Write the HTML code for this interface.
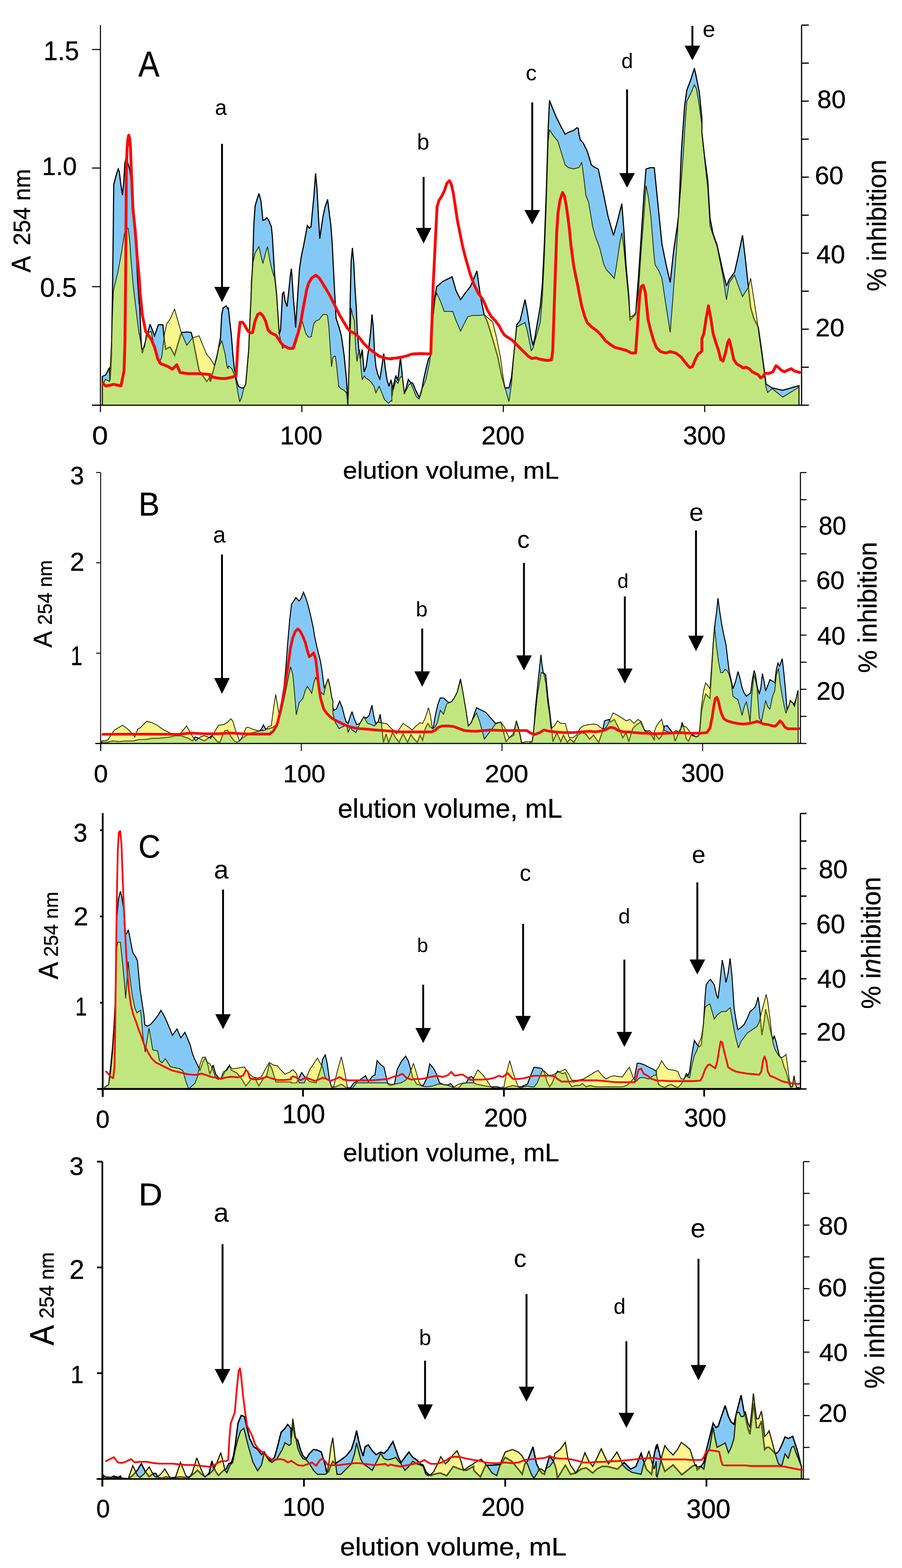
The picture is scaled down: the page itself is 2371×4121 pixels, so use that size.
<!DOCTYPE html>
<html><head><meta charset="utf-8"><title>Elution profiles A-D</title>
<style>
html,body{margin:0;padding:0;background:#fff;}
body{width:2371px;height:4121px;overflow:hidden;}
svg{display:block;font-family:"Liberation Sans", Arial, sans-serif;}
.fb{fill:#84c9f5;stroke:none}
.fy{fill:#f8f68c;stroke:none}
.fg{fill:#c1e67f;stroke:none}
.lb{fill:none;stroke:#000;stroke-width:var(--bw);stroke-linejoin:miter;stroke-miterlimit:3}
.lbo{fill:none;stroke:#6b6f0a;stroke-width:2.2;stroke-linejoin:miter;stroke-miterlimit:3}
.ly{fill:none;stroke:#1c2200;stroke-width:var(--yw);stroke-linejoin:miter;stroke-miterlimit:3}
.lr{fill:none;stroke:#f80a0a;stroke-width:var(--rw);stroke-linejoin:round;stroke-linecap:round}
.ax line{stroke:#000}
.as{stroke:#000;stroke-width:5}
.ar polygon{fill:#000}
.tx text{fill:#000;stroke:#000;stroke-width:0.6}
.tx text.l{stroke:none}
</style></head>
<body>
<svg width="2371" height="4121" viewBox="0 0 2371 4121">
<defs><clipPath id="clipA"><polygon points="269.0,1065 269.0,1011.3 277.5,996.7 287.8,1002.5 292.2,914.8 298.0,768.9 298.0,768.0 299.0,760.0 305.0,735.0 310.0,715.0 313.6,695.0 320.0,660.0 326.8,615.0 333.0,600.0 337.0,600.0 341.4,637.0 344.3,681.0 350.0,750.0 356.0,800.0 362.0,850.0 366.0,880.0 366.0,875.7 372.6,917.7 379.9,911.9 384.3,879.7 390.1,873.9 397.4,870.9 406.2,914.8 417.9,955.7 425.2,938.2 432.5,876.8 438.4,850.5 447.1,838.8 458.8,812.5 476.4,873.9 491.0,907.5 505.6,888.5 523.2,882.6 543.6,932.3 552.0,941.3 552.0,941.4 564.0,960.4 569.2,943.2 574.3,915.7 582.9,895.1 591.5,929.5 596.7,963.8 600.0,969.1 600.0,962.0 605.0,965.0 610.0,970.0 616.0,985.0 620.0,1000.0 625.0,1030.0 630.0,1056.0 635.0,1045.0 641.0,1020.0 646.0,1009.0 649.0,975.0 654.0,917.0 656.0,860.0 660.0,780.0 660.2,740.6 665.3,689.1 670.5,665.0 680.8,647.9 685.9,671.9 691.1,692.5 698.0,665.0 703.1,647.9 708.3,678.8 711.7,695.9 716.9,716.5 722.0,730.3 727.2,774.9 730.6,826.4 734.0,877.9 742.6,915.7 749.5,908.8 759.8,915.7 766.6,912.3 773.5,915.7 780.4,895.1 787.3,860.8 794.1,843.6 799.3,860.8 804.4,877.9 811.3,886.5 818.2,884.8 825.0,850.5 830.2,843.6 838.8,840.2 849.1,826.4 857.7,826.4 861.1,829.9 864.5,860.8 868.0,912.3 871.4,963.8 874.8,939.8 878.3,936.3 881.7,936.3 885.1,963.8 890.3,1015.3 897.1,1022.2 904.0,1025.6 910.9,1032.5 914.3,1063.4 917.7,963.8 922.9,809.3 926.3,826.4 931.5,843.6 934.9,915.7 938.4,950.1 941.8,929.5 945.2,919.1 948.7,963.8 952.1,998.1 957.2,987.8 962.4,994.7 969.3,998.1 976.1,1005.0 983.0,1015.3 988.1,1032.5 996.7,1015.3 1003.6,1032.5 1010.5,1049.6 1020.8,1059.9 1027.6,1053.1 1030.0,1054.4 1030.0,1004.1 1033.7,1024.7 1040.6,1000.7 1045.8,1007.6 1052.6,990.4 1057.8,990.4 1063.0,1035.1 1068.1,1024.7 1075.0,1011.0 1080.1,1007.6 1087.0,1024.7 1093.9,1041.9 1100.8,1048.8 1107.6,1024.7 1112.8,1014.4 1119.7,997.3 1124.8,973.2 1130.0,949.1 1136.8,852.9 1143.7,784.2 1147.8,770.4 1157.5,791.1 1167.8,818.6 1178.1,818.6 1190.1,818.6 1198.7,842.6 1210.7,870.1 1219.3,852.9 1229.6,832.3 1243.4,828.9 1260.5,828.9 1272.6,827.1 1294.9,846.0 1305.2,887.3 1315.5,938.8 1322.4,990.4 1327.6,1019.6 1337.9,1055.7 1344.7,1007.6 1349.9,938.8 1355.1,887.3 1358.5,859.8 1367.1,854.6 1380.1,847.8 1386.0,870.1 1391.1,894.2 1396.3,921.6 1401.4,914.8 1406.6,894.2 1411.8,877.0 1420.3,846.0 1425.5,784.2 1430.7,681.1 1435.8,543.6 1441.0,371.8 1444.4,340.9 1453.0,354.6 1466.7,371.8 1477.0,406.2 1485.6,433.7 1494.2,440.5 1508.0,444.0 1520.0,440.5 1522.0,440.4 1529.1,426.2 1534.5,466.2 1540.0,513.4 1547.2,531.6 1558.2,597.0 1565.4,622.5 1576.3,651.6 1587.2,695.2 1594.5,709.7 1605.4,720.6 1614.5,731.5 1618.1,713.3 1623.6,677.0 1629.0,640.7 1634.5,611.6 1639.9,651.6 1645.4,713.3 1650.8,767.9 1656.3,833.3 1663.6,829.6 1670.8,822.4 1678.1,767.9 1685.4,658.8 1692.6,568.0 1698.1,488.0 1703.5,513.4 1710.8,568.0 1718.1,658.8 1721.7,695.2 1732.6,713.3 1739.9,731.5 1750.8,804.2 1761.7,873.3 1767.1,804.2 1772.6,731.5 1778.0,658.8 1783.5,568.0 1790.8,477.1 1796.2,404.4 1801.7,313.6 1805.3,266.3 1816.2,244.5 1825.3,222.7 1830.7,233.6 1838.0,277.2 1845.0,329.7 1845.0,352.0 1852.2,420.9 1860.3,493.4 1866.4,594.2 1874.4,618.4 1884.5,646.6 1892.6,686.9 1900.6,727.2 1909.5,787.7 1916.7,743.4 1930.9,723.2 1940.9,751.4 1951.8,779.6 1959.1,767.6 1967.1,755.5 1973.2,731.3 1981.2,783.7 1989.3,836.1 1997.4,896.6 2005.4,953.0 2013.5,1017.5 2017.5,1031.6 2029.6,1021.5 2057.8,1043.7 2100.2,1017.5 2100.2,1065"/></clipPath><clipPath id="clipB"><polygon points="267.2,1954 267.2,1947.3 282.6,1945.5 299.8,1919.8 322.1,1906.0 335.8,1916.3 347.9,1928.4 354.7,1937.0 361.6,1916.3 368.5,1912.9 375.3,1906.0 385.6,1895.7 399.4,1899.2 413.1,1906.0 426.8,1916.3 440.6,1923.2 454.3,1930.1 468.0,1933.5 478.3,1923.2 490.4,1907.8 499.0,1923.2 509.3,1940.4 514.4,1947.3 526.4,1937.0 536.7,1933.5 547.0,1937.0 553.9,1940.4 564.2,1923.2 574.5,1906.0 588.2,1904.3 596.8,1899.2 607.1,1888.9 612.3,1895.7 619.1,1919.8 626.0,1937.0 629.4,1947.3 636.3,1937.0 646.6,1912.9 651.8,1911.2 663.8,1916.3 681.0,1921.5 687.8,1919.8 690.0,1918.1 690.0,1920.8 692.4,1920.1 698.3,1918.4 704.9,1910.1 713.2,1906.8 719.8,1855.4 724.8,1825.5 729.8,1855.4 733.1,1875.3 739.8,1868.6 746.4,1838.8 751.4,1813.9 759.7,1772.4 763.8,1752.4 769.6,1772.4 772.9,1805.6 776.3,1847.1 778.8,1878.6 786.2,1847.1 796.2,1835.4 802.8,1813.9 807.8,1803.9 814.4,1813.9 819.4,1822.2 824.4,1797.3 829.4,1780.7 834.4,1789.0 839.3,1813.9 846.0,1822.2 851.0,1825.5 856.8,1798.9 862.6,1784.0 867.6,1805.6 872.5,1835.4 875.0,1841.6 875.0,1874.6 880.8,1897.7 891.1,1914.9 898.0,1911.5 904.8,1908.0 911.7,1908.0 915.1,1925.2 920.3,1911.5 925.4,1918.4 935.7,1925.2 944.3,1904.6 956.3,1884.0 966.6,1901.2 977.0,1904.6 983.8,1908.0 994.1,1897.7 1001.0,1899.5 1011.3,1901.2 1018.2,1902.9 1025.0,1911.5 1035.3,1920.1 1042.2,1928.7 1052.5,1911.5 1059.4,1901.2 1069.7,1908.0 1083.4,1918.4 1093.7,1908.0 1104.0,1899.5 1110.9,1901.2 1117.7,1887.4 1126.3,1860.0 1131.5,1880.6 1136.6,1914.9 1143.5,1911.5 1150.4,1897.7 1157.2,1866.8 1165.8,1877.1 1174.4,1849.7 1186.4,1844.5 1193.3,1835.9 1201.9,1818.8 1210.5,1787.9 1217.3,1822.2 1224.2,1863.4 1231.1,1908.0 1240.0,1897.7 1240.0,1895.5 1240.6,1894.3 1252.6,1873.7 1261.2,1897.7 1273.2,1942.4 1288.7,1921.8 1302.4,1902.9 1316.2,1897.7 1326.5,1911.5 1333.3,1928.7 1338.5,1939.0 1348.8,1928.7 1357.4,1894.3 1362.5,1914.9 1367.7,1932.1 1371.1,1952.7 1381.4,1949.3 1398.6,1949.3 1405.4,1897.7 1412.3,1829.1 1419.2,1787.9 1422.6,1767.3 1429.5,1770.7 1434.6,1794.7 1439.8,1846.2 1444.9,1880.6 1448.4,1914.9 1457.0,1908.0 1465.5,1894.3 1474.1,1901.2 1486.1,1901.2 1491.3,1921.8 1496.4,1939.0 1505.0,1939.0 1515.3,1932.1 1523.9,1914.9 1532.5,1908.0 1546.2,1904.6 1560.0,1902.9 1570.3,1904.6 1577.1,1911.5 1584.0,1914.9 1590.9,1914.9 1597.7,1904.6 1611.5,1873.7 1621.8,1878.9 1635.5,1887.4 1645.8,1894.3 1656.1,1890.9 1666.4,1901.2 1676.7,1890.9 1685.3,1896.0 1695.6,1921.8 1707.6,1920.1 1720.0,1932.1 1720.0,1922.1 1721.1,1919.9 1725.3,1908.6 1731.0,1900.2 1739.4,1890.3 1746.5,1919.9 1753.5,1922.7 1763.4,1925.5 1770.4,1925.5 1776.0,1919.9 1784.5,1922.7 1792.9,1908.6 1798.6,1908.6 1804.2,1911.4 1812.6,1922.7 1821.1,1933.9 1829.5,1936.8 1836.6,1933.9 1839.4,1914.2 1843.6,1857.9 1849.2,1815.7 1854.9,1794.6 1860.5,1801.6 1866.1,1810.0 1870.4,1750.9 1874.6,1689.0 1878.0,1643.9 1883.0,1694.6 1888.7,1739.6 1894.3,1767.8 1899.9,1767.8 1905.6,1759.4 1911.2,1762.2 1916.8,1773.4 1922.5,1796.0 1926.7,1829.8 1933.7,1835.4 1939.4,1838.2 1945.0,1857.9 1950.6,1880.4 1956.2,1857.9 1961.9,1843.8 1967.5,1872.0 1971.7,1897.3 1976.0,1829.8 1981.6,1773.4 1985.8,1787.5 1990.0,1807.2 1995.7,1886.1 2001.3,1897.3 2006.9,1869.2 2012.6,1841.0 2018.2,1857.9 2023.8,1863.5 2030.9,1829.8 2036.5,1815.7 2040.7,1773.4 2046.4,1756.5 2050.6,1796.0 2056.2,1829.8 2061.8,1857.9 2066.1,1874.8 2071.7,1857.9 2077.3,1843.8 2083.0,1846.6 2088.6,1857.9 2094.2,1829.8 2098.0,1815.7 2098.0,1954"/></clipPath><clipPath id="clipC"><polygon points="275.3,2862 275.3,2857.4 285.6,2850.5 290.8,2819.6 295.9,2768.1 299.3,2716.6 302.8,2630.8 306.2,2493.4 309.6,2476.2 316.5,2476.2 321.7,2527.7 326.8,2579.3 330.2,2623.9 333.7,2579.3 337.1,2527.7 340.5,2562.1 347.4,2613.6 354.3,2647.9 359.8,2662.0 369.6,2654.8 370.8,2667.9 375.9,2725.9 381.8,2765.0 391.7,2702.0 401.5,2758.9 414.7,2762.6 418.8,2787.0 425.7,2793.5 434.5,2782.6 447.7,2803.3 471.9,2808.8 480.7,2814.1 488.4,2842.0 496.0,2862.0 512.3,2847.1 519.1,2829.9 526.0,2795.6 532.9,2778.4 539.7,2778.4 544.9,2792.2 551.7,2795.6 560.3,2812.8 567.2,2833.4 574.1,2836.8 580.9,2833.4 587.8,2816.2 596.4,2812.8 603.3,2802.5 611.8,2809.3 622.1,2807.6 632.4,2805.9 642.7,2804.2 653.0,2819.6 663.4,2829.9 677.1,2833.4 687.4,2829.9 697.7,2809.3 708.0,2792.2 718.3,2799.0 728.6,2800.8 738.9,2812.8 749.2,2823.1 765.0,2816.2 765.0,2813.3 770.8,2811.7 779.3,2822.0 786.2,2846.0 799.9,2846.0 813.7,2811.7 834.3,2780.8 848.0,2804.8 854.9,2832.3 865.2,2839.2 872.1,2856.3 877.2,2856.3 885.8,2818.6 897.1,2777.4 906.4,2818.6 913.3,2858.1 927.0,2859.8 937.3,2846.0 951.0,2846.0 960.7,2846.0 968.2,2846.0 978.5,2846.0 991.2,2846.0 1000.8,2846.0 1016.3,2846.0 1026.6,2849.5 1036.9,2849.5 1054.1,2846.0 1066.1,2839.2 1074.7,2828.9 1086.7,2794.5 1095.3,2822.0 1102.1,2846.0 1109.0,2854.6 1122.7,2856.3 1136.5,2854.6 1150.2,2849.5 1164.0,2849.5 1177.7,2852.9 1191.4,2858.1 1205.2,2849.5 1218.9,2846.0 1232.6,2846.0 1245.0,2846.0 1245.0,2832.3 1245.6,2832.3 1255.9,2811.7 1269.6,2825.4 1279.9,2839.2 1290.2,2856.3 1297.1,2859.8 1310.9,2859.8 1324.6,2856.3 1331.5,2818.6 1340.0,2787.7 1348.6,2818.6 1355.5,2839.2 1362.4,2856.3 1369.2,2859.8 1376.1,2856.3 1386.4,2854.6 1396.7,2856.3 1403.6,2857.0 1412.2,2846.0 1419.0,2828.9 1425.9,2813.4 1431.0,2815.1 1441.3,2825.4 1451.6,2825.4 1465.4,2818.6 1475.7,2815.1 1486.0,2810.0 1496.3,2825.4 1503.2,2839.2 1516.9,2839.2 1534.1,2835.7 1551.2,2825.4 1561.5,2818.6 1571.8,2813.4 1582.1,2825.4 1592.4,2835.7 1602.7,2830.6 1613.0,2827.2 1623.4,2828.9 1635.4,2830.6 1644.0,2818.6 1654.3,2804.8 1664.6,2832.3 1671.4,2842.6 1681.7,2832.3 1692.0,2832.3 1705.8,2835.7 1719.5,2825.4 1725.0,2825.4 1725.3,2813.3 1731.0,2804.8 1739.4,2787.9 1747.9,2802.0 1756.3,2810.4 1764.8,2811.8 1773.2,2813.3 1781.7,2816.1 1790.1,2835.8 1797.1,2835.8 1804.2,2827.3 1808.4,2830.2 1812.6,2833.0 1818.3,2802.0 1825.3,2773.8 1832.3,2759.8 1838.0,2740.0 1843.6,2726.0 1849.2,2689.4 1853.5,2647.1 1860.5,2641.5 1866.1,2638.7 1871.8,2658.4 1877.4,2678.1 1885.9,2666.8 1897.1,2658.4 1908.4,2658.4 1914.0,2652.7 1919.6,2648.5 1923.9,2675.3 1928.1,2697.8 1933.7,2726.0 1940.8,2754.1 1947.8,2737.2 1956.2,2726.0 1964.7,2714.7 1973.1,2709.1 1981.6,2703.4 1990.0,2697.8 1995.7,2686.5 2001.3,2661.2 2008.3,2635.9 2014.0,2613.3 2018.2,2633.0 2023.8,2675.3 2028.1,2714.7 2032.3,2742.9 2037.9,2759.8 2046.4,2773.8 2054.8,2779.5 2060.4,2776.6 2066.1,2771.0 2070.3,2802.0 2074.5,2835.8 2078.7,2855.5 2083.0,2855.5 2087.2,2827.3 2090.0,2844.2 2094.2,2858.3 2099.9,2858.3 2099.9,2862"/></clipPath><clipPath id="clipD"><polygon points="271.9,3887 271.9,3881.2 319.9,3884.6 337.1,3886.3 349.1,3852.0 361.2,3877.7 368.0,3882.9 378.3,3874.3 392.1,3855.4 404.1,3877.7 410.9,3882.9 421.2,3876.0 433.3,3860.6 445.3,3881.2 452.2,3886.3 460.7,3884.6 474.5,3843.4 488.2,3877.7 496.8,3884.6 505.4,3870.9 517.4,3831.4 529.4,3864.0 538.0,3881.2 550.0,3874.3 560.3,3864.0 570.6,3843.4 580.2,3817.7 586.1,3840.0 591.2,3864.0 596.4,3870.9 605.0,3850.3 611.8,3843.4 618.7,3809.1 625.6,3781.6 632.4,3761.0 641.0,3754.1 653.0,3802.2 665.1,3843.4 677.1,3865.7 687.4,3850.3 694.3,3819.4 701.1,3829.7 708.0,3840.0 714.9,3843.4 721.7,3838.3 728.6,3833.1 742.3,3809.1 749.2,3791.9 759.5,3798.8 765.0,3795.3 765.0,3785.8 769.7,3728.8 775.9,3771.7 782.8,3806.0 789.6,3823.2 796.5,3833.5 805.1,3837.0 813.7,3847.3 824.0,3864.4 834.3,3874.7 844.6,3874.7 854.9,3874.7 860.0,3871.3 865.2,3840.4 869.3,3806.0 874.8,3778.6 880.6,3833.5 885.8,3874.7 896.1,3874.7 909.8,3861.0 923.6,3847.3 932.2,3819.8 937.3,3792.3 942.5,3812.9 947.6,3833.5 954.5,3847.3 964.8,3854.1 978.5,3864.4 988.8,3843.8 1000.8,3819.8 1009.4,3833.5 1019.7,3837.0 1032.8,3833.5 1040.3,3830.1 1047.2,3840.4 1054.1,3847.3 1064.4,3864.4 1074.7,3854.1 1085.0,3840.4 1095.3,3847.3 1105.6,3850.7 1112.4,3854.1 1119.3,3874.7 1126.2,3878.2 1133.0,3874.7 1139.9,3867.9 1150.2,3847.3 1158.8,3828.4 1170.8,3847.3 1177.7,3840.4 1191.4,3823.2 1201.7,3812.9 1208.6,3830.1 1218.9,3864.4 1232.6,3854.1 1245.0,3847.3 1245.0,3845.7 1264.5,3835.2 1276.5,3847.3 1293.7,3871.3 1305.7,3878.2 1317.7,3840.4 1328.0,3816.3 1346.9,3809.5 1362.4,3816.3 1372.7,3826.6 1379.5,3840.4 1386.4,3847.3 1396.7,3874.7 1403.6,3885.0 1412.2,3871.3 1417.3,3861.0 1424.2,3861.0 1431.0,3867.9 1437.9,3857.6 1444.8,3854.1 1455.1,3840.4 1458.5,3819.8 1472.3,3809.5 1486.0,3790.6 1492.9,3833.5 1499.7,3850.7 1513.5,3871.3 1527.2,3847.3 1537.5,3818.1 1547.8,3840.4 1558.1,3854.1 1568.4,3833.5 1580.4,3807.8 1592.4,3833.5 1599.3,3847.3 1609.6,3833.5 1621.6,3816.3 1630.2,3833.5 1637.1,3850.7 1647.4,3861.0 1661.1,3869.6 1685.2,3874.7 1692.0,3847.3 1698.9,3833.5 1705.8,3812.9 1712.6,3840.4 1719.5,3861.0 1725.0,3840.4 1725.0,3878.3 1727.4,3881.7 1734.6,3852.9 1740.4,3824.0 1747.6,3799.5 1757.7,3812.5 1769.2,3824.0 1780.8,3809.6 1790.9,3790.9 1801.0,3798.1 1813.9,3809.6 1821.2,3832.7 1826.9,3850.0 1834.1,3855.8 1841.3,3852.9 1850.0,3861.5 1857.2,3824.0 1865.9,3803.8 1874.5,3751.9 1878.8,3775.0 1884.6,3803.8 1896.2,3798.1 1906.2,3792.3 1914.9,3818.3 1922.1,3803.8 1929.3,3780.8 1935.1,3714.4 1942.3,3711.5 1948.1,3723.1 1953.8,3723.1 1959.6,3711.5 1965.4,3737.5 1971.2,3751.9 1976.9,3700.0 1980.4,3662.5 1984.1,3694.2 1988.5,3728.8 1994.2,3728.8 2001.4,3708.7 2005.8,3737.5 2010.1,3775.0 2015.9,3769.2 2021.6,3760.6 2027.4,3780.8 2033.2,3803.8 2038.9,3824.0 2046.2,3847.1 2054.8,3852.9 2063.5,3821.2 2072.1,3832.7 2080.8,3803.8 2086.5,3801.0 2092.3,3818.3 2098.1,3832.7 2103.8,3847.1 2106.7,3852.9 2106.7,3887"/></clipPath></defs>
<g id="pA" style="--rw:7.5;--bw:3;--yw:2">
<polygon class="fb" points="269.0,1065 269.0,989.4 278.1,985.0 287.8,966.0 289.2,999.6 292.7,944.0 295.7,768.6 298.0,579.5 298.0,578.0 299.0,485.0 305.0,462.0 310.7,444.0 313.6,451.0 317.0,480.0 321.7,512.7 325.3,479.0 328.2,429.0 331.2,415.0 336.0,428.0 341.0,445.0 345.0,475.0 348.7,520.0 353.0,578.5 357.5,651.6 362.0,740.0 366.0,800.0 366.0,772.4 371.1,900.2 374.0,928.0 379.9,906.0 385.7,885.6 394.5,851.9 406.2,882.6 416.4,853.4 428.1,853.4 431.1,885.6 435.4,917.7 447.1,911.9 458.8,933.8 474.9,879.7 477.8,873.9 491.0,872.4 502.7,873.9 507.1,891.4 523.2,973.3 543.6,1002.5 552.0,991.3 552.0,1001.6 553.7,1001.6 570.9,932.9 579.5,888.2 582.9,826.4 586.4,809.3 594.9,804.1 600.0,813.9 600.0,808.0 604.0,845.0 608.0,880.0 612.0,930.0 616.0,969.0 622.0,1000.0 627.0,1016.0 636.0,1020.0 641.0,1019.0 646.0,1009.0 649.0,975.0 654.0,917.0 656.0,860.0 660.0,780.0 660.0,772.4 660.9,757.7 664.3,689.1 667.1,592.9 670.5,541.4 675.6,524.2 680.8,508.8 685.9,527.7 691.1,579.2 696.2,577.5 701.4,572.3 706.6,579.2 713.4,596.3 715.8,620.4 717.9,654.7 722.0,723.4 727.2,774.9 730.6,826.4 734.0,877.9 737.5,867.6 742.6,771.5 746.0,768.0 749.5,792.1 754.6,805.8 759.8,757.7 763.2,723.4 766.0,706.2 768.4,740.6 771.8,792.1 775.2,829.9 777.0,860.8 780.4,809.3 783.8,757.7 787.3,706.2 792.4,671.9 797.6,647.9 802.7,620.4 807.9,592.9 813.0,599.8 817.5,596.3 821.6,551.7 825.0,517.4 829.5,455.5 833.6,500.2 837.0,568.9 840.5,627.3 843.9,603.2 849.1,568.9 854.2,544.8 861.1,524.2 864.5,551.7 869.7,592.9 873.1,637.6 876.5,706.2 880.0,774.9 883.4,836.7 890.3,857.3 897.1,881.4 904.0,929.5 910.9,998.1 914.3,1063.4 917.7,963.8 920.5,792.1 922.9,689.1 926.3,651.3 929.8,689.1 933.2,757.7 936.6,809.3 939.0,867.6 943.5,922.6 946.9,943.2 952.1,919.1 957.2,977.5 962.4,963.8 969.3,915.7 974.4,871.1 977.8,826.4 981.3,860.8 984.7,929.5 988.1,963.8 993.3,984.4 998.4,998.1 1003.6,963.8 1008.8,929.5 1012.2,963.8 1017.3,998.1 1022.5,1015.3 1027.6,998.1 1030.0,1009.9 1030.3,1041.9 1035.5,1007.6 1040.6,986.9 1045.8,1000.7 1052.6,938.8 1057.8,990.4 1063.0,1035.1 1068.1,1017.9 1073.3,997.3 1078.4,1004.1 1085.3,1007.6 1092.2,1024.7 1102.5,1045.4 1107.6,1031.6 1112.8,1000.7 1119.7,969.8 1126.5,942.3 1131.7,935.4 1138.6,818.6 1143.7,777.3 1147.8,753.3 1164.3,739.5 1178.1,732.6 1188.4,727.5 1198.7,763.6 1210.7,787.6 1222.7,770.4 1236.5,753.3 1246.8,729.2 1253.7,712.0 1258.8,749.8 1264.0,784.2 1272.6,827.1 1281.2,846.0 1294.9,890.7 1308.7,938.8 1319.0,990.4 1327.6,1019.6 1337.9,1019.6 1344.7,990.4 1349.9,938.8 1355.1,887.3 1358.5,852.9 1367.1,842.6 1380.1,787.6 1386.0,818.6 1391.1,852.9 1396.3,887.3 1401.4,907.9 1406.6,883.8 1411.8,852.9 1420.3,804.8 1425.5,749.8 1430.7,646.7 1435.8,509.3 1441.0,337.5 1444.4,263.6 1453.0,285.9 1463.3,310.0 1473.6,330.6 1485.6,352.9 1494.2,347.8 1508.0,342.6 1516.6,335.7 1520.0,337.5 1522.0,353.4 1525.4,368.1 1532.7,375.3 1543.6,397.1 1554.5,433.5 1561.8,438.9 1572.7,444.4 1587.2,513.4 1598.1,568.0 1612.7,618.8 1623.6,578.9 1634.5,535.3 1639.9,604.3 1645.4,695.2 1652.6,775.1 1656.3,840.6 1663.6,833.3 1670.8,826.0 1678.1,731.5 1685.4,622.5 1692.6,513.4 1698.1,444.4 1709.0,440.8 1719.9,440.8 1725.3,495.3 1732.6,568.0 1739.9,640.7 1750.8,695.2 1761.7,742.4 1770.8,658.8 1779.9,597.0 1783.5,568.0 1787.1,495.3 1790.8,404.4 1794.4,349.9 1799.8,277.2 1805.3,237.2 1816.2,208.2 1825.3,179.1 1830.7,204.5 1838.0,240.9 1845.0,310.8 1845.0,347.6 1852.2,412.8 1860.3,473.3 1866.4,574.1 1874.4,614.4 1884.5,642.6 1892.6,678.9 1900.6,715.1 1909.5,751.4 1916.7,735.3 1930.9,715.1 1940.9,670.8 1951.8,618.4 1959.1,678.9 1965.1,735.3 1973.2,807.9 1981.2,836.1 1993.3,860.3 2001.4,916.7 2009.5,977.2 2013.5,1009.4 2029.6,1019.5 2057.8,1025.6 2100.2,1013.5 2100.2,1065"/>
<polygon class="fy" points="269.0,1065 269.0,1011.3 277.5,996.7 287.8,1002.5 292.2,914.8 298.0,768.9 298.0,768.0 299.0,760.0 305.0,735.0 310.0,715.0 313.6,695.0 320.0,660.0 326.8,615.0 333.0,600.0 337.0,600.0 341.4,637.0 344.3,681.0 350.0,750.0 356.0,800.0 362.0,850.0 366.0,880.0 366.0,875.7 372.6,917.7 379.9,911.9 384.3,879.7 390.1,873.9 397.4,870.9 406.2,914.8 417.9,955.7 425.2,938.2 432.5,876.8 438.4,850.5 447.1,838.8 458.8,812.5 476.4,873.9 491.0,907.5 505.6,888.5 523.2,882.6 543.6,932.3 552.0,941.3 552.0,941.4 564.0,960.4 569.2,943.2 574.3,915.7 582.9,895.1 591.5,929.5 596.7,963.8 600.0,969.1 600.0,962.0 605.0,965.0 610.0,970.0 616.0,985.0 620.0,1000.0 625.0,1030.0 630.0,1056.0 635.0,1045.0 641.0,1020.0 646.0,1009.0 649.0,975.0 654.0,917.0 656.0,860.0 660.0,780.0 660.2,740.6 665.3,689.1 670.5,665.0 680.8,647.9 685.9,671.9 691.1,692.5 698.0,665.0 703.1,647.9 708.3,678.8 711.7,695.9 716.9,716.5 722.0,730.3 727.2,774.9 730.6,826.4 734.0,877.9 742.6,915.7 749.5,908.8 759.8,915.7 766.6,912.3 773.5,915.7 780.4,895.1 787.3,860.8 794.1,843.6 799.3,860.8 804.4,877.9 811.3,886.5 818.2,884.8 825.0,850.5 830.2,843.6 838.8,840.2 849.1,826.4 857.7,826.4 861.1,829.9 864.5,860.8 868.0,912.3 871.4,963.8 874.8,939.8 878.3,936.3 881.7,936.3 885.1,963.8 890.3,1015.3 897.1,1022.2 904.0,1025.6 910.9,1032.5 914.3,1063.4 917.7,963.8 922.9,809.3 926.3,826.4 931.5,843.6 934.9,915.7 938.4,950.1 941.8,929.5 945.2,919.1 948.7,963.8 952.1,998.1 957.2,987.8 962.4,994.7 969.3,998.1 976.1,1005.0 983.0,1015.3 988.1,1032.5 996.7,1015.3 1003.6,1032.5 1010.5,1049.6 1020.8,1059.9 1027.6,1053.1 1030.0,1054.4 1030.0,1004.1 1033.7,1024.7 1040.6,1000.7 1045.8,1007.6 1052.6,990.4 1057.8,990.4 1063.0,1035.1 1068.1,1024.7 1075.0,1011.0 1080.1,1007.6 1087.0,1024.7 1093.9,1041.9 1100.8,1048.8 1107.6,1024.7 1112.8,1014.4 1119.7,997.3 1124.8,973.2 1130.0,949.1 1136.8,852.9 1143.7,784.2 1147.8,770.4 1157.5,791.1 1167.8,818.6 1178.1,818.6 1190.1,818.6 1198.7,842.6 1210.7,870.1 1219.3,852.9 1229.6,832.3 1243.4,828.9 1260.5,828.9 1272.6,827.1 1294.9,846.0 1305.2,887.3 1315.5,938.8 1322.4,990.4 1327.6,1019.6 1337.9,1055.7 1344.7,1007.6 1349.9,938.8 1355.1,887.3 1358.5,859.8 1367.1,854.6 1380.1,847.8 1386.0,870.1 1391.1,894.2 1396.3,921.6 1401.4,914.8 1406.6,894.2 1411.8,877.0 1420.3,846.0 1425.5,784.2 1430.7,681.1 1435.8,543.6 1441.0,371.8 1444.4,340.9 1453.0,354.6 1466.7,371.8 1477.0,406.2 1485.6,433.7 1494.2,440.5 1508.0,444.0 1520.0,440.5 1522.0,440.4 1529.1,426.2 1534.5,466.2 1540.0,513.4 1547.2,531.6 1558.2,597.0 1565.4,622.5 1576.3,651.6 1587.2,695.2 1594.5,709.7 1605.4,720.6 1614.5,731.5 1618.1,713.3 1623.6,677.0 1629.0,640.7 1634.5,611.6 1639.9,651.6 1645.4,713.3 1650.8,767.9 1656.3,833.3 1663.6,829.6 1670.8,822.4 1678.1,767.9 1685.4,658.8 1692.6,568.0 1698.1,488.0 1703.5,513.4 1710.8,568.0 1718.1,658.8 1721.7,695.2 1732.6,713.3 1739.9,731.5 1750.8,804.2 1761.7,873.3 1767.1,804.2 1772.6,731.5 1778.0,658.8 1783.5,568.0 1790.8,477.1 1796.2,404.4 1801.7,313.6 1805.3,266.3 1816.2,244.5 1825.3,222.7 1830.7,233.6 1838.0,277.2 1845.0,329.7 1845.0,352.0 1852.2,420.9 1860.3,493.4 1866.4,594.2 1874.4,618.4 1884.5,646.6 1892.6,686.9 1900.6,727.2 1909.5,787.7 1916.7,743.4 1930.9,723.2 1940.9,751.4 1951.8,779.6 1959.1,767.6 1967.1,755.5 1973.2,731.3 1981.2,783.7 1989.3,836.1 1997.4,896.6 2005.4,953.0 2013.5,1017.5 2017.5,1031.6 2029.6,1021.5 2057.8,1043.7 2100.2,1017.5 2100.2,1065"/>
<polygon class="fg" points="269.0,1065 269.0,1011.3 277.5,996.7 278.1,997.0 287.8,1002.1 288.6,985.5 289.2,998.7 292.2,952.7 292.7,944.8 294.0,871.4 295.7,826.4 298.0,768.0 299.0,760.0 305.0,735.0 310.0,715.0 310.7,711.1 313.6,695.0 317.0,676.4 320.0,660.0 321.7,648.8 325.3,624.9 326.8,615.0 328.2,611.6 331.2,604.4 333.0,600.0 336.0,600.0 337.0,600.0 341.0,633.6 341.4,637.0 344.3,681.0 345.0,689.5 348.7,734.3 350.0,750.0 353.0,775.0 356.0,800.0 357.5,812.5 362.0,850.0 366.0,875.7 371.1,908.3 372.6,917.7 372.9,917.4 374.0,927.6 377.9,913.6 379.9,911.7 381.4,900.6 384.3,890.6 385.7,885.7 388.3,875.7 390.1,873.9 394.5,872.1 397.4,870.9 406.2,914.8 416.4,950.5 417.9,955.7 425.2,938.2 428.1,913.9 431.1,888.7 431.3,887.2 432.5,896.2 435.4,917.4 438.4,916.2 447.1,911.9 458.8,933.7 474.9,879.7 476.4,876.7 477.1,875.4 477.8,877.1 491.0,907.5 502.7,892.3 505.6,888.5 506.3,888.3 507.1,891.5 523.2,973.3 543.6,1002.5 552.0,1001.6 553.7,1001.6 564.0,960.5 564.3,959.5 569.2,943.1 570.9,934.1 574.3,915.9 579.5,903.3 582.9,895.2 586.4,909.0 591.5,929.4 594.9,952.0 596.7,963.9 600.0,962.0 604.0,964.4 605.0,965.0 608.0,968.0 610.0,970.0 612.0,975.0 616.0,985.0 620.0,1000.0 622.0,1012.0 625.0,1030.0 627.0,1040.4 630.0,1056.0 635.0,1045.0 636.0,1040.8 641.0,1020.0 646.0,1009.0 649.0,975.0 654.0,917.0 656.0,860.0 660.0,780.0 660.0,771.7 660.2,769.1 660.9,757.3 663.3,709.7 664.3,699.5 665.3,689.5 667.1,680.9 670.5,665.0 675.6,656.5 680.8,647.9 685.9,671.7 691.1,692.5 696.2,672.1 698.0,664.9 701.4,653.6 703.1,647.9 706.6,668.7 708.3,678.9 711.7,695.9 713.4,702.7 715.8,712.3 716.9,716.7 717.9,719.3 722.0,730.3 727.2,775.6 730.6,826.6 734.0,877.6 737.5,893.2 742.6,915.7 746.0,912.3 749.5,908.9 754.6,912.3 759.8,915.7 763.2,914.0 766.0,912.6 766.6,912.3 768.4,913.2 771.8,914.9 773.5,915.7 775.2,910.7 777.0,905.3 780.4,895.0 783.8,878.0 787.3,860.7 792.4,847.9 794.1,843.7 797.6,855.2 799.3,860.9 802.7,872.2 804.4,877.9 807.9,882.3 811.3,886.5 813.0,886.1 817.5,885.0 818.2,884.6 821.6,867.6 825.0,850.6 829.5,844.5 830.2,843.6 833.6,842.2 837.0,840.9 838.8,840.1 840.5,837.8 843.9,833.3 849.1,826.4 854.2,826.4 857.7,826.5 861.1,830.0 864.5,860.6 868.0,913.0 869.7,938.5 871.4,963.7 873.1,951.8 874.8,939.9 876.5,938.1 878.3,936.3 880.0,936.3 881.7,936.4 883.4,950.0 885.1,963.6 890.3,1015.3 897.1,1022.1 904.0,1025.6 910.9,1032.7 914.3,1063.3 917.7,965.2 920.5,881.2 922.9,809.3 926.3,826.3 929.8,838.0 931.5,843.9 933.2,879.6 934.9,915.3 936.6,932.5 938.4,949.8 939.0,946.2 941.8,929.4 943.5,924.3 943.7,923.7 945.2,932.8 946.9,943.0 947.0,942.8 948.7,964.3 952.1,998.1 957.2,987.9 962.4,994.7 969.3,998.2 974.4,1003.3 976.1,1005.0 977.8,1007.5 981.3,1012.8 983.0,1015.3 984.7,1021.0 988.1,1032.3 993.3,1022.2 996.7,1015.4 998.4,1019.5 1003.6,1032.5 1008.8,1045.5 1010.5,1049.7 1012.2,1051.4 1017.3,1056.5 1020.8,1059.9 1022.5,1058.2 1027.6,1053.1 1029.8,1054.3 1030.0,1009.9 1030.3,1041.0 1033.3,1022.2 1033.7,1024.5 1035.5,1018.6 1040.6,1000.8 1045.8,1007.5 1052.6,990.5 1057.8,990.4 1063.0,1035.0 1068.1,1024.8 1073.3,1014.4 1075.0,1011.0 1078.4,1008.7 1080.1,1007.6 1085.3,1020.5 1087.0,1024.7 1092.2,1037.7 1093.9,1041.9 1100.8,1048.6 1102.0,1044.5 1102.5,1045.3 1107.6,1031.7 1109.3,1021.4 1112.8,1014.4 1119.7,997.0 1124.8,973.2 1126.5,965.3 1130.0,948.7 1130.9,936.5 1131.7,935.1 1135.1,877.0 1136.8,853.5 1138.6,835.3 1143.7,784.3 1147.8,770.6 1157.5,791.2 1164.3,809.3 1167.8,818.6 1178.1,818.6 1188.4,818.6 1190.1,818.6 1198.7,842.6 1210.7,870.1 1219.3,852.9 1222.7,846.1 1229.6,832.3 1236.5,830.6 1243.4,828.9 1246.8,828.9 1253.7,828.9 1258.8,828.9 1260.5,828.9 1264.0,828.4 1272.6,827.2 1272.6,827.2 1281.2,846.2 1294.9,890.7 1305.2,926.7 1308.7,939.0 1315.5,973.0 1319.0,990.5 1322.4,1002.0 1327.5,1019.5 1327.6,1019.7 1337.9,1055.5 1344.7,1007.9 1349.9,938.8 1355.1,886.9 1358.5,859.8 1367.1,854.6 1380.1,847.8 1386.0,870.2 1391.1,894.0 1396.3,921.6 1401.4,914.8 1406.6,894.2 1411.8,876.8 1420.3,846.2 1425.5,784.2 1430.7,679.8 1435.8,543.8 1441.0,371.5 1444.4,340.9 1453.0,354.7 1463.3,367.5 1466.7,371.8 1473.6,394.7 1477.0,406.0 1485.6,433.6 1494.2,440.5 1508.0,444.0 1516.6,441.5 1520.0,440.5 1522.0,440.4 1525.4,433.6 1529.1,426.4 1532.7,452.8 1534.5,466.0 1540.0,513.5 1543.6,522.5 1547.2,531.5 1554.5,575.1 1558.2,597.2 1561.8,609.8 1565.4,622.4 1572.7,641.9 1576.3,651.5 1587.2,695.1 1594.5,709.7 1598.1,713.3 1605.4,720.6 1612.7,729.4 1614.5,731.4 1618.1,713.4 1623.6,676.8 1629.0,640.8 1634.5,611.8 1639.9,651.4 1645.4,713.6 1650.8,767.6 1652.6,789.1 1655.1,818.7 1656.3,840.5 1663.6,833.2 1670.8,826.0 1671.5,817.6 1678.1,767.7 1685.4,658.3 1692.6,568.3 1698.1,488.1 1703.5,513.3 1709.0,554.5 1710.8,568.0 1718.1,659.1 1719.9,677.1 1721.7,695.1 1725.3,701.2 1732.6,713.3 1739.9,731.7 1750.8,804.3 1761.7,873.0 1767.1,804.6 1770.8,755.3 1772.6,731.3 1778.0,659.3 1779.9,627.8 1783.5,567.8 1787.1,522.8 1790.8,476.5 1794.4,428.5 1796.2,404.5 1799.8,344.6 1801.7,313.1 1805.3,266.3 1816.2,244.5 1825.3,222.7 1830.7,233.5 1838.0,277.2 1845.0,352.0 1852.2,420.4 1860.3,493.3 1866.4,594.3 1874.4,618.3 1884.5,646.6 1892.6,687.1 1900.6,727.1 1909.5,787.7 1916.7,743.7 1930.9,723.3 1940.9,751.3 1951.8,779.6 1959.1,767.5 1965.1,758.5 1967.1,755.5 1967.3,754.9 1973.2,807.9 1981.2,835.9 1989.3,852.2 1992.2,858.1 1993.3,866.0 1997.4,896.7 2001.4,924.7 2005.4,952.7 2009.5,985.5 2013.5,1017.5 2017.5,1031.5 2029.6,1021.5 2057.8,1043.7 2100.2,1017.5 2100.2,1065"/>
<polyline class="lb" points="269.0,1065.0 269.0,989.4 278.1,985.0 287.8,966.0 289.2,999.6 292.7,944.0 295.7,768.6 298.0,579.5 298.0,578.0 299.0,485.0 305.0,462.0 310.7,444.0 313.6,451.0 317.0,480.0 321.7,512.7 325.3,479.0 328.2,429.0 331.2,415.0 336.0,428.0 341.0,445.0 345.0,475.0 348.7,520.0 353.0,578.5 357.5,651.6 362.0,740.0 366.0,800.0 366.0,772.4 371.1,900.2 374.0,928.0 379.9,906.0 385.7,885.6 394.5,851.9 406.2,882.6 416.4,853.4 428.1,853.4 431.1,885.6 435.4,917.7 447.1,911.9 458.8,933.8 474.9,879.7 477.8,873.9 491.0,872.4 502.7,873.9 507.1,891.4 523.2,973.3 543.6,1002.5 552.0,991.3 552.0,1001.6 553.7,1001.6 570.9,932.9 579.5,888.2 582.9,826.4 586.4,809.3 594.9,804.1 600.0,813.9 600.0,808.0 604.0,845.0 608.0,880.0 612.0,930.0 616.0,969.0 622.0,1000.0 627.0,1016.0 636.0,1020.0 641.0,1019.0 646.0,1009.0 649.0,975.0 654.0,917.0 656.0,860.0 660.0,780.0 660.0,772.4 660.9,757.7 664.3,689.1 667.1,592.9 670.5,541.4 675.6,524.2 680.8,508.8 685.9,527.7 691.1,579.2 696.2,577.5 701.4,572.3 706.6,579.2 713.4,596.3 715.8,620.4 717.9,654.7 722.0,723.4 727.2,774.9 730.6,826.4 734.0,877.9 737.5,867.6 742.6,771.5 746.0,768.0 749.5,792.1 754.6,805.8 759.8,757.7 763.2,723.4 766.0,706.2 768.4,740.6 771.8,792.1 775.2,829.9 777.0,860.8 780.4,809.3 783.8,757.7 787.3,706.2 792.4,671.9 797.6,647.9 802.7,620.4 807.9,592.9 813.0,599.8 817.5,596.3 821.6,551.7 825.0,517.4 829.5,455.5 833.6,500.2 837.0,568.9 840.5,627.3 843.9,603.2 849.1,568.9 854.2,544.8 861.1,524.2 864.5,551.7 869.7,592.9 873.1,637.6 876.5,706.2 880.0,774.9 883.4,836.7 890.3,857.3 897.1,881.4 904.0,929.5 910.9,998.1 914.3,1063.4 917.7,963.8 920.5,792.1 922.9,689.1 926.3,651.3 929.8,689.1 933.2,757.7 936.6,809.3 939.0,867.6 943.5,922.6 946.9,943.2 952.1,919.1 957.2,977.5 962.4,963.8 969.3,915.7 974.4,871.1 977.8,826.4 981.3,860.8 984.7,929.5 988.1,963.8 993.3,984.4 998.4,998.1 1003.6,963.8 1008.8,929.5 1012.2,963.8 1017.3,998.1 1022.5,1015.3 1027.6,998.1 1030.0,1009.9 1030.3,1041.9 1035.5,1007.6 1040.6,986.9 1045.8,1000.7 1052.6,938.8 1057.8,990.4 1063.0,1035.1 1068.1,1017.9 1073.3,997.3 1078.4,1004.1 1085.3,1007.6 1092.2,1024.7 1102.5,1045.4 1107.6,1031.6 1112.8,1000.7 1119.7,969.8 1126.5,942.3 1131.7,935.4 1138.6,818.6 1143.7,777.3 1147.8,753.3 1164.3,739.5 1178.1,732.6 1188.4,727.5 1198.7,763.6 1210.7,787.6 1222.7,770.4 1236.5,753.3 1246.8,729.2 1253.7,712.0 1258.8,749.8 1264.0,784.2 1272.6,827.1 1281.2,846.0 1294.9,890.7 1308.7,938.8 1319.0,990.4 1327.6,1019.6 1337.9,1019.6 1344.7,990.4 1349.9,938.8 1355.1,887.3 1358.5,852.9 1367.1,842.6 1380.1,787.6 1386.0,818.6 1391.1,852.9 1396.3,887.3 1401.4,907.9 1406.6,883.8 1411.8,852.9 1420.3,804.8 1425.5,749.8 1430.7,646.7 1435.8,509.3 1441.0,337.5 1444.4,263.6 1453.0,285.9 1463.3,310.0 1473.6,330.6 1485.6,352.9 1494.2,347.8 1508.0,342.6 1516.6,335.7 1520.0,337.5 1522.0,353.4 1525.4,368.1 1532.7,375.3 1543.6,397.1 1554.5,433.5 1561.8,438.9 1572.7,444.4 1587.2,513.4 1598.1,568.0 1612.7,618.8 1623.6,578.9 1634.5,535.3 1639.9,604.3 1645.4,695.2 1652.6,775.1 1656.3,840.6 1663.6,833.3 1670.8,826.0 1678.1,731.5 1685.4,622.5 1692.6,513.4 1698.1,444.4 1709.0,440.8 1719.9,440.8 1725.3,495.3 1732.6,568.0 1739.9,640.7 1750.8,695.2 1761.7,742.4 1770.8,658.8 1779.9,597.0 1783.5,568.0 1787.1,495.3 1790.8,404.4 1794.4,349.9 1799.8,277.2 1805.3,237.2 1816.2,208.2 1825.3,179.1 1830.7,204.5 1838.0,240.9 1845.0,310.8 1845.0,347.6 1852.2,412.8 1860.3,473.3 1866.4,574.1 1874.4,614.4 1884.5,642.6 1892.6,678.9 1900.6,715.1 1909.5,751.4 1916.7,735.3 1930.9,715.1 1940.9,670.8 1951.8,618.4 1959.1,678.9 1965.1,735.3 1973.2,807.9 1981.2,836.1 1993.3,860.3 2001.4,916.7 2009.5,977.2 2013.5,1009.4 2029.6,1019.5 2057.8,1025.6 2100.2,1013.5 2100.2,1065.0"/>
<polyline class="lbo" clip-path="url(#clipA)" points="269.0,1065.0 269.0,989.4 278.1,985.0 287.8,966.0 289.2,999.6 292.7,944.0 295.7,768.6 298.0,579.5 298.0,578.0 299.0,485.0 305.0,462.0 310.7,444.0 313.6,451.0 317.0,480.0 321.7,512.7 325.3,479.0 328.2,429.0 331.2,415.0 336.0,428.0 341.0,445.0 345.0,475.0 348.7,520.0 353.0,578.5 357.5,651.6 362.0,740.0 366.0,800.0 366.0,772.4 371.1,900.2 374.0,928.0 379.9,906.0 385.7,885.6 394.5,851.9 406.2,882.6 416.4,853.4 428.1,853.4 431.1,885.6 435.4,917.7 447.1,911.9 458.8,933.8 474.9,879.7 477.8,873.9 491.0,872.4 502.7,873.9 507.1,891.4 523.2,973.3 543.6,1002.5 552.0,991.3 552.0,1001.6 553.7,1001.6 570.9,932.9 579.5,888.2 582.9,826.4 586.4,809.3 594.9,804.1 600.0,813.9 600.0,808.0 604.0,845.0 608.0,880.0 612.0,930.0 616.0,969.0 622.0,1000.0 627.0,1016.0 636.0,1020.0 641.0,1019.0 646.0,1009.0 649.0,975.0 654.0,917.0 656.0,860.0 660.0,780.0 660.0,772.4 660.9,757.7 664.3,689.1 667.1,592.9 670.5,541.4 675.6,524.2 680.8,508.8 685.9,527.7 691.1,579.2 696.2,577.5 701.4,572.3 706.6,579.2 713.4,596.3 715.8,620.4 717.9,654.7 722.0,723.4 727.2,774.9 730.6,826.4 734.0,877.9 737.5,867.6 742.6,771.5 746.0,768.0 749.5,792.1 754.6,805.8 759.8,757.7 763.2,723.4 766.0,706.2 768.4,740.6 771.8,792.1 775.2,829.9 777.0,860.8 780.4,809.3 783.8,757.7 787.3,706.2 792.4,671.9 797.6,647.9 802.7,620.4 807.9,592.9 813.0,599.8 817.5,596.3 821.6,551.7 825.0,517.4 829.5,455.5 833.6,500.2 837.0,568.9 840.5,627.3 843.9,603.2 849.1,568.9 854.2,544.8 861.1,524.2 864.5,551.7 869.7,592.9 873.1,637.6 876.5,706.2 880.0,774.9 883.4,836.7 890.3,857.3 897.1,881.4 904.0,929.5 910.9,998.1 914.3,1063.4 917.7,963.8 920.5,792.1 922.9,689.1 926.3,651.3 929.8,689.1 933.2,757.7 936.6,809.3 939.0,867.6 943.5,922.6 946.9,943.2 952.1,919.1 957.2,977.5 962.4,963.8 969.3,915.7 974.4,871.1 977.8,826.4 981.3,860.8 984.7,929.5 988.1,963.8 993.3,984.4 998.4,998.1 1003.6,963.8 1008.8,929.5 1012.2,963.8 1017.3,998.1 1022.5,1015.3 1027.6,998.1 1030.0,1009.9 1030.3,1041.9 1035.5,1007.6 1040.6,986.9 1045.8,1000.7 1052.6,938.8 1057.8,990.4 1063.0,1035.1 1068.1,1017.9 1073.3,997.3 1078.4,1004.1 1085.3,1007.6 1092.2,1024.7 1102.5,1045.4 1107.6,1031.6 1112.8,1000.7 1119.7,969.8 1126.5,942.3 1131.7,935.4 1138.6,818.6 1143.7,777.3 1147.8,753.3 1164.3,739.5 1178.1,732.6 1188.4,727.5 1198.7,763.6 1210.7,787.6 1222.7,770.4 1236.5,753.3 1246.8,729.2 1253.7,712.0 1258.8,749.8 1264.0,784.2 1272.6,827.1 1281.2,846.0 1294.9,890.7 1308.7,938.8 1319.0,990.4 1327.6,1019.6 1337.9,1019.6 1344.7,990.4 1349.9,938.8 1355.1,887.3 1358.5,852.9 1367.1,842.6 1380.1,787.6 1386.0,818.6 1391.1,852.9 1396.3,887.3 1401.4,907.9 1406.6,883.8 1411.8,852.9 1420.3,804.8 1425.5,749.8 1430.7,646.7 1435.8,509.3 1441.0,337.5 1444.4,263.6 1453.0,285.9 1463.3,310.0 1473.6,330.6 1485.6,352.9 1494.2,347.8 1508.0,342.6 1516.6,335.7 1520.0,337.5 1522.0,353.4 1525.4,368.1 1532.7,375.3 1543.6,397.1 1554.5,433.5 1561.8,438.9 1572.7,444.4 1587.2,513.4 1598.1,568.0 1612.7,618.8 1623.6,578.9 1634.5,535.3 1639.9,604.3 1645.4,695.2 1652.6,775.1 1656.3,840.6 1663.6,833.3 1670.8,826.0 1678.1,731.5 1685.4,622.5 1692.6,513.4 1698.1,444.4 1709.0,440.8 1719.9,440.8 1725.3,495.3 1732.6,568.0 1739.9,640.7 1750.8,695.2 1761.7,742.4 1770.8,658.8 1779.9,597.0 1783.5,568.0 1787.1,495.3 1790.8,404.4 1794.4,349.9 1799.8,277.2 1805.3,237.2 1816.2,208.2 1825.3,179.1 1830.7,204.5 1838.0,240.9 1845.0,310.8 1845.0,347.6 1852.2,412.8 1860.3,473.3 1866.4,574.1 1874.4,614.4 1884.5,642.6 1892.6,678.9 1900.6,715.1 1909.5,751.4 1916.7,735.3 1930.9,715.1 1940.9,670.8 1951.8,618.4 1959.1,678.9 1965.1,735.3 1973.2,807.9 1981.2,836.1 1993.3,860.3 2001.4,916.7 2009.5,977.2 2013.5,1009.4 2029.6,1019.5 2057.8,1025.6 2100.2,1013.5 2100.2,1065.0"/>
<polyline class="ly" points="269.0,1065.0 269.0,1011.3 277.5,996.7 287.8,1002.5 292.2,914.8 298.0,768.9 298.0,768.0 299.0,760.0 305.0,735.0 310.0,715.0 313.6,695.0 320.0,660.0 326.8,615.0 333.0,600.0 337.0,600.0 341.4,637.0 344.3,681.0 350.0,750.0 356.0,800.0 362.0,850.0 366.0,880.0 366.0,875.7 372.6,917.7 379.9,911.9 384.3,879.7 390.1,873.9 397.4,870.9 406.2,914.8 417.9,955.7 425.2,938.2 432.5,876.8 438.4,850.5 447.1,838.8 458.8,812.5 476.4,873.9 491.0,907.5 505.6,888.5 523.2,882.6 543.6,932.3 552.0,941.3 552.0,941.4 564.0,960.4 569.2,943.2 574.3,915.7 582.9,895.1 591.5,929.5 596.7,963.8 600.0,969.1 600.0,962.0 605.0,965.0 610.0,970.0 616.0,985.0 620.0,1000.0 625.0,1030.0 630.0,1056.0 635.0,1045.0 641.0,1020.0 646.0,1009.0 649.0,975.0 654.0,917.0 656.0,860.0 660.0,780.0 660.2,740.6 665.3,689.1 670.5,665.0 680.8,647.9 685.9,671.9 691.1,692.5 698.0,665.0 703.1,647.9 708.3,678.8 711.7,695.9 716.9,716.5 722.0,730.3 727.2,774.9 730.6,826.4 734.0,877.9 742.6,915.7 749.5,908.8 759.8,915.7 766.6,912.3 773.5,915.7 780.4,895.1 787.3,860.8 794.1,843.6 799.3,860.8 804.4,877.9 811.3,886.5 818.2,884.8 825.0,850.5 830.2,843.6 838.8,840.2 849.1,826.4 857.7,826.4 861.1,829.9 864.5,860.8 868.0,912.3 871.4,963.8 874.8,939.8 878.3,936.3 881.7,936.3 885.1,963.8 890.3,1015.3 897.1,1022.2 904.0,1025.6 910.9,1032.5 914.3,1063.4 917.7,963.8 922.9,809.3 926.3,826.4 931.5,843.6 934.9,915.7 938.4,950.1 941.8,929.5 945.2,919.1 948.7,963.8 952.1,998.1 957.2,987.8 962.4,994.7 969.3,998.1 976.1,1005.0 983.0,1015.3 988.1,1032.5 996.7,1015.3 1003.6,1032.5 1010.5,1049.6 1020.8,1059.9 1027.6,1053.1 1030.0,1054.4 1030.0,1004.1 1033.7,1024.7 1040.6,1000.7 1045.8,1007.6 1052.6,990.4 1057.8,990.4 1063.0,1035.1 1068.1,1024.7 1075.0,1011.0 1080.1,1007.6 1087.0,1024.7 1093.9,1041.9 1100.8,1048.8 1107.6,1024.7 1112.8,1014.4 1119.7,997.3 1124.8,973.2 1130.0,949.1 1136.8,852.9 1143.7,784.2 1147.8,770.4 1157.5,791.1 1167.8,818.6 1178.1,818.6 1190.1,818.6 1198.7,842.6 1210.7,870.1 1219.3,852.9 1229.6,832.3 1243.4,828.9 1260.5,828.9 1272.6,827.1 1294.9,846.0 1305.2,887.3 1315.5,938.8 1322.4,990.4 1327.6,1019.6 1337.9,1055.7 1344.7,1007.6 1349.9,938.8 1355.1,887.3 1358.5,859.8 1367.1,854.6 1380.1,847.8 1386.0,870.1 1391.1,894.2 1396.3,921.6 1401.4,914.8 1406.6,894.2 1411.8,877.0 1420.3,846.0 1425.5,784.2 1430.7,681.1 1435.8,543.6 1441.0,371.8 1444.4,340.9 1453.0,354.6 1466.7,371.8 1477.0,406.2 1485.6,433.7 1494.2,440.5 1508.0,444.0 1520.0,440.5 1522.0,440.4 1529.1,426.2 1534.5,466.2 1540.0,513.4 1547.2,531.6 1558.2,597.0 1565.4,622.5 1576.3,651.6 1587.2,695.2 1594.5,709.7 1605.4,720.6 1614.5,731.5 1618.1,713.3 1623.6,677.0 1629.0,640.7 1634.5,611.6 1639.9,651.6 1645.4,713.3 1650.8,767.9 1656.3,833.3 1663.6,829.6 1670.8,822.4 1678.1,767.9 1685.4,658.8 1692.6,568.0 1698.1,488.0 1703.5,513.4 1710.8,568.0 1718.1,658.8 1721.7,695.2 1732.6,713.3 1739.9,731.5 1750.8,804.2 1761.7,873.3 1767.1,804.2 1772.6,731.5 1778.0,658.8 1783.5,568.0 1790.8,477.1 1796.2,404.4 1801.7,313.6 1805.3,266.3 1816.2,244.5 1825.3,222.7 1830.7,233.6 1838.0,277.2 1845.0,329.7 1845.0,352.0 1852.2,420.9 1860.3,493.4 1866.4,594.2 1874.4,618.4 1884.5,646.6 1892.6,686.9 1900.6,727.2 1909.5,787.7 1916.7,743.4 1930.9,723.2 1940.9,751.4 1951.8,779.6 1959.1,767.6 1967.1,755.5 1973.2,731.3 1981.2,783.7 1989.3,836.1 1997.4,896.6 2005.4,953.0 2013.5,1017.5 2017.5,1031.6 2029.6,1021.5 2057.8,1043.7 2100.2,1017.5 2100.2,1065.0"/>
<polyline class="lr" points="271.7,1008.4 277.5,1014.2 289.2,1012.7 298.0,1010.1 318.0,1014.0 323.0,990.0 326.0,975.0 328.5,900.0 330.5,700.0 331.5,550.0 332.0,450.0 334.0,390.0 336.5,362.0 338.5,355.0 341.0,365.0 343.0,390.0 344.5,432.0 347.0,490.0 349.5,549.0 355.5,607.0 361.0,680.0 366.0,730.0 366.0,732.1 368.2,768.6 374.0,827.1 382.8,870.9 397.4,891.4 406.2,911.9 415.0,944.0 422.3,955.7 441.3,963.0 453.0,970.4 464.7,958.7 473.5,979.1 493.9,982.0 523.2,982.0 552.0,984.3 552.0,988.9 553.7,989.5 567.5,993.0 581.2,994.7 594.9,994.7 600.0,993.4 600.0,993.4 608.7,991.3 620.7,987.8 625.9,895.1 631.0,847.0 637.9,847.0 644.7,857.3 649.9,867.6 656.8,874.5 660.0,874.5 660.0,874.5 663.6,874.5 670.5,843.6 677.4,826.4 684.2,823.0 691.1,829.9 698.0,843.6 704.8,867.6 711.7,874.5 725.4,881.4 732.3,891.7 739.2,902.0 746.0,908.8 759.8,915.7 770.1,915.7 777.0,895.1 783.8,874.5 790.7,847.0 795.8,816.1 801.0,788.7 806.1,761.2 811.3,744.0 819.9,730.3 830.2,723.4 838.8,730.3 845.6,740.6 855.9,757.7 866.2,774.9 876.5,795.5 883.4,809.3 893.7,829.9 904.0,847.0 914.3,864.2 921.2,871.1 934.9,877.9 945.2,888.2 955.5,902.0 969.3,915.7 983.0,926.0 996.7,936.3 1013.9,941.5 1027.6,943.2 1030.0,943.2 1030.0,941.6 1037.2,941.6 1054.4,938.8 1071.5,934.7 1080.1,931.3 1088.7,929.9 1105.9,929.2 1123.1,929.9 1132.4,929.9 1133.7,887.3 1135.8,835.7 1138.6,749.8 1142.0,681.1 1145.4,612.4 1148.9,543.6 1154.0,526.5 1160.9,516.2 1167.8,502.4 1174.6,481.8 1181.5,474.9 1186.7,485.2 1191.8,509.3 1197.0,543.6 1202.1,578.0 1209.0,612.4 1215.9,646.7 1222.7,674.2 1229.6,698.3 1236.5,722.3 1246.8,749.8 1257.1,770.4 1267.4,784.2 1274.3,797.9 1281.2,815.1 1291.5,832.3 1301.8,842.6 1312.1,856.4 1319.0,870.1 1325.8,880.4 1336.2,887.3 1346.5,894.2 1356.8,904.5 1367.1,914.8 1377.4,925.1 1387.7,935.4 1398.0,942.3 1408.3,940.5 1418.6,944.0 1428.9,945.7 1439.2,947.4 1449.6,945.7 1453.0,921.6 1456.4,818.6 1459.9,715.5 1463.3,612.4 1466.7,560.8 1471.9,526.5 1478.8,505.8 1483.9,516.2 1489.1,543.6 1495.9,595.2 1501.1,646.7 1508.0,698.3 1514.8,732.6 1520.0,756.7 1522.0,768.8 1529.1,804.2 1536.3,829.6 1543.6,847.8 1554.5,858.7 1569.1,869.6 1580.0,880.5 1590.9,895.1 1605.4,906.0 1616.3,913.2 1630.8,916.9 1645.4,920.5 1659.9,927.8 1670.8,927.8 1674.5,876.9 1678.1,822.4 1681.7,775.1 1685.4,753.3 1690.8,749.7 1696.3,767.9 1699.9,804.2 1703.5,840.6 1710.8,869.6 1718.1,895.1 1725.3,913.2 1736.2,924.1 1750.8,927.8 1761.7,924.1 1776.2,927.8 1790.8,938.7 1801.7,953.2 1812.6,965.9 1819.8,964.1 1827.1,946.0 1834.4,931.4 1843.5,924.1 1845.0,922.4 1845.0,890.4 1850.2,876.4 1856.3,836.1 1862.3,803.8 1868.4,836.1 1874.4,876.4 1880.5,896.6 1888.5,920.7 1894.6,944.9 1900.6,949.0 1906.7,928.8 1912.7,900.6 1916.7,892.5 1922.8,916.7 1928.8,944.9 1936.9,957.0 1945.0,961.1 1953.0,967.1 1961.1,965.1 1969.2,969.1 1977.2,977.2 1985.3,981.2 1993.3,985.2 1999.4,993.3 2005.4,989.3 2011.5,981.2 2021.6,981.2 2031.6,977.2 2039.7,961.1 2045.7,965.1 2053.8,973.1 2061.9,977.2 2069.9,973.1 2080.0,969.1 2088.1,975.2 2096.1,977.2 2102.0,979.1"/>
<g class="ax" style="stroke-width:2.8"><line x1="264" y1="66" x2="264" y2="1065"/><line x1="242" y1="1065" x2="2107" y2="1065" style="stroke-width:2.8"/><line x1="2107" y1="66" x2="2107" y2="1065" style="stroke-width:3.2"/><line x1="242" y1="1065.0" x2="264" y2="1065.0"/><line x1="242" y1="753.4" x2="264" y2="753.4"/><line x1="242" y1="441.7" x2="264" y2="441.7"/><line x1="242" y1="130.1" x2="264" y2="130.1"/><line x1="2107" y1="1065.0" x2="2126" y2="1065.0" style="stroke-width:3.2"/><line x1="2107" y1="965.1" x2="2126" y2="965.1" style="stroke-width:3.2"/><line x1="2107" y1="865.2" x2="2126" y2="865.2" style="stroke-width:3.2"/><line x1="2107" y1="765.3" x2="2126" y2="765.3" style="stroke-width:3.2"/><line x1="2107" y1="665.4" x2="2126" y2="665.4" style="stroke-width:3.2"/><line x1="2107" y1="565.5" x2="2126" y2="565.5" style="stroke-width:3.2"/><line x1="2107" y1="465.6" x2="2126" y2="465.6" style="stroke-width:3.2"/><line x1="2107" y1="365.7" x2="2126" y2="365.7" style="stroke-width:3.2"/><line x1="2107" y1="265.8" x2="2126" y2="265.8" style="stroke-width:3.2"/><line x1="2107" y1="165.9" x2="2126" y2="165.9" style="stroke-width:3.2"/><line x1="2107" y1="66.0" x2="2126" y2="66.0" style="stroke-width:3.2"/><line x1="264.0" y1="1065" x2="264.0" y2="1083"/><line x1="793.5" y1="1065" x2="793.5" y2="1083"/><line x1="1323.0" y1="1065" x2="1323.0" y2="1083"/><line x1="1852.5" y1="1065" x2="1852.5" y2="1083"/></g>
<g class="tx"><text x="114.4" y="158.3" font-size="70.2" textLength="93.4" lengthAdjust="spacingAndGlyphs">1.5</text>
<text x="110.3" y="460.3" font-size="66.9" textLength="91.5" lengthAdjust="spacingAndGlyphs">1.0</text>
<text x="105.3" y="780.0" font-size="69.5">0.5</text>
<text x="242.1" y="1168.3" font-size="69.2" textLength="41.9" lengthAdjust="spacingAndGlyphs">0</text>
<text x="735.9" y="1168.3" font-size="69.2" textLength="111.7" lengthAdjust="spacingAndGlyphs">100</text>
<text x="1265.6" y="1168.3" font-size="69.2" textLength="113.1" lengthAdjust="spacingAndGlyphs">200</text>
<text x="1795.4" y="1168.3" font-size="69.2" textLength="112.2" lengthAdjust="spacingAndGlyphs">300</text>
<text x="901.2" y="1258.0" font-size="63.4" textLength="568.1" lengthAdjust="spacingAndGlyphs">elution volume, mL</text>
<text x="2148.1" y="283.9" font-size="67.5">80</text>
<text x="2142.0" y="483.8" font-size="67.5">60</text>
<text x="2146.1" y="692.3" font-size="67.8">40</text>
<text x="2143.4" y="883.5" font-size="67.5" textLength="76.3" lengthAdjust="spacingAndGlyphs">20</text>
<text transform="translate(2329.3,765.4) rotate(-90)" font-size="70.7" textLength="345.8" lengthAdjust="spacingAndGlyphs">% inhibition</text>
<text transform="translate(79.7,716.1) rotate(-90)" font-size="70.3" textLength="43.3" lengthAdjust="spacingAndGlyphs">A</text>
<text transform="translate(79.1,645.0) rotate(-90)" font-size="62.3" textLength="201.0" lengthAdjust="spacingAndGlyphs">254 nm</text>
<text x="363.8" y="201.0" font-size="94.5" textLength="55.3" lengthAdjust="spacingAndGlyphs">A</text>
<text class="l" x="565.1" y="302.4" font-size="56.6">a</text>
<text class="l" x="1096.1" y="393.4" font-size="58.5">b</text>
<text class="l" x="1382.0" y="210.8" font-size="57.7">c</text>
<text class="l" x="1633.2" y="179.1" font-size="55.4">d</text>
<text class="l" x="1847.0" y="96.7" font-size="59.5">e</text></g>
<g class="ar"><line x1="583.6" y1="378" x2="583.6" y2="756" class="as"/><polygon points="563.1,754 604.1,754 583.6,794"/><line x1="1113.5" y1="465" x2="1113.5" y2="601" class="as"/><polygon points="1093.0,599 1134.0,599 1113.5,640"/><line x1="1399" y1="269" x2="1399" y2="554" class="as"/><polygon points="1378.5,552 1419.5,552 1399,590"/><line x1="1648.3" y1="235" x2="1648.3" y2="457" class="as"/><polygon points="1627.8,455 1668.8,455 1648.3,493"/><line x1="1820" y1="68" x2="1820" y2="122" class="as"/><polygon points="1799.5,120 1840.5,120 1820,158.5"/></g>
</g>
<g id="pB" style="--rw:7;--bw:2.6;--yw:2">
<polygon class="fb" points="267.2,1954 267.2,1950.7 282.6,1950.7 296.3,1947.3 313.5,1949.0 330.7,1947.3 351.3,1947.3 365.0,1943.8 382.2,1943.8 399.4,1940.4 416.5,1940.4 433.7,1938.7 447.4,1937.0 461.2,1933.5 474.9,1933.5 485.2,1937.0 495.5,1940.4 505.8,1947.3 512.7,1937.0 523.0,1940.4 536.7,1947.3 547.0,1940.4 557.3,1933.5 564.2,1940.4 571.1,1949.0 577.9,1950.7 584.8,1933.5 591.7,1919.8 598.5,1919.8 605.4,1933.5 615.7,1947.3 622.6,1950.7 629.4,1947.3 636.3,1940.4 646.6,1933.5 660.4,1926.6 674.1,1923.2 684.4,1919.8 690.0,1910.1 690.0,1911.4 692.4,1905.1 698.3,1915.9 706.6,1915.1 716.5,1911.8 726.5,1905.1 733.1,1880.2 739.8,1847.1 746.4,1805.6 751.4,1755.8 756.3,1689.4 761.3,1631.3 766.3,1588.1 772.9,1578.2 777.9,1570.7 786.2,1579.8 791.2,1573.2 797.8,1556.6 804.5,1573.2 809.5,1589.8 816.1,1616.3 822.7,1646.2 827.7,1676.1 832.7,1699.3 837.7,1719.3 842.7,1739.2 846.0,1759.1 849.3,1785.6 852.6,1808.9 856.8,1798.9 862.6,1784.0 867.6,1805.6 872.5,1835.4 875.0,1841.6 875.0,1859.8 877.4,1866.8 884.2,1863.4 892.8,1842.8 899.7,1860.0 904.8,1880.6 910.0,1897.7 915.1,1901.2 920.3,1884.0 925.4,1870.3 930.6,1887.4 937.5,1904.6 946.0,1901.2 956.3,1884.0 963.2,1887.4 970.1,1880.6 977.6,1853.1 982.1,1880.6 987.3,1901.2 994.1,1897.7 999.3,1877.1 1002.7,1901.2 1007.9,1951.0 1014.7,1928.7 1021.6,1951.0 1031.9,1925.2 1038.8,1937.2 1049.1,1951.0 1059.4,1928.7 1071.4,1951.0 1080.0,1930.4 1086.8,1940.7 1097.1,1951.0 1104.0,1932.1 1110.9,1945.8 1117.7,1914.9 1124.6,1901.2 1131.5,1911.5 1138.4,1914.9 1143.5,1884.0 1150.4,1853.1 1157.2,1834.2 1165.8,1834.2 1172.7,1841.1 1179.6,1846.2 1186.4,1844.5 1193.3,1835.9 1201.9,1818.8 1210.5,1784.4 1217.3,1822.2 1224.2,1863.4 1231.1,1908.0 1240.0,1897.7 1240.0,1895.5 1240.6,1894.3 1252.6,1860.0 1276.7,1872.0 1302.4,1901.2 1316.2,1897.7 1323.0,1921.8 1329.9,1949.3 1338.5,1939.0 1350.5,1932.1 1357.4,1894.3 1364.2,1918.4 1371.1,1953.4 1391.7,1953.4 1398.6,1949.3 1402.0,1932.1 1407.2,1863.4 1414.0,1794.7 1419.2,1746.6 1421.9,1720.9 1424.3,1743.2 1427.8,1767.3 1434.6,1774.1 1439.8,1829.1 1446.6,1884.0 1450.1,1914.9 1453.5,1949.3 1463.8,1925.2 1474.1,1949.3 1481.0,1932.1 1491.3,1951.0 1498.2,1942.4 1508.5,1951.0 1518.8,1932.1 1529.1,1925.2 1539.4,1928.7 1549.7,1942.4 1560.0,1932.1 1573.7,1951.0 1584.0,1921.8 1589.2,1894.3 1601.2,1890.9 1604.6,1897.7 1614.9,1890.9 1621.8,1904.6 1628.7,1918.4 1637.2,1939.0 1645.8,1925.2 1652.7,1949.3 1663.0,1914.9 1673.3,1904.6 1683.6,1897.7 1693.9,1918.4 1707.6,1925.2 1714.5,1935.5 1720.0,1945.8 1720.0,1930.0 1721.1,1925.5 1725.3,1933.9 1732.4,1942.4 1739.4,1933.9 1746.5,1908.6 1753.5,1907.2 1763.4,1919.9 1770.4,1928.3 1774.6,1948.0 1781.7,1931.1 1787.3,1925.5 1792.9,1898.7 1797.1,1911.4 1804.2,1942.4 1809.8,1948.0 1815.5,1933.9 1821.1,1931.1 1829.5,1936.8 1836.6,1933.9 1839.4,1919.9 1843.6,1872.0 1849.2,1843.8 1854.9,1824.1 1860.5,1829.8 1866.1,1835.4 1870.4,1767.8 1874.6,1694.6 1880.2,1632.6 1883.0,1612.9 1887.3,1572.1 1891.5,1604.5 1897.1,1641.1 1902.7,1669.2 1908.4,1694.6 1912.6,1731.2 1916.8,1765.0 1922.5,1790.3 1926.7,1810.0 1933.7,1790.3 1939.9,1765.0 1945.0,1781.9 1950.6,1807.2 1956.2,1821.3 1961.9,1829.8 1967.5,1825.5 1973.1,1821.3 1977.4,1787.5 1982.2,1762.2 1985.8,1773.4 1990.0,1801.6 1995.7,1824.1 1999.9,1807.2 2004.1,1770.6 2008.3,1790.3 2012.6,1815.7 2018.2,1801.6 2023.8,1786.1 2030.9,1790.3 2036.5,1794.6 2040.7,1759.4 2045.0,1742.5 2049.2,1750.9 2056.2,1731.2 2060.4,1767.8 2064.7,1812.9 2068.9,1866.4 2073.1,1857.9 2077.3,1841.0 2083.0,1846.6 2087.2,1852.3 2092.8,1835.4 2097.0,1815.7 2098.0,1815.7 2098.0,1954"/>
<polygon class="fy" points="267.2,1954 267.2,1947.3 282.6,1945.5 299.8,1919.8 322.1,1906.0 335.8,1916.3 347.9,1928.4 354.7,1937.0 361.6,1916.3 368.5,1912.9 375.3,1906.0 385.6,1895.7 399.4,1899.2 413.1,1906.0 426.8,1916.3 440.6,1923.2 454.3,1930.1 468.0,1933.5 478.3,1923.2 490.4,1907.8 499.0,1923.2 509.3,1940.4 514.4,1947.3 526.4,1937.0 536.7,1933.5 547.0,1937.0 553.9,1940.4 564.2,1923.2 574.5,1906.0 588.2,1904.3 596.8,1899.2 607.1,1888.9 612.3,1895.7 619.1,1919.8 626.0,1937.0 629.4,1947.3 636.3,1937.0 646.6,1912.9 651.8,1911.2 663.8,1916.3 681.0,1921.5 687.8,1919.8 690.0,1918.1 690.0,1920.8 692.4,1920.1 698.3,1918.4 704.9,1910.1 713.2,1906.8 719.8,1855.4 724.8,1825.5 729.8,1855.4 733.1,1875.3 739.8,1868.6 746.4,1838.8 751.4,1813.9 759.7,1772.4 763.8,1752.4 769.6,1772.4 772.9,1805.6 776.3,1847.1 778.8,1878.6 786.2,1847.1 796.2,1835.4 802.8,1813.9 807.8,1803.9 814.4,1813.9 819.4,1822.2 824.4,1797.3 829.4,1780.7 834.4,1789.0 839.3,1813.9 846.0,1822.2 851.0,1825.5 856.8,1798.9 862.6,1784.0 867.6,1805.6 872.5,1835.4 875.0,1841.6 875.0,1874.6 880.8,1897.7 891.1,1914.9 898.0,1911.5 904.8,1908.0 911.7,1908.0 915.1,1925.2 920.3,1911.5 925.4,1918.4 935.7,1925.2 944.3,1904.6 956.3,1884.0 966.6,1901.2 977.0,1904.6 983.8,1908.0 994.1,1897.7 1001.0,1899.5 1011.3,1901.2 1018.2,1902.9 1025.0,1911.5 1035.3,1920.1 1042.2,1928.7 1052.5,1911.5 1059.4,1901.2 1069.7,1908.0 1083.4,1918.4 1093.7,1908.0 1104.0,1899.5 1110.9,1901.2 1117.7,1887.4 1126.3,1860.0 1131.5,1880.6 1136.6,1914.9 1143.5,1911.5 1150.4,1897.7 1157.2,1866.8 1165.8,1877.1 1174.4,1849.7 1186.4,1844.5 1193.3,1835.9 1201.9,1818.8 1210.5,1787.9 1217.3,1822.2 1224.2,1863.4 1231.1,1908.0 1240.0,1897.7 1240.0,1895.5 1240.6,1894.3 1252.6,1873.7 1261.2,1897.7 1273.2,1942.4 1288.7,1921.8 1302.4,1902.9 1316.2,1897.7 1326.5,1911.5 1333.3,1928.7 1338.5,1939.0 1348.8,1928.7 1357.4,1894.3 1362.5,1914.9 1367.7,1932.1 1371.1,1952.7 1381.4,1949.3 1398.6,1949.3 1405.4,1897.7 1412.3,1829.1 1419.2,1787.9 1422.6,1767.3 1429.5,1770.7 1434.6,1794.7 1439.8,1846.2 1444.9,1880.6 1448.4,1914.9 1457.0,1908.0 1465.5,1894.3 1474.1,1901.2 1486.1,1901.2 1491.3,1921.8 1496.4,1939.0 1505.0,1939.0 1515.3,1932.1 1523.9,1914.9 1532.5,1908.0 1546.2,1904.6 1560.0,1902.9 1570.3,1904.6 1577.1,1911.5 1584.0,1914.9 1590.9,1914.9 1597.7,1904.6 1611.5,1873.7 1621.8,1878.9 1635.5,1887.4 1645.8,1894.3 1656.1,1890.9 1666.4,1901.2 1676.7,1890.9 1685.3,1896.0 1695.6,1921.8 1707.6,1920.1 1720.0,1932.1 1720.0,1922.1 1721.1,1919.9 1725.3,1908.6 1731.0,1900.2 1739.4,1890.3 1746.5,1919.9 1753.5,1922.7 1763.4,1925.5 1770.4,1925.5 1776.0,1919.9 1784.5,1922.7 1792.9,1908.6 1798.6,1908.6 1804.2,1911.4 1812.6,1922.7 1821.1,1933.9 1829.5,1936.8 1836.6,1933.9 1839.4,1914.2 1843.6,1857.9 1849.2,1815.7 1854.9,1794.6 1860.5,1801.6 1866.1,1810.0 1870.4,1750.9 1874.6,1689.0 1878.0,1643.9 1883.0,1694.6 1888.7,1739.6 1894.3,1767.8 1899.9,1767.8 1905.6,1759.4 1911.2,1762.2 1916.8,1773.4 1922.5,1796.0 1926.7,1829.8 1933.7,1835.4 1939.4,1838.2 1945.0,1857.9 1950.6,1880.4 1956.2,1857.9 1961.9,1843.8 1967.5,1872.0 1971.7,1897.3 1976.0,1829.8 1981.6,1773.4 1985.8,1787.5 1990.0,1807.2 1995.7,1886.1 2001.3,1897.3 2006.9,1869.2 2012.6,1841.0 2018.2,1857.9 2023.8,1863.5 2030.9,1829.8 2036.5,1815.7 2040.7,1773.4 2046.4,1756.5 2050.6,1796.0 2056.2,1829.8 2061.8,1857.9 2066.1,1874.8 2071.7,1857.9 2077.3,1843.8 2083.0,1846.6 2088.6,1857.9 2094.2,1829.8 2098.0,1815.7 2098.0,1954"/>
<polygon class="fg" points="267.2,1954 267.2,1950.7 282.6,1950.7 296.3,1947.3 299.8,1947.6 313.5,1949.0 322.1,1948.1 330.7,1947.3 335.8,1947.3 347.9,1947.3 351.3,1947.2 354.7,1946.4 361.6,1944.7 365.0,1943.8 368.5,1943.8 375.3,1943.8 382.2,1943.8 385.6,1943.1 399.4,1940.4 413.1,1940.4 416.5,1940.4 426.8,1939.4 433.7,1938.7 440.6,1937.8 447.4,1937.0 454.3,1935.2 461.2,1933.5 468.0,1933.5 474.9,1933.5 478.3,1934.6 485.2,1936.9 490.4,1938.7 495.5,1940.4 499.0,1942.7 505.8,1947.2 509.3,1942.0 509.9,1941.2 512.7,1945.0 514.4,1947.2 522.6,1940.2 523.0,1940.4 526.4,1942.1 536.7,1947.2 547.0,1940.4 550.0,1938.4 553.9,1940.4 557.3,1934.7 557.7,1934.0 564.2,1940.4 571.1,1949.0 574.5,1949.8 577.9,1950.7 584.8,1933.5 588.2,1926.7 591.7,1919.8 596.8,1919.8 598.5,1919.8 605.4,1933.5 607.1,1935.8 612.3,1942.7 615.7,1947.2 619.1,1948.9 622.6,1950.7 626.0,1949.0 629.4,1947.3 636.3,1940.4 646.6,1933.5 651.8,1930.9 660.4,1926.6 663.8,1925.8 674.1,1923.2 680.1,1921.2 681.0,1921.5 684.4,1920.6 687.8,1919.8 690.0,1920.8 692.4,1920.1 698.3,1918.4 700.4,1915.7 704.9,1915.3 706.6,1915.1 713.2,1912.9 716.5,1911.8 719.8,1909.6 724.8,1906.3 726.5,1905.0 729.8,1892.7 733.1,1880.3 734.4,1874.0 739.8,1868.4 746.4,1838.7 751.4,1813.7 756.3,1789.2 759.7,1772.2 761.3,1764.5 763.8,1752.5 766.3,1761.0 769.6,1772.3 772.9,1805.1 776.3,1847.5 777.9,1867.8 778.8,1878.4 786.2,1847.2 791.2,1841.2 796.2,1835.4 797.8,1830.2 802.8,1813.9 804.5,1810.5 807.8,1803.9 809.5,1806.4 814.4,1813.8 816.1,1816.6 819.4,1822.1 822.7,1805.8 824.4,1797.3 827.7,1786.3 829.4,1780.7 832.7,1786.2 834.4,1789.2 837.7,1805.7 839.3,1813.7 842.7,1818.1 846.0,1822.2 849.3,1824.4 851.0,1825.3 852.6,1818.0 856.8,1798.8 862.6,1784.1 867.6,1805.8 872.5,1835.2 875.0,1874.6 877.4,1884.2 880.8,1897.8 884.2,1903.4 891.1,1914.9 892.8,1914.1 898.0,1911.5 899.7,1910.6 904.8,1908.1 910.0,1908.0 911.7,1908.0 915.1,1925.0 920.3,1911.5 925.4,1918.3 930.6,1921.8 935.7,1925.2 937.5,1921.0 944.3,1904.7 946.0,1901.7 956.3,1884.1 963.2,1895.4 966.6,1901.1 970.1,1902.3 977.0,1904.6 977.6,1904.9 982.1,1907.2 983.8,1908.0 987.3,1904.6 994.1,1897.8 999.3,1899.0 1001.0,1899.5 1002.5,1899.7 1002.7,1901.1 1007.9,1950.8 1011.3,1939.8 1014.7,1928.7 1018.2,1939.9 1021.6,1951.0 1025.0,1942.5 1031.9,1925.2 1035.3,1931.2 1038.8,1937.3 1042.2,1941.8 1049.1,1950.9 1052.5,1943.5 1059.4,1928.7 1069.7,1947.8 1071.4,1950.9 1080.0,1930.4 1083.4,1935.5 1086.8,1940.6 1093.7,1947.5 1097.1,1950.9 1104.0,1932.1 1110.9,1945.7 1117.7,1915.1 1124.6,1901.2 1126.3,1903.7 1131.5,1911.5 1136.5,1914.0 1136.6,1914.7 1137.5,1914.5 1138.4,1914.6 1138.5,1914.0 1143.5,1911.5 1150.4,1897.6 1157.2,1867.0 1165.8,1877.1 1172.7,1855.1 1174.4,1849.7 1179.6,1847.4 1186.4,1844.5 1193.3,1835.9 1201.9,1818.7 1210.5,1788.0 1217.3,1822.0 1224.2,1863.4 1231.1,1908.0 1240.0,1895.5 1240.6,1894.3 1252.6,1873.7 1261.2,1897.7 1273.2,1942.3 1276.7,1937.8 1288.7,1921.8 1302.4,1902.9 1315.5,1898.0 1316.2,1897.9 1323.0,1921.7 1326.5,1935.7 1329.9,1949.2 1333.3,1945.2 1338.5,1938.9 1348.8,1933.1 1350.5,1932.1 1357.4,1894.4 1357.4,1894.5 1362.5,1914.9 1364.2,1920.5 1365.5,1925.0 1367.7,1936.0 1371.1,1953.4 1381.4,1953.4 1391.7,1953.4 1398.6,1949.1 1402.0,1932.1 1403.5,1912.5 1405.4,1898.0 1407.2,1880.1 1412.3,1829.1 1414.0,1818.9 1419.2,1787.7 1421.9,1771.5 1422.6,1767.3 1424.3,1768.1 1427.8,1769.8 1429.5,1770.8 1434.6,1794.6 1439.8,1846.4 1444.9,1880.4 1446.6,1897.3 1448.4,1914.9 1449.9,1913.7 1450.1,1915.1 1453.5,1949.1 1457.0,1941.1 1463.8,1925.3 1465.5,1929.1 1474.1,1949.2 1481.0,1932.1 1486.1,1941.5 1491.3,1951.0 1496.4,1944.6 1498.2,1942.4 1505.0,1948.1 1508.5,1950.9 1515.3,1938.4 1518.8,1932.1 1523.9,1928.7 1529.1,1925.2 1532.5,1926.4 1539.4,1928.7 1546.2,1937.8 1549.7,1942.4 1560.0,1932.1 1570.3,1946.3 1573.7,1951.0 1577.1,1941.4 1584.0,1921.8 1585.3,1914.9 1589.2,1914.9 1590.9,1914.9 1597.7,1904.7 1601.2,1896.8 1602.6,1893.7 1604.6,1897.7 1611.5,1893.2 1614.9,1890.9 1621.8,1904.6 1628.7,1918.5 1635.5,1934.8 1637.2,1938.9 1645.8,1925.3 1652.7,1949.2 1656.1,1937.9 1663.0,1914.9 1666.4,1911.5 1673.3,1904.6 1676.7,1902.3 1683.6,1897.7 1685.3,1901.1 1693.9,1918.3 1694.3,1918.6 1695.6,1921.7 1699.6,1921.2 1707.6,1925.2 1714.5,1935.5 1720.0,1930.0 1721.1,1925.6 1725.3,1933.9 1731.0,1940.7 1732.4,1942.4 1739.4,1934.0 1745.0,1913.9 1746.5,1919.9 1753.5,1922.7 1763.4,1925.5 1768.0,1925.5 1770.4,1928.3 1774.6,1947.9 1776.0,1944.7 1781.7,1931.1 1784.5,1928.3 1787.3,1925.5 1789.7,1913.9 1792.9,1908.6 1796.2,1908.6 1797.1,1911.3 1798.6,1917.8 1804.2,1942.4 1809.8,1948.0 1812.6,1941.1 1815.5,1933.9 1819.6,1931.9 1821.1,1933.9 1829.5,1936.7 1830.7,1936.3 1836.6,1933.8 1839.4,1919.7 1843.6,1872.1 1849.2,1844.1 1854.9,1824.1 1860.5,1829.7 1866.1,1835.3 1870.4,1767.2 1874.6,1694.5 1878.0,1657.1 1878.6,1650.3 1880.2,1666.2 1883.0,1694.2 1887.3,1728.7 1888.7,1739.8 1891.5,1753.8 1894.3,1767.8 1897.1,1767.8 1899.9,1767.8 1902.7,1763.6 1905.6,1759.4 1908.4,1760.8 1911.2,1762.2 1912.6,1765.0 1916.8,1773.4 1922.5,1796.3 1926.7,1829.8 1933.7,1835.4 1939.4,1838.4 1939.9,1840.1 1945.0,1858.0 1950.6,1880.4 1956.2,1858.1 1961.9,1843.9 1967.5,1871.9 1971.7,1897.1 1973.1,1875.5 1976.0,1829.4 1977.4,1815.4 1981.6,1773.5 1982.2,1775.5 1985.8,1787.5 1990.0,1807.0 1995.7,1886.1 1999.9,1894.5 2001.3,1897.3 2004.1,1883.4 2006.9,1869.4 2008.3,1862.4 2012.6,1841.1 2018.2,1857.9 2023.8,1863.5 2030.9,1829.7 2036.5,1815.7 2040.7,1773.7 2045.0,1760.6 2046.4,1756.9 2049.2,1783.0 2050.6,1796.1 2056.2,1829.7 2060.4,1850.7 2061.8,1857.7 2064.7,1869.3 2066.1,1874.7 2068.9,1866.3 2068.9,1866.3 2071.7,1860.7 2073.1,1857.9 2075.5,1848.6 2077.3,1843.9 2083.0,1846.7 2087.2,1855.1 2088.6,1857.9 2092.8,1836.9 2094.2,1829.9 2097.0,1819.4 2098.0,1815.7 2098.0,1954"/>
<polyline class="lb" points="267.2,1954.0 267.2,1950.7 282.6,1950.7 296.3,1947.3 313.5,1949.0 330.7,1947.3 351.3,1947.3 365.0,1943.8 382.2,1943.8 399.4,1940.4 416.5,1940.4 433.7,1938.7 447.4,1937.0 461.2,1933.5 474.9,1933.5 485.2,1937.0 495.5,1940.4 505.8,1947.3 512.7,1937.0 523.0,1940.4 536.7,1947.3 547.0,1940.4 557.3,1933.5 564.2,1940.4 571.1,1949.0 577.9,1950.7 584.8,1933.5 591.7,1919.8 598.5,1919.8 605.4,1933.5 615.7,1947.3 622.6,1950.7 629.4,1947.3 636.3,1940.4 646.6,1933.5 660.4,1926.6 674.1,1923.2 684.4,1919.8 690.0,1910.1 690.0,1911.4 692.4,1905.1 698.3,1915.9 706.6,1915.1 716.5,1911.8 726.5,1905.1 733.1,1880.2 739.8,1847.1 746.4,1805.6 751.4,1755.8 756.3,1689.4 761.3,1631.3 766.3,1588.1 772.9,1578.2 777.9,1570.7 786.2,1579.8 791.2,1573.2 797.8,1556.6 804.5,1573.2 809.5,1589.8 816.1,1616.3 822.7,1646.2 827.7,1676.1 832.7,1699.3 837.7,1719.3 842.7,1739.2 846.0,1759.1 849.3,1785.6 852.6,1808.9 856.8,1798.9 862.6,1784.0 867.6,1805.6 872.5,1835.4 875.0,1841.6 875.0,1859.8 877.4,1866.8 884.2,1863.4 892.8,1842.8 899.7,1860.0 904.8,1880.6 910.0,1897.7 915.1,1901.2 920.3,1884.0 925.4,1870.3 930.6,1887.4 937.5,1904.6 946.0,1901.2 956.3,1884.0 963.2,1887.4 970.1,1880.6 977.6,1853.1 982.1,1880.6 987.3,1901.2 994.1,1897.7 999.3,1877.1 1002.7,1901.2 1007.9,1951.0 1014.7,1928.7 1021.6,1951.0 1031.9,1925.2 1038.8,1937.2 1049.1,1951.0 1059.4,1928.7 1071.4,1951.0 1080.0,1930.4 1086.8,1940.7 1097.1,1951.0 1104.0,1932.1 1110.9,1945.8 1117.7,1914.9 1124.6,1901.2 1131.5,1911.5 1138.4,1914.9 1143.5,1884.0 1150.4,1853.1 1157.2,1834.2 1165.8,1834.2 1172.7,1841.1 1179.6,1846.2 1186.4,1844.5 1193.3,1835.9 1201.9,1818.8 1210.5,1784.4 1217.3,1822.2 1224.2,1863.4 1231.1,1908.0 1240.0,1897.7 1240.0,1895.5 1240.6,1894.3 1252.6,1860.0 1276.7,1872.0 1302.4,1901.2 1316.2,1897.7 1323.0,1921.8 1329.9,1949.3 1338.5,1939.0 1350.5,1932.1 1357.4,1894.3 1364.2,1918.4 1371.1,1953.4 1391.7,1953.4 1398.6,1949.3 1402.0,1932.1 1407.2,1863.4 1414.0,1794.7 1419.2,1746.6 1421.9,1720.9 1424.3,1743.2 1427.8,1767.3 1434.6,1774.1 1439.8,1829.1 1446.6,1884.0 1450.1,1914.9 1453.5,1949.3 1463.8,1925.2 1474.1,1949.3 1481.0,1932.1 1491.3,1951.0 1498.2,1942.4 1508.5,1951.0 1518.8,1932.1 1529.1,1925.2 1539.4,1928.7 1549.7,1942.4 1560.0,1932.1 1573.7,1951.0 1584.0,1921.8 1589.2,1894.3 1601.2,1890.9 1604.6,1897.7 1614.9,1890.9 1621.8,1904.6 1628.7,1918.4 1637.2,1939.0 1645.8,1925.2 1652.7,1949.3 1663.0,1914.9 1673.3,1904.6 1683.6,1897.7 1693.9,1918.4 1707.6,1925.2 1714.5,1935.5 1720.0,1945.8 1720.0,1930.0 1721.1,1925.5 1725.3,1933.9 1732.4,1942.4 1739.4,1933.9 1746.5,1908.6 1753.5,1907.2 1763.4,1919.9 1770.4,1928.3 1774.6,1948.0 1781.7,1931.1 1787.3,1925.5 1792.9,1898.7 1797.1,1911.4 1804.2,1942.4 1809.8,1948.0 1815.5,1933.9 1821.1,1931.1 1829.5,1936.8 1836.6,1933.9 1839.4,1919.9 1843.6,1872.0 1849.2,1843.8 1854.9,1824.1 1860.5,1829.8 1866.1,1835.4 1870.4,1767.8 1874.6,1694.6 1880.2,1632.6 1883.0,1612.9 1887.3,1572.1 1891.5,1604.5 1897.1,1641.1 1902.7,1669.2 1908.4,1694.6 1912.6,1731.2 1916.8,1765.0 1922.5,1790.3 1926.7,1810.0 1933.7,1790.3 1939.9,1765.0 1945.0,1781.9 1950.6,1807.2 1956.2,1821.3 1961.9,1829.8 1967.5,1825.5 1973.1,1821.3 1977.4,1787.5 1982.2,1762.2 1985.8,1773.4 1990.0,1801.6 1995.7,1824.1 1999.9,1807.2 2004.1,1770.6 2008.3,1790.3 2012.6,1815.7 2018.2,1801.6 2023.8,1786.1 2030.9,1790.3 2036.5,1794.6 2040.7,1759.4 2045.0,1742.5 2049.2,1750.9 2056.2,1731.2 2060.4,1767.8 2064.7,1812.9 2068.9,1866.4 2073.1,1857.9 2077.3,1841.0 2083.0,1846.6 2087.2,1852.3 2092.8,1835.4 2097.0,1815.7 2098.0,1815.7 2098.0,1954.0"/>
<polyline class="lbo" clip-path="url(#clipB)" points="267.2,1954.0 267.2,1950.7 282.6,1950.7 296.3,1947.3 313.5,1949.0 330.7,1947.3 351.3,1947.3 365.0,1943.8 382.2,1943.8 399.4,1940.4 416.5,1940.4 433.7,1938.7 447.4,1937.0 461.2,1933.5 474.9,1933.5 485.2,1937.0 495.5,1940.4 505.8,1947.3 512.7,1937.0 523.0,1940.4 536.7,1947.3 547.0,1940.4 557.3,1933.5 564.2,1940.4 571.1,1949.0 577.9,1950.7 584.8,1933.5 591.7,1919.8 598.5,1919.8 605.4,1933.5 615.7,1947.3 622.6,1950.7 629.4,1947.3 636.3,1940.4 646.6,1933.5 660.4,1926.6 674.1,1923.2 684.4,1919.8 690.0,1910.1 690.0,1911.4 692.4,1905.1 698.3,1915.9 706.6,1915.1 716.5,1911.8 726.5,1905.1 733.1,1880.2 739.8,1847.1 746.4,1805.6 751.4,1755.8 756.3,1689.4 761.3,1631.3 766.3,1588.1 772.9,1578.2 777.9,1570.7 786.2,1579.8 791.2,1573.2 797.8,1556.6 804.5,1573.2 809.5,1589.8 816.1,1616.3 822.7,1646.2 827.7,1676.1 832.7,1699.3 837.7,1719.3 842.7,1739.2 846.0,1759.1 849.3,1785.6 852.6,1808.9 856.8,1798.9 862.6,1784.0 867.6,1805.6 872.5,1835.4 875.0,1841.6 875.0,1859.8 877.4,1866.8 884.2,1863.4 892.8,1842.8 899.7,1860.0 904.8,1880.6 910.0,1897.7 915.1,1901.2 920.3,1884.0 925.4,1870.3 930.6,1887.4 937.5,1904.6 946.0,1901.2 956.3,1884.0 963.2,1887.4 970.1,1880.6 977.6,1853.1 982.1,1880.6 987.3,1901.2 994.1,1897.7 999.3,1877.1 1002.7,1901.2 1007.9,1951.0 1014.7,1928.7 1021.6,1951.0 1031.9,1925.2 1038.8,1937.2 1049.1,1951.0 1059.4,1928.7 1071.4,1951.0 1080.0,1930.4 1086.8,1940.7 1097.1,1951.0 1104.0,1932.1 1110.9,1945.8 1117.7,1914.9 1124.6,1901.2 1131.5,1911.5 1138.4,1914.9 1143.5,1884.0 1150.4,1853.1 1157.2,1834.2 1165.8,1834.2 1172.7,1841.1 1179.6,1846.2 1186.4,1844.5 1193.3,1835.9 1201.9,1818.8 1210.5,1784.4 1217.3,1822.2 1224.2,1863.4 1231.1,1908.0 1240.0,1897.7 1240.0,1895.5 1240.6,1894.3 1252.6,1860.0 1276.7,1872.0 1302.4,1901.2 1316.2,1897.7 1323.0,1921.8 1329.9,1949.3 1338.5,1939.0 1350.5,1932.1 1357.4,1894.3 1364.2,1918.4 1371.1,1953.4 1391.7,1953.4 1398.6,1949.3 1402.0,1932.1 1407.2,1863.4 1414.0,1794.7 1419.2,1746.6 1421.9,1720.9 1424.3,1743.2 1427.8,1767.3 1434.6,1774.1 1439.8,1829.1 1446.6,1884.0 1450.1,1914.9 1453.5,1949.3 1463.8,1925.2 1474.1,1949.3 1481.0,1932.1 1491.3,1951.0 1498.2,1942.4 1508.5,1951.0 1518.8,1932.1 1529.1,1925.2 1539.4,1928.7 1549.7,1942.4 1560.0,1932.1 1573.7,1951.0 1584.0,1921.8 1589.2,1894.3 1601.2,1890.9 1604.6,1897.7 1614.9,1890.9 1621.8,1904.6 1628.7,1918.4 1637.2,1939.0 1645.8,1925.2 1652.7,1949.3 1663.0,1914.9 1673.3,1904.6 1683.6,1897.7 1693.9,1918.4 1707.6,1925.2 1714.5,1935.5 1720.0,1945.8 1720.0,1930.0 1721.1,1925.5 1725.3,1933.9 1732.4,1942.4 1739.4,1933.9 1746.5,1908.6 1753.5,1907.2 1763.4,1919.9 1770.4,1928.3 1774.6,1948.0 1781.7,1931.1 1787.3,1925.5 1792.9,1898.7 1797.1,1911.4 1804.2,1942.4 1809.8,1948.0 1815.5,1933.9 1821.1,1931.1 1829.5,1936.8 1836.6,1933.9 1839.4,1919.9 1843.6,1872.0 1849.2,1843.8 1854.9,1824.1 1860.5,1829.8 1866.1,1835.4 1870.4,1767.8 1874.6,1694.6 1880.2,1632.6 1883.0,1612.9 1887.3,1572.1 1891.5,1604.5 1897.1,1641.1 1902.7,1669.2 1908.4,1694.6 1912.6,1731.2 1916.8,1765.0 1922.5,1790.3 1926.7,1810.0 1933.7,1790.3 1939.9,1765.0 1945.0,1781.9 1950.6,1807.2 1956.2,1821.3 1961.9,1829.8 1967.5,1825.5 1973.1,1821.3 1977.4,1787.5 1982.2,1762.2 1985.8,1773.4 1990.0,1801.6 1995.7,1824.1 1999.9,1807.2 2004.1,1770.6 2008.3,1790.3 2012.6,1815.7 2018.2,1801.6 2023.8,1786.1 2030.9,1790.3 2036.5,1794.6 2040.7,1759.4 2045.0,1742.5 2049.2,1750.9 2056.2,1731.2 2060.4,1767.8 2064.7,1812.9 2068.9,1866.4 2073.1,1857.9 2077.3,1841.0 2083.0,1846.6 2087.2,1852.3 2092.8,1835.4 2097.0,1815.7 2098.0,1815.7 2098.0,1954.0"/>
<polyline class="ly" points="267.2,1954.0 267.2,1947.3 282.6,1945.5 299.8,1919.8 322.1,1906.0 335.8,1916.3 347.9,1928.4 354.7,1937.0 361.6,1916.3 368.5,1912.9 375.3,1906.0 385.6,1895.7 399.4,1899.2 413.1,1906.0 426.8,1916.3 440.6,1923.2 454.3,1930.1 468.0,1933.5 478.3,1923.2 490.4,1907.8 499.0,1923.2 509.3,1940.4 514.4,1947.3 526.4,1937.0 536.7,1933.5 547.0,1937.0 553.9,1940.4 564.2,1923.2 574.5,1906.0 588.2,1904.3 596.8,1899.2 607.1,1888.9 612.3,1895.7 619.1,1919.8 626.0,1937.0 629.4,1947.3 636.3,1937.0 646.6,1912.9 651.8,1911.2 663.8,1916.3 681.0,1921.5 687.8,1919.8 690.0,1918.1 690.0,1920.8 692.4,1920.1 698.3,1918.4 704.9,1910.1 713.2,1906.8 719.8,1855.4 724.8,1825.5 729.8,1855.4 733.1,1875.3 739.8,1868.6 746.4,1838.8 751.4,1813.9 759.7,1772.4 763.8,1752.4 769.6,1772.4 772.9,1805.6 776.3,1847.1 778.8,1878.6 786.2,1847.1 796.2,1835.4 802.8,1813.9 807.8,1803.9 814.4,1813.9 819.4,1822.2 824.4,1797.3 829.4,1780.7 834.4,1789.0 839.3,1813.9 846.0,1822.2 851.0,1825.5 856.8,1798.9 862.6,1784.0 867.6,1805.6 872.5,1835.4 875.0,1841.6 875.0,1874.6 880.8,1897.7 891.1,1914.9 898.0,1911.5 904.8,1908.0 911.7,1908.0 915.1,1925.2 920.3,1911.5 925.4,1918.4 935.7,1925.2 944.3,1904.6 956.3,1884.0 966.6,1901.2 977.0,1904.6 983.8,1908.0 994.1,1897.7 1001.0,1899.5 1011.3,1901.2 1018.2,1902.9 1025.0,1911.5 1035.3,1920.1 1042.2,1928.7 1052.5,1911.5 1059.4,1901.2 1069.7,1908.0 1083.4,1918.4 1093.7,1908.0 1104.0,1899.5 1110.9,1901.2 1117.7,1887.4 1126.3,1860.0 1131.5,1880.6 1136.6,1914.9 1143.5,1911.5 1150.4,1897.7 1157.2,1866.8 1165.8,1877.1 1174.4,1849.7 1186.4,1844.5 1193.3,1835.9 1201.9,1818.8 1210.5,1787.9 1217.3,1822.2 1224.2,1863.4 1231.1,1908.0 1240.0,1897.7 1240.0,1895.5 1240.6,1894.3 1252.6,1873.7 1261.2,1897.7 1273.2,1942.4 1288.7,1921.8 1302.4,1902.9 1316.2,1897.7 1326.5,1911.5 1333.3,1928.7 1338.5,1939.0 1348.8,1928.7 1357.4,1894.3 1362.5,1914.9 1367.7,1932.1 1371.1,1952.7 1381.4,1949.3 1398.6,1949.3 1405.4,1897.7 1412.3,1829.1 1419.2,1787.9 1422.6,1767.3 1429.5,1770.7 1434.6,1794.7 1439.8,1846.2 1444.9,1880.6 1448.4,1914.9 1457.0,1908.0 1465.5,1894.3 1474.1,1901.2 1486.1,1901.2 1491.3,1921.8 1496.4,1939.0 1505.0,1939.0 1515.3,1932.1 1523.9,1914.9 1532.5,1908.0 1546.2,1904.6 1560.0,1902.9 1570.3,1904.6 1577.1,1911.5 1584.0,1914.9 1590.9,1914.9 1597.7,1904.6 1611.5,1873.7 1621.8,1878.9 1635.5,1887.4 1645.8,1894.3 1656.1,1890.9 1666.4,1901.2 1676.7,1890.9 1685.3,1896.0 1695.6,1921.8 1707.6,1920.1 1720.0,1932.1 1720.0,1922.1 1721.1,1919.9 1725.3,1908.6 1731.0,1900.2 1739.4,1890.3 1746.5,1919.9 1753.5,1922.7 1763.4,1925.5 1770.4,1925.5 1776.0,1919.9 1784.5,1922.7 1792.9,1908.6 1798.6,1908.6 1804.2,1911.4 1812.6,1922.7 1821.1,1933.9 1829.5,1936.8 1836.6,1933.9 1839.4,1914.2 1843.6,1857.9 1849.2,1815.7 1854.9,1794.6 1860.5,1801.6 1866.1,1810.0 1870.4,1750.9 1874.6,1689.0 1878.0,1643.9 1883.0,1694.6 1888.7,1739.6 1894.3,1767.8 1899.9,1767.8 1905.6,1759.4 1911.2,1762.2 1916.8,1773.4 1922.5,1796.0 1926.7,1829.8 1933.7,1835.4 1939.4,1838.2 1945.0,1857.9 1950.6,1880.4 1956.2,1857.9 1961.9,1843.8 1967.5,1872.0 1971.7,1897.3 1976.0,1829.8 1981.6,1773.4 1985.8,1787.5 1990.0,1807.2 1995.7,1886.1 2001.3,1897.3 2006.9,1869.2 2012.6,1841.0 2018.2,1857.9 2023.8,1863.5 2030.9,1829.8 2036.5,1815.7 2040.7,1773.4 2046.4,1756.5 2050.6,1796.0 2056.2,1829.8 2061.8,1857.9 2066.1,1874.8 2071.7,1857.9 2077.3,1843.8 2083.0,1846.6 2088.6,1857.9 2094.2,1829.8 2098.0,1815.7 2098.0,1954.0"/>
<polyline class="lr" points="270.6,1930.1 330.7,1929.4 399.4,1929.4 468.0,1930.1 502.4,1926.6 536.7,1928.4 571.1,1928.4 605.4,1926.6 639.7,1928.4 674.1,1929.4 690.0,1928.9 690.0,1929.1 696.6,1929.2 708.2,1929.2 718.2,1921.7 728.1,1905.1 736.4,1872.0 743.1,1838.8 749.7,1797.3 756.3,1755.8 763.0,1706.0 769.6,1676.1 776.3,1659.5 782.9,1652.9 789.5,1659.5 796.2,1672.8 802.8,1689.4 807.8,1709.3 812.8,1725.9 817.8,1722.6 824.4,1715.9 829.4,1730.9 832.7,1755.8 836.0,1789.0 839.3,1813.9 842.7,1835.4 846.0,1847.1 851.0,1863.7 859.3,1875.3 867.6,1883.6 875.0,1889.5 875.0,1889.3 877.4,1890.9 891.1,1897.7 904.8,1904.6 918.6,1909.8 932.3,1913.2 946.0,1914.9 966.6,1916.6 987.3,1918.4 1007.9,1920.1 1028.5,1921.8 1049.1,1923.5 1069.7,1923.5 1090.3,1923.5 1110.9,1923.5 1134.9,1923.5 1145.2,1918.4 1152.1,1911.5 1162.4,1908.0 1179.6,1908.0 1193.3,1909.8 1207.0,1914.9 1220.8,1920.1 1240.0,1921.8 1240.0,1921.8 1254.3,1921.8 1288.7,1918.4 1323.0,1920.1 1357.4,1920.1 1384.8,1920.1 1395.1,1926.9 1405.4,1930.4 1419.2,1925.2 1429.5,1918.4 1443.2,1921.8 1460.4,1923.5 1481.0,1925.2 1494.7,1925.2 1508.5,1925.2 1529.1,1923.5 1549.7,1921.8 1563.4,1923.5 1577.1,1921.8 1590.9,1918.4 1604.6,1911.5 1614.9,1913.2 1625.2,1920.1 1639.0,1923.5 1652.7,1923.5 1666.4,1925.2 1687.0,1926.9 1700.8,1926.9 1720.0,1928.7 1720.0,1928.3 1728.2,1928.3 1756.3,1926.9 1784.5,1925.5 1812.6,1926.9 1840.8,1926.9 1857.7,1925.5 1866.1,1914.2 1871.8,1886.1 1876.0,1857.9 1880.2,1835.4 1884.4,1832.6 1888.7,1843.8 1892.9,1863.5 1897.1,1877.6 1902.7,1888.9 1911.2,1894.5 1925.3,1898.7 1939.4,1901.6 1953.4,1903.0 1967.5,1901.6 1981.6,1898.7 1990.0,1895.9 1998.5,1898.7 2006.9,1903.0 2018.2,1904.4 2029.5,1907.2 2037.9,1908.6 2043.5,1903.0 2050.6,1894.5 2056.2,1900.2 2063.3,1911.4 2071.7,1915.6 2083.0,1915.6 2094.2,1915.6 2100.0,1914.9"/>
<g class="ax" style="stroke-width:2.4"><line x1="264.5" y1="1242" x2="264.5" y2="1974"/><line x1="251" y1="1954" x2="2104" y2="1954" style="stroke-width:3.0"/><line x1="2104" y1="1242" x2="2104" y2="1954" style="stroke-width:2.8"/><line x1="250.5" y1="1954.0" x2="264.5" y2="1954.0"/><line x1="252.5" y1="1716.6" x2="264.5" y2="1716.6"/><line x1="252.5" y1="1479.2" x2="264.5" y2="1479.2"/><line x1="252.5" y1="1241.8" x2="264.5" y2="1241.8"/><line x1="2104" y1="1954.0" x2="2120" y2="1954.0" style="stroke-width:2.8"/><line x1="2104" y1="1882.8" x2="2120" y2="1882.8" style="stroke-width:2.8"/><line x1="2104" y1="1811.6" x2="2120" y2="1811.6" style="stroke-width:2.8"/><line x1="2104" y1="1740.4" x2="2120" y2="1740.4" style="stroke-width:2.8"/><line x1="2104" y1="1669.2" x2="2120" y2="1669.2" style="stroke-width:2.8"/><line x1="2104" y1="1598.0" x2="2120" y2="1598.0" style="stroke-width:2.8"/><line x1="2104" y1="1526.8" x2="2120" y2="1526.8" style="stroke-width:2.8"/><line x1="2104" y1="1455.6" x2="2120" y2="1455.6" style="stroke-width:2.8"/><line x1="2104" y1="1384.4" x2="2120" y2="1384.4" style="stroke-width:2.8"/><line x1="2104" y1="1313.2" x2="2120" y2="1313.2" style="stroke-width:2.8"/><line x1="2104" y1="1242.0" x2="2120" y2="1242.0" style="stroke-width:2.8"/><line x1="265.0" y1="1954" x2="265.0" y2="1974"/><line x1="792.0" y1="1954" x2="792.0" y2="1974"/><line x1="1319.5" y1="1954" x2="1319.5" y2="1974"/><line x1="1847.0" y1="1954" x2="1847.0" y2="1974"/></g>
<g class="tx"><text x="184.5" y="1273.3" font-size="66.4" textLength="36.4" lengthAdjust="spacingAndGlyphs">3</text>
<text x="184.1" y="1500.2" font-size="67.9">2</text>
<text x="185.8" y="1748.0" font-size="69.8" textLength="31.0" lengthAdjust="spacingAndGlyphs">1</text>
<text x="246.4" y="2056.4" font-size="65.0" textLength="37.2" lengthAdjust="spacingAndGlyphs">0</text>
<text x="744.4" y="2056.4" font-size="65.0" textLength="111.0" lengthAdjust="spacingAndGlyphs">100</text>
<text x="1274.6" y="2056.4" font-size="65.0" textLength="114.1" lengthAdjust="spacingAndGlyphs">200</text>
<text x="1790.4" y="2055.3" font-size="67.8">300</text>
<text x="888.0" y="2149.0" font-size="70.3">elution volume, mL</text>
<text x="2152.0" y="1405.3" font-size="68.6" textLength="72.6" lengthAdjust="spacingAndGlyphs">80</text>
<text x="2145.6" y="1548.3" font-size="66.9">60</text>
<text x="2148.2" y="1694.3" font-size="66.7">40</text>
<text x="2146.3" y="1838.8" font-size="67.1">20</text>
<text transform="translate(2304.3,1768.4) rotate(-90)" font-size="69.4" textLength="344.3" lengthAdjust="spacingAndGlyphs">% inhibition</text>
<text transform="translate(136.0,1702.1) rotate(-90)" font-size="68.9" textLength="43.3" lengthAdjust="spacingAndGlyphs">A</text>
<text transform="translate(135.5,1642.6) rotate(-90)" font-size="52.3" textLength="170.5" lengthAdjust="spacingAndGlyphs">254 nm</text>
<text x="364.2" y="1355.0" font-size="87.2" textLength="55.2" lengthAdjust="spacingAndGlyphs">B</text>
<text class="l" x="560.0" y="1426.4" font-size="60.2">a</text>
<text class="l" x="1093.0" y="1620.4" font-size="55.8">b</text>
<text class="l" x="1359.6" y="1440.3" font-size="65.7">c</text>
<text class="l" x="1623.0" y="1545.0" font-size="52.4">d</text>
<text class="l" x="1811.8" y="1369.3" font-size="67.5">e</text></g>
<g class="ar"><line x1="583.5" y1="1457.6" x2="583.5" y2="1784" class="as"/><polygon points="563.0,1782 604.0,1782 583.5,1823.6"/><line x1="1109.8" y1="1652" x2="1109.8" y2="1766.5" class="as"/><polygon points="1089.3,1764.5 1130.3,1764.5 1109.8,1805"/><line x1="1377.3" y1="1479.5" x2="1377.3" y2="1724.6" class="as"/><polygon points="1356.8,1722.6 1397.8,1722.6 1377.3,1762"/><line x1="1642.4" y1="1567.5" x2="1642.4" y2="1759" class="as"/><polygon points="1621.9,1757 1662.9,1757 1642.4,1796.4"/><line x1="1829.5" y1="1394" x2="1829.5" y2="1672.7" class="as"/><polygon points="1809.0,1670.7 1850.0,1670.7 1829.5,1711.5"/></g>
</g>
<g id="pC" style="--rw:4.6;--bw:2.6;--yw:2">
<polygon class="fb" points="275.3,2862 275.3,2857.4 285.6,2850.5 290.8,2802.5 295.9,2751.0 299.3,2699.5 302.8,2630.8 306.2,2424.7 311.4,2362.9 316.5,2342.3 319.9,2356.0 325.1,2390.4 328.5,2459.1 333.7,2452.2 337.1,2443.6 340.5,2459.1 345.7,2486.5 349.1,2503.7 356.0,2514.0 361.2,2524.3 364.6,2562.1 368.0,2597.8 373.0,2632.8 378.5,2667.9 380.7,2693.3 387.3,2696.7 395.0,2693.3 406.0,2680.9 417.0,2666.1 423.0,2655.2 433.4,2673.7 444.4,2699.1 453.2,2721.1 465.3,2704.3 475.2,2727.6 486.2,2713.2 500.0,2746.2 505.4,2768.1 512.3,2785.3 519.1,2799.0 526.0,2812.8 532.9,2792.2 539.7,2780.2 544.9,2792.2 551.7,2823.1 560.3,2799.0 567.2,2823.1 574.1,2831.7 580.9,2836.8 587.8,2823.1 596.4,2809.3 603.3,2799.0 608.4,2812.8 622.1,2819.6 635.9,2836.8 646.2,2854.0 659.9,2836.8 670.2,2833.4 680.5,2854.0 690.8,2836.8 701.1,2826.5 708.0,2795.6 714.9,2809.3 725.2,2843.7 738.9,2843.7 752.6,2843.7 765.0,2843.7 765.0,2846.0 779.3,2846.0 786.2,2832.3 793.1,2818.6 799.9,2828.9 813.7,2842.6 830.9,2846.0 844.6,2804.8 848.0,2784.2 854.9,2772.2 860.0,2794.5 865.2,2832.3 872.1,2859.8 882.4,2856.3 897.1,2849.5 909.8,2858.1 920.1,2859.8 930.4,2846.0 944.2,2839.2 954.5,2832.3 960.7,2827.2 968.2,2842.6 978.5,2828.9 985.4,2825.4 991.2,2787.7 1000.8,2798.0 1009.4,2804.8 1016.3,2835.7 1019.7,2849.5 1026.6,2852.9 1036.9,2849.5 1043.8,2811.7 1054.1,2791.1 1066.1,2775.6 1073.0,2787.7 1078.1,2804.8 1085.0,2832.3 1095.3,2849.5 1102.1,2851.2 1112.4,2852.9 1122.7,2832.3 1129.6,2796.2 1139.9,2808.3 1146.8,2822.0 1155.4,2846.0 1167.4,2851.2 1177.7,2851.2 1184.6,2847.8 1194.9,2859.8 1205.2,2859.8 1215.5,2847.8 1225.8,2846.0 1232.6,2832.3 1239.5,2828.9 1245.0,2835.7 1245.0,2845.2 1252.5,2849.5 1269.6,2852.9 1290.2,2856.3 1297.1,2856.3 1307.4,2856.3 1317.7,2859.8 1324.6,2859.8 1334.9,2856.3 1348.6,2852.9 1362.4,2856.3 1369.2,2856.3 1386.4,2849.5 1396.7,2822.0 1403.6,2804.8 1415.6,2806.6 1424.2,2808.3 1431.0,2818.6 1437.9,2842.6 1444.8,2856.3 1451.6,2846.0 1458.5,2828.9 1465.4,2815.1 1472.3,2818.6 1479.1,2822.0 1486.0,2818.6 1496.3,2846.0 1503.2,2856.3 1513.5,2852.9 1523.8,2852.9 1530.6,2847.8 1540.9,2856.3 1551.2,2852.9 1565.0,2856.3 1582.1,2856.3 1595.9,2856.3 1609.6,2856.3 1623.4,2856.3 1637.1,2856.3 1647.4,2852.9 1657.7,2842.6 1668.0,2832.3 1674.9,2794.5 1681.7,2794.5 1692.0,2798.0 1705.8,2804.8 1719.5,2811.7 1725.0,2815.1 1725.3,2824.5 1731.0,2849.9 1739.4,2855.5 1747.9,2858.3 1756.3,2852.7 1764.8,2849.9 1773.2,2855.5 1781.7,2858.3 1790.1,2849.9 1797.1,2838.6 1804.2,2821.7 1808.4,2827.3 1812.6,2816.1 1818.3,2773.8 1825.3,2734.4 1832.3,2745.7 1838.0,2751.3 1843.6,2745.7 1849.2,2689.4 1853.5,2619.0 1856.3,2588.0 1861.9,2579.5 1867.5,2573.9 1877.4,2588.0 1883.0,2613.3 1887.3,2624.6 1891.5,2590.8 1898.5,2523.2 1902.7,2542.9 1908.4,2582.3 1914.0,2557.0 1919.1,2519.0 1923.9,2562.6 1926.7,2604.9 1929.5,2647.1 1933.7,2675.3 1939.4,2706.2 1947.8,2700.6 1956.2,2692.2 1964.7,2675.3 1971.7,2658.4 1978.8,2652.7 1984.4,2647.1 1988.6,2635.9 1992.9,2620.4 1997.1,2652.7 1999.9,2689.4 2002.7,2720.3 2008.3,2686.5 2012.6,2652.7 2018.2,2675.3 2023.8,2703.4 2028.1,2720.3 2032.3,2731.6 2035.1,2721.7 2040.7,2740.0 2045.0,2759.8 2049.2,2776.6 2054.8,2782.3 2060.4,2802.0 2066.1,2816.1 2070.3,2830.2 2074.5,2849.9 2078.7,2858.3 2083.0,2855.5 2087.2,2827.3 2090.0,2844.2 2094.2,2858.3 2099.9,2858.3 2099.9,2862"/>
<polygon class="fy" points="275.3,2862 275.3,2857.4 285.6,2850.5 290.8,2819.6 295.9,2768.1 299.3,2716.6 302.8,2630.8 306.2,2493.4 309.6,2476.2 316.5,2476.2 321.7,2527.7 326.8,2579.3 330.2,2623.9 333.7,2579.3 337.1,2527.7 340.5,2562.1 347.4,2613.6 354.3,2647.9 359.8,2662.0 369.6,2654.8 370.8,2667.9 375.9,2725.9 381.8,2765.0 391.7,2702.0 401.5,2758.9 414.7,2762.6 418.8,2787.0 425.7,2793.5 434.5,2782.6 447.7,2803.3 471.9,2808.8 480.7,2814.1 488.4,2842.0 496.0,2862.0 512.3,2847.1 519.1,2829.9 526.0,2795.6 532.9,2778.4 539.7,2778.4 544.9,2792.2 551.7,2795.6 560.3,2812.8 567.2,2833.4 574.1,2836.8 580.9,2833.4 587.8,2816.2 596.4,2812.8 603.3,2802.5 611.8,2809.3 622.1,2807.6 632.4,2805.9 642.7,2804.2 653.0,2819.6 663.4,2829.9 677.1,2833.4 687.4,2829.9 697.7,2809.3 708.0,2792.2 718.3,2799.0 728.6,2800.8 738.9,2812.8 749.2,2823.1 765.0,2816.2 765.0,2813.3 770.8,2811.7 779.3,2822.0 786.2,2846.0 799.9,2846.0 813.7,2811.7 834.3,2780.8 848.0,2804.8 854.9,2832.3 865.2,2839.2 872.1,2856.3 877.2,2856.3 885.8,2818.6 897.1,2777.4 906.4,2818.6 913.3,2858.1 927.0,2859.8 937.3,2846.0 951.0,2846.0 960.7,2846.0 968.2,2846.0 978.5,2846.0 991.2,2846.0 1000.8,2846.0 1016.3,2846.0 1026.6,2849.5 1036.9,2849.5 1054.1,2846.0 1066.1,2839.2 1074.7,2828.9 1086.7,2794.5 1095.3,2822.0 1102.1,2846.0 1109.0,2854.6 1122.7,2856.3 1136.5,2854.6 1150.2,2849.5 1164.0,2849.5 1177.7,2852.9 1191.4,2858.1 1205.2,2849.5 1218.9,2846.0 1232.6,2846.0 1245.0,2846.0 1245.0,2832.3 1245.6,2832.3 1255.9,2811.7 1269.6,2825.4 1279.9,2839.2 1290.2,2856.3 1297.1,2859.8 1310.9,2859.8 1324.6,2856.3 1331.5,2818.6 1340.0,2787.7 1348.6,2818.6 1355.5,2839.2 1362.4,2856.3 1369.2,2859.8 1376.1,2856.3 1386.4,2854.6 1396.7,2856.3 1403.6,2857.0 1412.2,2846.0 1419.0,2828.9 1425.9,2813.4 1431.0,2815.1 1441.3,2825.4 1451.6,2825.4 1465.4,2818.6 1475.7,2815.1 1486.0,2810.0 1496.3,2825.4 1503.2,2839.2 1516.9,2839.2 1534.1,2835.7 1551.2,2825.4 1561.5,2818.6 1571.8,2813.4 1582.1,2825.4 1592.4,2835.7 1602.7,2830.6 1613.0,2827.2 1623.4,2828.9 1635.4,2830.6 1644.0,2818.6 1654.3,2804.8 1664.6,2832.3 1671.4,2842.6 1681.7,2832.3 1692.0,2832.3 1705.8,2835.7 1719.5,2825.4 1725.0,2825.4 1725.3,2813.3 1731.0,2804.8 1739.4,2787.9 1747.9,2802.0 1756.3,2810.4 1764.8,2811.8 1773.2,2813.3 1781.7,2816.1 1790.1,2835.8 1797.1,2835.8 1804.2,2827.3 1808.4,2830.2 1812.6,2833.0 1818.3,2802.0 1825.3,2773.8 1832.3,2759.8 1838.0,2740.0 1843.6,2726.0 1849.2,2689.4 1853.5,2647.1 1860.5,2641.5 1866.1,2638.7 1871.8,2658.4 1877.4,2678.1 1885.9,2666.8 1897.1,2658.4 1908.4,2658.4 1914.0,2652.7 1919.6,2648.5 1923.9,2675.3 1928.1,2697.8 1933.7,2726.0 1940.8,2754.1 1947.8,2737.2 1956.2,2726.0 1964.7,2714.7 1973.1,2709.1 1981.6,2703.4 1990.0,2697.8 1995.7,2686.5 2001.3,2661.2 2008.3,2635.9 2014.0,2613.3 2018.2,2633.0 2023.8,2675.3 2028.1,2714.7 2032.3,2742.9 2037.9,2759.8 2046.4,2773.8 2054.8,2779.5 2060.4,2776.6 2066.1,2771.0 2070.3,2802.0 2074.5,2835.8 2078.7,2855.5 2083.0,2855.5 2087.2,2827.3 2090.0,2844.2 2094.2,2858.3 2099.9,2858.3 2099.9,2862"/>
<polygon class="fg" points="275.3,2862 275.3,2857.4 285.6,2850.6 290.8,2819.2 295.9,2768.2 299.3,2717.2 302.8,2629.8 306.2,2493.8 309.6,2476.5 311.4,2476.2 316.5,2476.2 319.9,2510.1 321.7,2528.1 325.1,2562.1 326.8,2579.1 328.5,2601.2 330.2,2623.3 333.7,2579.0 337.1,2528.0 340.5,2561.6 345.7,2600.7 347.4,2613.5 349.1,2622.0 354.3,2648.0 356.0,2652.3 359.8,2662.0 361.2,2661.0 364.6,2658.5 368.0,2656.0 369.6,2654.8 370.8,2668.2 373.0,2693.0 375.9,2725.7 378.5,2743.2 380.7,2757.9 381.8,2764.8 387.3,2730.0 391.7,2702.1 395.0,2721.1 401.5,2758.8 406.0,2760.1 414.7,2762.6 417.0,2776.1 418.8,2786.7 423.0,2791.0 425.7,2793.5 433.4,2783.9 434.5,2782.6 444.4,2798.1 447.7,2803.3 453.2,2804.6 465.3,2807.3 471.9,2808.8 475.2,2810.8 480.7,2814.3 486.2,2834.0 488.4,2841.9 496.0,2862.0 500.0,2858.3 505.4,2853.4 512.3,2847.0 519.1,2830.0 523.5,2807.9 526.0,2812.7 532.9,2792.1 539.7,2780.2 544.9,2792.3 551.7,2822.9 557.4,2807.1 560.3,2812.7 567.2,2833.4 574.1,2836.8 578.2,2834.8 580.9,2836.8 587.8,2823.1 593.5,2813.9 596.4,2812.8 603.3,2802.5 605.1,2803.9 608.4,2812.8 611.8,2814.5 622.1,2819.6 632.4,2832.5 635.9,2836.8 642.7,2848.2 646.2,2854.0 653.0,2845.5 659.9,2836.8 663.4,2835.7 670.2,2833.4 677.1,2847.1 680.5,2853.9 687.4,2842.5 690.8,2836.9 697.7,2829.9 701.1,2826.5 708.0,2795.6 714.9,2809.5 718.3,2820.8 725.2,2843.7 728.6,2843.7 738.9,2843.7 749.2,2843.7 752.6,2843.7 765.0,2846.0 770.8,2846.0 779.3,2846.0 783.7,2837.3 786.2,2846.0 793.1,2846.0 799.9,2846.0 804.8,2833.8 813.7,2842.6 830.9,2845.9 834.3,2835.7 844.6,2804.8 845.4,2800.2 848.0,2804.8 854.9,2832.3 860.0,2835.7 865.2,2839.2 869.8,2850.8 872.1,2859.8 877.2,2858.1 882.4,2856.3 885.8,2854.7 897.1,2849.5 906.4,2855.7 909.8,2858.0 913.3,2858.6 920.1,2859.8 920.7,2859.0 927.0,2859.8 930.4,2855.3 937.3,2846.1 944.2,2846.0 951.0,2846.0 954.5,2846.0 960.7,2846.0 968.2,2846.0 978.5,2846.0 985.4,2846.0 991.2,2846.0 1000.8,2846.0 1009.4,2846.0 1016.3,2846.0 1019.1,2847.0 1019.7,2849.4 1026.6,2852.9 1036.8,2849.5 1036.9,2849.5 1043.8,2848.1 1054.1,2846.0 1066.1,2839.2 1073.0,2830.9 1074.7,2828.8 1078.1,2819.1 1080.2,2813.1 1085.0,2832.4 1086.7,2835.2 1095.3,2849.5 1102.1,2851.2 1106.9,2852.0 1109.0,2854.6 1112.4,2855.1 1122.7,2856.3 1129.6,2855.5 1136.5,2854.6 1139.9,2853.3 1146.8,2850.8 1150.2,2849.5 1155.4,2849.5 1163.4,2849.5 1164.0,2849.7 1167.4,2851.2 1170.8,2851.2 1177.7,2852.9 1184.6,2855.5 1191.4,2858.1 1192.7,2857.3 1194.9,2859.8 1205.2,2859.7 1215.5,2847.8 1218.9,2847.2 1225.4,2846.1 1225.8,2846.0 1232.6,2846.0 1239.5,2846.0 1242.6,2846.0 1245.0,2845.2 1245.6,2845.6 1252.5,2849.5 1255.9,2850.2 1269.6,2852.9 1279.9,2854.6 1290.2,2856.3 1290.3,2856.4 1297.1,2859.8 1307.4,2859.8 1310.9,2859.8 1314.8,2858.8 1317.7,2859.8 1324.6,2859.8 1331.5,2857.5 1334.9,2856.3 1340.0,2855.1 1348.6,2852.9 1355.5,2854.6 1362.4,2856.4 1362.4,2856.4 1369.2,2859.8 1376.1,2856.3 1386.4,2854.6 1396.7,2856.3 1403.6,2857.0 1412.2,2845.9 1415.6,2837.4 1419.0,2828.9 1424.2,2817.2 1425.9,2813.4 1428.1,2814.2 1431.0,2818.5 1437.9,2842.6 1441.3,2849.4 1444.8,2856.3 1451.6,2846.1 1458.5,2828.9 1463.1,2819.7 1465.4,2818.6 1469.5,2817.2 1472.3,2818.6 1475.7,2820.3 1479.1,2822.0 1486.0,2818.6 1496.3,2846.1 1503.2,2856.3 1513.5,2852.9 1516.9,2852.9 1523.8,2852.9 1530.6,2847.8 1534.1,2850.7 1540.9,2856.3 1551.2,2852.9 1561.5,2855.5 1565.0,2856.3 1571.8,2856.3 1582.1,2856.3 1592.4,2856.3 1595.9,2856.3 1602.7,2856.3 1609.6,2856.3 1613.0,2856.3 1623.4,2856.3 1635.4,2856.3 1637.1,2856.3 1644.0,2854.0 1647.4,2852.9 1654.3,2846.0 1657.7,2842.6 1664.6,2835.7 1665.9,2834.4 1668.0,2837.5 1671.4,2842.6 1674.9,2839.1 1681.7,2832.3 1692.0,2832.3 1705.8,2835.7 1719.5,2825.4 1725.0,2825.4 1725.2,2819.6 1725.3,2823.3 1731.0,2849.9 1739.4,2855.5 1747.9,2858.3 1756.3,2852.7 1764.8,2849.9 1773.2,2855.5 1781.7,2858.3 1790.1,2849.9 1797.1,2838.7 1799.5,2832.9 1804.2,2827.3 1808.4,2830.1 1812.6,2832.9 1818.3,2801.9 1825.3,2773.9 1832.3,2759.9 1835.5,2748.8 1838.0,2751.3 1843.6,2745.7 1849.2,2689.8 1849.2,2689.6 1853.5,2647.1 1856.3,2644.9 1860.5,2641.5 1861.9,2640.8 1866.1,2638.7 1867.5,2643.4 1871.8,2658.5 1877.4,2678.1 1883.0,2670.6 1885.9,2666.8 1887.3,2665.7 1891.5,2662.6 1897.1,2658.4 1898.5,2658.4 1902.7,2658.4 1908.4,2658.4 1914.0,2652.8 1919.1,2648.9 1919.6,2648.6 1923.9,2675.5 1926.7,2690.4 1928.1,2697.8 1929.5,2704.8 1933.7,2725.8 1939.4,2748.7 1940.8,2754.0 1947.8,2737.2 1956.2,2726.0 1964.7,2714.7 1971.7,2710.0 1973.1,2709.1 1978.8,2705.3 1981.6,2703.4 1984.4,2701.6 1988.6,2698.8 1990.0,2697.8 1992.9,2692.1 1995.7,2686.4 1997.1,2680.1 1998.7,2673.1 1999.9,2689.4 2001.3,2704.8 2002.7,2720.2 2008.3,2686.8 2012.6,2652.9 2014.0,2658.5 2018.2,2675.3 2023.8,2703.3 2028.1,2720.4 2029.5,2724.1 2032.3,2742.9 2035.1,2751.3 2037.9,2759.7 2040.7,2764.4 2045.0,2771.6 2046.4,2773.9 2048.9,2775.6 2049.2,2776.7 2054.8,2782.3 2060.4,2801.9 2066.1,2816.2 2070.3,2830.2 2074.5,2849.8 2078.7,2858.2 2083.0,2855.3 2087.2,2827.4 2090.0,2844.2 2094.2,2858.2 2099.9,2858.3 2099.9,2862"/>
<polyline class="lb" points="275.3,2862.0 275.3,2857.4 285.6,2850.5 290.8,2802.5 295.9,2751.0 299.3,2699.5 302.8,2630.8 306.2,2424.7 311.4,2362.9 316.5,2342.3 319.9,2356.0 325.1,2390.4 328.5,2459.1 333.7,2452.2 337.1,2443.6 340.5,2459.1 345.7,2486.5 349.1,2503.7 356.0,2514.0 361.2,2524.3 364.6,2562.1 368.0,2597.8 373.0,2632.8 378.5,2667.9 380.7,2693.3 387.3,2696.7 395.0,2693.3 406.0,2680.9 417.0,2666.1 423.0,2655.2 433.4,2673.7 444.4,2699.1 453.2,2721.1 465.3,2704.3 475.2,2727.6 486.2,2713.2 500.0,2746.2 505.4,2768.1 512.3,2785.3 519.1,2799.0 526.0,2812.8 532.9,2792.2 539.7,2780.2 544.9,2792.2 551.7,2823.1 560.3,2799.0 567.2,2823.1 574.1,2831.7 580.9,2836.8 587.8,2823.1 596.4,2809.3 603.3,2799.0 608.4,2812.8 622.1,2819.6 635.9,2836.8 646.2,2854.0 659.9,2836.8 670.2,2833.4 680.5,2854.0 690.8,2836.8 701.1,2826.5 708.0,2795.6 714.9,2809.3 725.2,2843.7 738.9,2843.7 752.6,2843.7 765.0,2843.7 765.0,2846.0 779.3,2846.0 786.2,2832.3 793.1,2818.6 799.9,2828.9 813.7,2842.6 830.9,2846.0 844.6,2804.8 848.0,2784.2 854.9,2772.2 860.0,2794.5 865.2,2832.3 872.1,2859.8 882.4,2856.3 897.1,2849.5 909.8,2858.1 920.1,2859.8 930.4,2846.0 944.2,2839.2 954.5,2832.3 960.7,2827.2 968.2,2842.6 978.5,2828.9 985.4,2825.4 991.2,2787.7 1000.8,2798.0 1009.4,2804.8 1016.3,2835.7 1019.7,2849.5 1026.6,2852.9 1036.9,2849.5 1043.8,2811.7 1054.1,2791.1 1066.1,2775.6 1073.0,2787.7 1078.1,2804.8 1085.0,2832.3 1095.3,2849.5 1102.1,2851.2 1112.4,2852.9 1122.7,2832.3 1129.6,2796.2 1139.9,2808.3 1146.8,2822.0 1155.4,2846.0 1167.4,2851.2 1177.7,2851.2 1184.6,2847.8 1194.9,2859.8 1205.2,2859.8 1215.5,2847.8 1225.8,2846.0 1232.6,2832.3 1239.5,2828.9 1245.0,2835.7 1245.0,2845.2 1252.5,2849.5 1269.6,2852.9 1290.2,2856.3 1297.1,2856.3 1307.4,2856.3 1317.7,2859.8 1324.6,2859.8 1334.9,2856.3 1348.6,2852.9 1362.4,2856.3 1369.2,2856.3 1386.4,2849.5 1396.7,2822.0 1403.6,2804.8 1415.6,2806.6 1424.2,2808.3 1431.0,2818.6 1437.9,2842.6 1444.8,2856.3 1451.6,2846.0 1458.5,2828.9 1465.4,2815.1 1472.3,2818.6 1479.1,2822.0 1486.0,2818.6 1496.3,2846.0 1503.2,2856.3 1513.5,2852.9 1523.8,2852.9 1530.6,2847.8 1540.9,2856.3 1551.2,2852.9 1565.0,2856.3 1582.1,2856.3 1595.9,2856.3 1609.6,2856.3 1623.4,2856.3 1637.1,2856.3 1647.4,2852.9 1657.7,2842.6 1668.0,2832.3 1674.9,2794.5 1681.7,2794.5 1692.0,2798.0 1705.8,2804.8 1719.5,2811.7 1725.0,2815.1 1725.3,2824.5 1731.0,2849.9 1739.4,2855.5 1747.9,2858.3 1756.3,2852.7 1764.8,2849.9 1773.2,2855.5 1781.7,2858.3 1790.1,2849.9 1797.1,2838.6 1804.2,2821.7 1808.4,2827.3 1812.6,2816.1 1818.3,2773.8 1825.3,2734.4 1832.3,2745.7 1838.0,2751.3 1843.6,2745.7 1849.2,2689.4 1853.5,2619.0 1856.3,2588.0 1861.9,2579.5 1867.5,2573.9 1877.4,2588.0 1883.0,2613.3 1887.3,2624.6 1891.5,2590.8 1898.5,2523.2 1902.7,2542.9 1908.4,2582.3 1914.0,2557.0 1919.1,2519.0 1923.9,2562.6 1926.7,2604.9 1929.5,2647.1 1933.7,2675.3 1939.4,2706.2 1947.8,2700.6 1956.2,2692.2 1964.7,2675.3 1971.7,2658.4 1978.8,2652.7 1984.4,2647.1 1988.6,2635.9 1992.9,2620.4 1997.1,2652.7 1999.9,2689.4 2002.7,2720.3 2008.3,2686.5 2012.6,2652.7 2018.2,2675.3 2023.8,2703.4 2028.1,2720.3 2032.3,2731.6 2035.1,2721.7 2040.7,2740.0 2045.0,2759.8 2049.2,2776.6 2054.8,2782.3 2060.4,2802.0 2066.1,2816.1 2070.3,2830.2 2074.5,2849.9 2078.7,2858.3 2083.0,2855.5 2087.2,2827.3 2090.0,2844.2 2094.2,2858.3 2099.9,2858.3 2099.9,2862.0"/>
<polyline class="lbo" clip-path="url(#clipC)" points="275.3,2862.0 275.3,2857.4 285.6,2850.5 290.8,2802.5 295.9,2751.0 299.3,2699.5 302.8,2630.8 306.2,2424.7 311.4,2362.9 316.5,2342.3 319.9,2356.0 325.1,2390.4 328.5,2459.1 333.7,2452.2 337.1,2443.6 340.5,2459.1 345.7,2486.5 349.1,2503.7 356.0,2514.0 361.2,2524.3 364.6,2562.1 368.0,2597.8 373.0,2632.8 378.5,2667.9 380.7,2693.3 387.3,2696.7 395.0,2693.3 406.0,2680.9 417.0,2666.1 423.0,2655.2 433.4,2673.7 444.4,2699.1 453.2,2721.1 465.3,2704.3 475.2,2727.6 486.2,2713.2 500.0,2746.2 505.4,2768.1 512.3,2785.3 519.1,2799.0 526.0,2812.8 532.9,2792.2 539.7,2780.2 544.9,2792.2 551.7,2823.1 560.3,2799.0 567.2,2823.1 574.1,2831.7 580.9,2836.8 587.8,2823.1 596.4,2809.3 603.3,2799.0 608.4,2812.8 622.1,2819.6 635.9,2836.8 646.2,2854.0 659.9,2836.8 670.2,2833.4 680.5,2854.0 690.8,2836.8 701.1,2826.5 708.0,2795.6 714.9,2809.3 725.2,2843.7 738.9,2843.7 752.6,2843.7 765.0,2843.7 765.0,2846.0 779.3,2846.0 786.2,2832.3 793.1,2818.6 799.9,2828.9 813.7,2842.6 830.9,2846.0 844.6,2804.8 848.0,2784.2 854.9,2772.2 860.0,2794.5 865.2,2832.3 872.1,2859.8 882.4,2856.3 897.1,2849.5 909.8,2858.1 920.1,2859.8 930.4,2846.0 944.2,2839.2 954.5,2832.3 960.7,2827.2 968.2,2842.6 978.5,2828.9 985.4,2825.4 991.2,2787.7 1000.8,2798.0 1009.4,2804.8 1016.3,2835.7 1019.7,2849.5 1026.6,2852.9 1036.9,2849.5 1043.8,2811.7 1054.1,2791.1 1066.1,2775.6 1073.0,2787.7 1078.1,2804.8 1085.0,2832.3 1095.3,2849.5 1102.1,2851.2 1112.4,2852.9 1122.7,2832.3 1129.6,2796.2 1139.9,2808.3 1146.8,2822.0 1155.4,2846.0 1167.4,2851.2 1177.7,2851.2 1184.6,2847.8 1194.9,2859.8 1205.2,2859.8 1215.5,2847.8 1225.8,2846.0 1232.6,2832.3 1239.5,2828.9 1245.0,2835.7 1245.0,2845.2 1252.5,2849.5 1269.6,2852.9 1290.2,2856.3 1297.1,2856.3 1307.4,2856.3 1317.7,2859.8 1324.6,2859.8 1334.9,2856.3 1348.6,2852.9 1362.4,2856.3 1369.2,2856.3 1386.4,2849.5 1396.7,2822.0 1403.6,2804.8 1415.6,2806.6 1424.2,2808.3 1431.0,2818.6 1437.9,2842.6 1444.8,2856.3 1451.6,2846.0 1458.5,2828.9 1465.4,2815.1 1472.3,2818.6 1479.1,2822.0 1486.0,2818.6 1496.3,2846.0 1503.2,2856.3 1513.5,2852.9 1523.8,2852.9 1530.6,2847.8 1540.9,2856.3 1551.2,2852.9 1565.0,2856.3 1582.1,2856.3 1595.9,2856.3 1609.6,2856.3 1623.4,2856.3 1637.1,2856.3 1647.4,2852.9 1657.7,2842.6 1668.0,2832.3 1674.9,2794.5 1681.7,2794.5 1692.0,2798.0 1705.8,2804.8 1719.5,2811.7 1725.0,2815.1 1725.3,2824.5 1731.0,2849.9 1739.4,2855.5 1747.9,2858.3 1756.3,2852.7 1764.8,2849.9 1773.2,2855.5 1781.7,2858.3 1790.1,2849.9 1797.1,2838.6 1804.2,2821.7 1808.4,2827.3 1812.6,2816.1 1818.3,2773.8 1825.3,2734.4 1832.3,2745.7 1838.0,2751.3 1843.6,2745.7 1849.2,2689.4 1853.5,2619.0 1856.3,2588.0 1861.9,2579.5 1867.5,2573.9 1877.4,2588.0 1883.0,2613.3 1887.3,2624.6 1891.5,2590.8 1898.5,2523.2 1902.7,2542.9 1908.4,2582.3 1914.0,2557.0 1919.1,2519.0 1923.9,2562.6 1926.7,2604.9 1929.5,2647.1 1933.7,2675.3 1939.4,2706.2 1947.8,2700.6 1956.2,2692.2 1964.7,2675.3 1971.7,2658.4 1978.8,2652.7 1984.4,2647.1 1988.6,2635.9 1992.9,2620.4 1997.1,2652.7 1999.9,2689.4 2002.7,2720.3 2008.3,2686.5 2012.6,2652.7 2018.2,2675.3 2023.8,2703.4 2028.1,2720.3 2032.3,2731.6 2035.1,2721.7 2040.7,2740.0 2045.0,2759.8 2049.2,2776.6 2054.8,2782.3 2060.4,2802.0 2066.1,2816.1 2070.3,2830.2 2074.5,2849.9 2078.7,2858.3 2083.0,2855.5 2087.2,2827.3 2090.0,2844.2 2094.2,2858.3 2099.9,2858.3 2099.9,2862.0"/>
<polyline class="ly" points="275.3,2862.0 275.3,2857.4 285.6,2850.5 290.8,2819.6 295.9,2768.1 299.3,2716.6 302.8,2630.8 306.2,2493.4 309.6,2476.2 316.5,2476.2 321.7,2527.7 326.8,2579.3 330.2,2623.9 333.7,2579.3 337.1,2527.7 340.5,2562.1 347.4,2613.6 354.3,2647.9 359.8,2662.0 369.6,2654.8 370.8,2667.9 375.9,2725.9 381.8,2765.0 391.7,2702.0 401.5,2758.9 414.7,2762.6 418.8,2787.0 425.7,2793.5 434.5,2782.6 447.7,2803.3 471.9,2808.8 480.7,2814.1 488.4,2842.0 496.0,2862.0 512.3,2847.1 519.1,2829.9 526.0,2795.6 532.9,2778.4 539.7,2778.4 544.9,2792.2 551.7,2795.6 560.3,2812.8 567.2,2833.4 574.1,2836.8 580.9,2833.4 587.8,2816.2 596.4,2812.8 603.3,2802.5 611.8,2809.3 622.1,2807.6 632.4,2805.9 642.7,2804.2 653.0,2819.6 663.4,2829.9 677.1,2833.4 687.4,2829.9 697.7,2809.3 708.0,2792.2 718.3,2799.0 728.6,2800.8 738.9,2812.8 749.2,2823.1 765.0,2816.2 765.0,2813.3 770.8,2811.7 779.3,2822.0 786.2,2846.0 799.9,2846.0 813.7,2811.7 834.3,2780.8 848.0,2804.8 854.9,2832.3 865.2,2839.2 872.1,2856.3 877.2,2856.3 885.8,2818.6 897.1,2777.4 906.4,2818.6 913.3,2858.1 927.0,2859.8 937.3,2846.0 951.0,2846.0 960.7,2846.0 968.2,2846.0 978.5,2846.0 991.2,2846.0 1000.8,2846.0 1016.3,2846.0 1026.6,2849.5 1036.9,2849.5 1054.1,2846.0 1066.1,2839.2 1074.7,2828.9 1086.7,2794.5 1095.3,2822.0 1102.1,2846.0 1109.0,2854.6 1122.7,2856.3 1136.5,2854.6 1150.2,2849.5 1164.0,2849.5 1177.7,2852.9 1191.4,2858.1 1205.2,2849.5 1218.9,2846.0 1232.6,2846.0 1245.0,2846.0 1245.0,2832.3 1245.6,2832.3 1255.9,2811.7 1269.6,2825.4 1279.9,2839.2 1290.2,2856.3 1297.1,2859.8 1310.9,2859.8 1324.6,2856.3 1331.5,2818.6 1340.0,2787.7 1348.6,2818.6 1355.5,2839.2 1362.4,2856.3 1369.2,2859.8 1376.1,2856.3 1386.4,2854.6 1396.7,2856.3 1403.6,2857.0 1412.2,2846.0 1419.0,2828.9 1425.9,2813.4 1431.0,2815.1 1441.3,2825.4 1451.6,2825.4 1465.4,2818.6 1475.7,2815.1 1486.0,2810.0 1496.3,2825.4 1503.2,2839.2 1516.9,2839.2 1534.1,2835.7 1551.2,2825.4 1561.5,2818.6 1571.8,2813.4 1582.1,2825.4 1592.4,2835.7 1602.7,2830.6 1613.0,2827.2 1623.4,2828.9 1635.4,2830.6 1644.0,2818.6 1654.3,2804.8 1664.6,2832.3 1671.4,2842.6 1681.7,2832.3 1692.0,2832.3 1705.8,2835.7 1719.5,2825.4 1725.0,2825.4 1725.3,2813.3 1731.0,2804.8 1739.4,2787.9 1747.9,2802.0 1756.3,2810.4 1764.8,2811.8 1773.2,2813.3 1781.7,2816.1 1790.1,2835.8 1797.1,2835.8 1804.2,2827.3 1808.4,2830.2 1812.6,2833.0 1818.3,2802.0 1825.3,2773.8 1832.3,2759.8 1838.0,2740.0 1843.6,2726.0 1849.2,2689.4 1853.5,2647.1 1860.5,2641.5 1866.1,2638.7 1871.8,2658.4 1877.4,2678.1 1885.9,2666.8 1897.1,2658.4 1908.4,2658.4 1914.0,2652.7 1919.6,2648.5 1923.9,2675.3 1928.1,2697.8 1933.7,2726.0 1940.8,2754.1 1947.8,2737.2 1956.2,2726.0 1964.7,2714.7 1973.1,2709.1 1981.6,2703.4 1990.0,2697.8 1995.7,2686.5 2001.3,2661.2 2008.3,2635.9 2014.0,2613.3 2018.2,2633.0 2023.8,2675.3 2028.1,2714.7 2032.3,2742.9 2037.9,2759.8 2046.4,2773.8 2054.8,2779.5 2060.4,2776.6 2066.1,2771.0 2070.3,2802.0 2074.5,2835.8 2078.7,2855.5 2083.0,2855.5 2087.2,2827.3 2090.0,2844.2 2094.2,2858.3 2099.9,2858.3 2099.9,2862.0"/>
<polyline class="lr" points="278.7,2816.2 285.6,2823.1 290.8,2829.9 297.6,2833.4 301.1,2802.5 302.8,2699.5 304.5,2562.1 306.2,2424.7 307.9,2321.7 309.6,2235.9 312.4,2187.8 315.8,2184.3 319.3,2218.7 321.7,2287.4 325.1,2373.2 328.5,2441.9 332.0,2510.6 335.4,2562.1 338.8,2603.3 344.0,2641.1 350.9,2668.5 357.7,2685.7 364.6,2706.3 371.5,2723.5 378.3,2744.1 385.2,2757.8 392.1,2771.6 398.9,2781.9 409.2,2792.2 423.0,2799.0 436.7,2805.9 450.4,2812.8 464.2,2816.2 477.9,2819.6 491.6,2823.1 505.4,2824.8 519.1,2824.8 529.4,2821.4 539.7,2824.8 550.0,2828.2 560.3,2831.7 570.6,2831.7 580.9,2835.1 594.7,2831.7 608.4,2829.9 625.6,2831.7 639.3,2826.5 646.2,2812.8 651.3,2816.2 656.5,2833.4 666.8,2836.8 680.5,2836.8 690.8,2833.4 701.1,2829.9 711.4,2833.4 728.6,2838.5 745.8,2838.5 765.0,2836.8 765.0,2832.2 770.8,2828.9 779.3,2832.3 789.6,2839.2 803.4,2832.3 813.7,2835.7 827.4,2840.9 841.2,2835.7 848.0,2832.3 858.3,2835.7 868.6,2840.9 882.4,2835.7 892.7,2830.6 903.0,2837.5 916.7,2839.2 937.3,2839.2 957.9,2839.2 978.5,2839.2 999.1,2837.5 1019.7,2835.7 1036.9,2828.9 1047.2,2827.2 1057.5,2822.0 1067.8,2832.3 1081.5,2837.5 1095.3,2835.7 1109.0,2835.7 1122.7,2832.3 1139.9,2828.9 1150.2,2827.2 1164.0,2830.6 1177.7,2825.4 1186.3,2816.9 1194.9,2827.2 1205.2,2825.4 1215.5,2823.7 1225.8,2830.6 1236.1,2837.5 1245.0,2839.2 1245.0,2837.4 1245.6,2837.5 1266.2,2837.5 1286.8,2835.7 1300.5,2832.3 1310.9,2827.2 1321.2,2830.6 1328.0,2825.4 1334.9,2820.3 1341.8,2828.9 1348.6,2835.7 1362.4,2835.7 1376.1,2834.0 1389.8,2830.6 1403.6,2827.2 1417.3,2827.2 1431.0,2827.2 1444.8,2827.2 1458.5,2828.9 1465.4,2835.7 1475.7,2842.6 1492.9,2842.6 1510.0,2842.6 1527.2,2839.2 1547.8,2839.2 1568.4,2839.2 1585.6,2840.9 1602.7,2842.6 1619.9,2844.3 1637.1,2844.3 1654.3,2844.3 1668.0,2844.3 1673.1,2832.3 1678.3,2811.7 1685.2,2808.3 1692.0,2822.0 1702.3,2827.2 1712.6,2835.7 1725.0,2839.2 1725.0,2839.7 1728.2,2840.0 1742.2,2840.0 1756.3,2841.4 1773.2,2841.4 1790.1,2841.4 1807.0,2841.4 1823.9,2841.4 1840.8,2840.0 1846.4,2830.2 1853.5,2810.4 1860.5,2799.2 1866.1,2797.8 1871.8,2802.0 1880.2,2807.6 1885.9,2787.9 1890.1,2759.8 1894.3,2737.2 1898.5,2740.0 1902.7,2759.8 1908.4,2782.3 1914.0,2804.8 1922.5,2810.4 1933.7,2816.1 1947.8,2818.9 1964.7,2821.7 1981.6,2823.1 1995.7,2824.5 2001.3,2816.1 2005.5,2787.9 2009.8,2776.6 2014.0,2787.9 2018.2,2816.1 2023.8,2827.3 2032.3,2830.2 2043.5,2835.8 2054.8,2841.4 2066.1,2844.2 2080.2,2847.0 2094.2,2848.5 2101.0,2848.5"/>
<g class="ax" style="stroke-width:4.6"><line x1="270" y1="2137" x2="270" y2="2883"/><line x1="263" y1="2862" x2="2104" y2="2862" style="stroke-width:5.0"/><line x1="2104" y1="2138" x2="2104" y2="2862" style="stroke-width:3.6"/><line x1="255" y1="2862.0" x2="270" y2="2862.0"/><line x1="263" y1="2635.3" x2="270" y2="2635.3"/><line x1="263" y1="2408.6" x2="270" y2="2408.6"/><line x1="263" y1="2181.9" x2="270" y2="2181.9"/><line x1="2104" y1="2862.0" x2="2120" y2="2862.0" style="stroke-width:3.6"/><line x1="2104" y1="2789.6" x2="2120" y2="2789.6" style="stroke-width:3.6"/><line x1="2104" y1="2717.2" x2="2120" y2="2717.2" style="stroke-width:3.6"/><line x1="2104" y1="2644.8" x2="2120" y2="2644.8" style="stroke-width:3.6"/><line x1="2104" y1="2572.4" x2="2120" y2="2572.4" style="stroke-width:3.6"/><line x1="2104" y1="2500.0" x2="2120" y2="2500.0" style="stroke-width:3.6"/><line x1="2104" y1="2427.6" x2="2120" y2="2427.6" style="stroke-width:3.6"/><line x1="2104" y1="2355.2" x2="2120" y2="2355.2" style="stroke-width:3.6"/><line x1="2104" y1="2282.8" x2="2120" y2="2282.8" style="stroke-width:3.6"/><line x1="2104" y1="2210.4" x2="2120" y2="2210.4" style="stroke-width:3.6"/><line x1="2104" y1="2138.0" x2="2120" y2="2138.0" style="stroke-width:3.6"/><line x1="270.0" y1="2862" x2="270.0" y2="2882"/><line x1="796.5" y1="2862" x2="796.5" y2="2882"/><line x1="1324.6" y1="2862" x2="1324.6" y2="2882"/><line x1="1851.0" y1="2862" x2="1851.0" y2="2882"/></g>
<g class="tx"><text x="193.2" y="2212.3" font-size="69.2" textLength="36.3" lengthAdjust="spacingAndGlyphs">3</text>
<text x="193.5" y="2431.7" font-size="68.3" textLength="38.7" lengthAdjust="spacingAndGlyphs">2</text>
<text x="197.8" y="2668.6" font-size="69.2" textLength="30.7" lengthAdjust="spacingAndGlyphs">1</text>
<text x="251.9" y="2964.3" font-size="65.4" textLength="36.0" lengthAdjust="spacingAndGlyphs">0</text>
<text x="741.9" y="2952.0" font-size="70.2" textLength="112.8" lengthAdjust="spacingAndGlyphs">100</text>
<text x="1272.6" y="2961.3" font-size="67.8">200</text>
<text x="1798.5" y="2961.3" font-size="67.8" textLength="110.6" lengthAdjust="spacingAndGlyphs">300</text>
<text x="901.7" y="3051.6" font-size="67.0" textLength="568.3" lengthAdjust="spacingAndGlyphs">elution volume, mL</text>
<text x="2151.9" y="2307.9" font-size="68.6">80</text>
<text x="2145.5" y="2452.9" font-size="70.1" textLength="76.2" lengthAdjust="spacingAndGlyphs">60</text>
<text x="2148.1" y="2596.3" font-size="68.6">40</text>
<text x="2146.3" y="2735.3" font-size="66.8" textLength="76.4" lengthAdjust="spacingAndGlyphs">20</text>
<text transform="translate(2314.3,2651.4) rotate(-90)" font-size="70.1" textLength="346.9" lengthAdjust="spacingAndGlyphs">% i<tspan font-style="italic">n</tspan>hibition</text>
<text transform="translate(152.4,2574.1) rotate(-90)" font-size="71.8" textLength="45.8" lengthAdjust="spacingAndGlyphs">A</text>
<text transform="translate(151.9,2514.6) rotate(-90)" font-size="52.3" textLength="171.0" lengthAdjust="spacingAndGlyphs">254 nm</text>
<text x="363.9" y="2254.2" font-size="84.7" textLength="57.8" lengthAdjust="spacingAndGlyphs">C</text>
<text class="l" x="562.3" y="2309.3" font-size="69.3">a</text>
<text class="l" x="1096.3" y="2502.1" font-size="52.5">b</text>
<text class="l" x="1366.0" y="2315.4" font-size="60.2">c</text>
<text class="l" x="1625.6" y="2427.4" font-size="55.8">d</text>
<text class="l" x="1818.5" y="2268.0" font-size="65.0">e</text></g>
<g class="ar"><line x1="586.3" y1="2338" x2="586.3" y2="2667.4" class="as"/><polygon points="565.8,2665.4 606.8,2665.4 586.3,2704.7"/><line x1="1112.4" y1="2588" x2="1112.4" y2="2703.8" class="as"/><polygon points="1091.9,2701.8 1132.9,2701.8 1112.4,2741.3"/><line x1="1375" y1="2428" x2="1375" y2="2672" class="as"/><polygon points="1354.5,2670 1395.5,2670 1375,2710.4"/><line x1="1641.2" y1="2522" x2="1641.2" y2="2714" class="as"/><polygon points="1620.7,2712 1661.7,2712 1641.2,2751.6"/><line x1="1833" y1="2319" x2="1833" y2="2523.8" class="as"/><polygon points="1812.5,2521.8 1853.5,2521.8 1833,2561.2"/></g>
</g>
<g id="pD" style="--rw:4.6;--bw:3.6;--yw:3">
<polygon class="fb" points="271.9,3887 271.9,3877.7 278.7,3882.9 292.5,3882.9 299.3,3879.5 309.6,3882.9 316.5,3879.5 319.9,3886.3 337.1,3886.3 349.1,3877.7 361.2,3864.0 371.5,3846.8 381.8,3867.4 392.1,3881.2 402.4,3872.6 409.2,3872.6 416.1,3882.9 426.4,3884.6 436.7,3881.2 447.0,3884.6 460.7,3882.9 474.5,3881.2 488.2,3882.9 498.5,3881.2 512.3,3870.9 519.1,3864.0 529.4,3874.3 539.7,3881.2 550.0,3870.9 556.9,3840.0 562.0,3857.1 567.2,3867.4 574.1,3877.7 580.9,3870.9 587.8,3864.0 594.7,3860.6 601.5,3846.8 608.4,3843.4 613.6,3826.2 618.7,3795.3 625.6,3740.4 634.2,3719.8 642.7,3723.2 647.9,3747.3 656.5,3781.6 666.8,3802.2 677.1,3809.1 687.4,3822.8 694.3,3815.9 701.1,3826.2 711.4,3840.0 721.7,3829.7 730.3,3798.8 738.9,3764.4 749.2,3754.1 756.1,3743.8 765.0,3754.1 765.0,3780.4 769.7,3744.2 775.9,3778.6 782.8,3785.4 789.6,3809.5 796.5,3826.6 805.1,3833.5 813.7,3819.8 824.0,3809.5 834.3,3811.2 844.6,3816.3 849.7,3833.5 854.9,3850.7 858.3,3867.9 863.5,3867.9 868.6,3854.1 874.8,3840.4 880.6,3847.3 885.8,3843.8 896.1,3837.0 909.8,3826.6 923.6,3809.5 932.2,3782.0 937.3,3759.7 942.5,3785.4 947.6,3806.0 954.5,3826.6 959.6,3802.6 968.2,3797.5 978.5,3812.9 988.8,3823.2 1000.8,3816.3 1009.4,3819.8 1019.7,3809.5 1032.8,3788.9 1040.3,3809.5 1047.2,3830.1 1054.1,3843.8 1064.4,3830.1 1074.7,3816.3 1085.0,3830.1 1095.3,3837.0 1105.6,3847.3 1112.4,3850.7 1119.3,3867.9 1126.2,3874.7 1133.0,3878.2 1139.9,3874.7 1157.1,3871.3 1174.3,3878.2 1191.4,3854.1 1208.6,3861.0 1225.8,3864.4 1245.0,3854.1 1245.0,3863.8 1262.8,3881.6 1276.5,3850.7 1293.7,3850.7 1316.0,3849.0 1328.0,3830.1 1345.2,3840.4 1362.4,3861.0 1372.7,3874.7 1379.5,3847.3 1386.4,3840.4 1400.8,3802.6 1410.4,3847.3 1417.3,3861.0 1424.2,3871.3 1431.0,3874.7 1434.5,3861.0 1444.8,3826.6 1455.1,3840.4 1462.0,3861.0 1465.4,3885.0 1475.7,3867.9 1486.0,3850.7 1499.7,3874.7 1513.5,3871.3 1527.2,3861.0 1540.9,3857.6 1558.1,3871.3 1568.4,3861.0 1582.1,3854.1 1595.9,3854.1 1609.6,3857.6 1623.4,3861.0 1637.1,3847.3 1640.5,3843.8 1657.7,3861.0 1671.4,3854.1 1685.2,3819.8 1692.0,3840.4 1698.9,3861.0 1705.8,3867.9 1712.6,3874.7 1719.5,3823.2 1725.0,3799.2 1725.0,3808.9 1727.4,3795.2 1734.6,3824.0 1737.5,3838.5 1747.6,3867.3 1769.2,3850.0 1792.3,3876.0 1821.2,3852.9 1829.8,3850.0 1832.7,3863.0 1841.3,3855.8 1850.0,3844.2 1857.2,3809.6 1865.9,3775.0 1874.5,3740.4 1881.7,3751.9 1887.5,3749.0 1896.2,3723.1 1906.2,3694.2 1914.9,3723.1 1922.1,3737.5 1929.3,3743.3 1933.7,3723.1 1939.4,3700.0 1948.1,3666.8 1955.3,3708.7 1959.6,3723.1 1965.4,3751.9 1971.2,3769.2 1976.9,3723.1 1980.4,3688.5 1984.1,3711.5 1988.5,3751.9 1994.2,3751.9 2001.4,3734.6 2005.8,3775.0 2010.1,3809.6 2015.9,3803.8 2021.6,3803.8 2027.4,3809.6 2033.2,3815.4 2038.9,3821.2 2046.2,3815.4 2054.8,3798.1 2063.5,3776.4 2072.1,3780.8 2083.7,3775.0 2089.4,3792.3 2095.2,3809.6 2101.0,3832.7 2105.3,3850.0 2106.7,3852.9 2106.7,3887"/>
<polygon class="fy" points="271.9,3887 271.9,3881.2 319.9,3884.6 337.1,3886.3 349.1,3852.0 361.2,3877.7 368.0,3882.9 378.3,3874.3 392.1,3855.4 404.1,3877.7 410.9,3882.9 421.2,3876.0 433.3,3860.6 445.3,3881.2 452.2,3886.3 460.7,3884.6 474.5,3843.4 488.2,3877.7 496.8,3884.6 505.4,3870.9 517.4,3831.4 529.4,3864.0 538.0,3881.2 550.0,3874.3 560.3,3864.0 570.6,3843.4 580.2,3817.7 586.1,3840.0 591.2,3864.0 596.4,3870.9 605.0,3850.3 611.8,3843.4 618.7,3809.1 625.6,3781.6 632.4,3761.0 641.0,3754.1 653.0,3802.2 665.1,3843.4 677.1,3865.7 687.4,3850.3 694.3,3819.4 701.1,3829.7 708.0,3840.0 714.9,3843.4 721.7,3838.3 728.6,3833.1 742.3,3809.1 749.2,3791.9 759.5,3798.8 765.0,3795.3 765.0,3785.8 769.7,3728.8 775.9,3771.7 782.8,3806.0 789.6,3823.2 796.5,3833.5 805.1,3837.0 813.7,3847.3 824.0,3864.4 834.3,3874.7 844.6,3874.7 854.9,3874.7 860.0,3871.3 865.2,3840.4 869.3,3806.0 874.8,3778.6 880.6,3833.5 885.8,3874.7 896.1,3874.7 909.8,3861.0 923.6,3847.3 932.2,3819.8 937.3,3792.3 942.5,3812.9 947.6,3833.5 954.5,3847.3 964.8,3854.1 978.5,3864.4 988.8,3843.8 1000.8,3819.8 1009.4,3833.5 1019.7,3837.0 1032.8,3833.5 1040.3,3830.1 1047.2,3840.4 1054.1,3847.3 1064.4,3864.4 1074.7,3854.1 1085.0,3840.4 1095.3,3847.3 1105.6,3850.7 1112.4,3854.1 1119.3,3874.7 1126.2,3878.2 1133.0,3874.7 1139.9,3867.9 1150.2,3847.3 1158.8,3828.4 1170.8,3847.3 1177.7,3840.4 1191.4,3823.2 1201.7,3812.9 1208.6,3830.1 1218.9,3864.4 1232.6,3854.1 1245.0,3847.3 1245.0,3845.7 1264.5,3835.2 1276.5,3847.3 1293.7,3871.3 1305.7,3878.2 1317.7,3840.4 1328.0,3816.3 1346.9,3809.5 1362.4,3816.3 1372.7,3826.6 1379.5,3840.4 1386.4,3847.3 1396.7,3874.7 1403.6,3885.0 1412.2,3871.3 1417.3,3861.0 1424.2,3861.0 1431.0,3867.9 1437.9,3857.6 1444.8,3854.1 1455.1,3840.4 1458.5,3819.8 1472.3,3809.5 1486.0,3790.6 1492.9,3833.5 1499.7,3850.7 1513.5,3871.3 1527.2,3847.3 1537.5,3818.1 1547.8,3840.4 1558.1,3854.1 1568.4,3833.5 1580.4,3807.8 1592.4,3833.5 1599.3,3847.3 1609.6,3833.5 1621.6,3816.3 1630.2,3833.5 1637.1,3850.7 1647.4,3861.0 1661.1,3869.6 1685.2,3874.7 1692.0,3847.3 1698.9,3833.5 1705.8,3812.9 1712.6,3840.4 1719.5,3861.0 1725.0,3840.4 1725.0,3878.3 1727.4,3881.7 1734.6,3852.9 1740.4,3824.0 1747.6,3799.5 1757.7,3812.5 1769.2,3824.0 1780.8,3809.6 1790.9,3790.9 1801.0,3798.1 1813.9,3809.6 1821.2,3832.7 1826.9,3850.0 1834.1,3855.8 1841.3,3852.9 1850.0,3861.5 1857.2,3824.0 1865.9,3803.8 1874.5,3751.9 1878.8,3775.0 1884.6,3803.8 1896.2,3798.1 1906.2,3792.3 1914.9,3818.3 1922.1,3803.8 1929.3,3780.8 1935.1,3714.4 1942.3,3711.5 1948.1,3723.1 1953.8,3723.1 1959.6,3711.5 1965.4,3737.5 1971.2,3751.9 1976.9,3700.0 1980.4,3662.5 1984.1,3694.2 1988.5,3728.8 1994.2,3728.8 2001.4,3708.7 2005.8,3737.5 2010.1,3775.0 2015.9,3769.2 2021.6,3760.6 2027.4,3780.8 2033.2,3803.8 2038.9,3824.0 2046.2,3847.1 2054.8,3852.9 2063.5,3821.2 2072.1,3832.7 2080.8,3803.8 2086.5,3801.0 2092.3,3818.3 2098.1,3832.7 2103.8,3847.1 2106.7,3852.9 2106.7,3887"/>
<polygon class="fg" points="271.9,3887 271.9,3881.2 276.9,3881.5 278.7,3882.9 292.5,3882.9 292.9,3882.7 299.3,3883.1 309.6,3883.9 316.5,3884.4 319.1,3884.6 319.9,3886.2 337.1,3886.3 349.1,3877.8 357.0,3868.8 361.2,3877.8 368.0,3882.9 371.5,3880.0 378.3,3874.3 381.8,3869.5 382.6,3868.5 392.1,3881.1 401.6,3873.2 402.4,3874.6 404.1,3877.8 409.2,3881.6 410.9,3882.9 414.5,3880.5 416.1,3882.9 421.2,3883.7 426.4,3884.6 433.3,3882.3 436.7,3881.2 445.3,3884.0 447.0,3884.6 449.5,3884.3 452.2,3886.3 460.7,3884.6 461.3,3882.9 474.5,3881.2 488.2,3882.9 493.6,3882.0 496.8,3884.6 498.5,3881.9 499.3,3880.6 505.4,3876.0 512.3,3870.8 517.4,3865.7 519.1,3864.0 529.4,3874.3 537.2,3879.5 538.0,3881.2 538.9,3880.7 539.7,3881.2 541.9,3879.0 550.0,3874.3 556.9,3867.4 560.3,3864.0 562.0,3860.7 562.9,3858.9 567.2,3867.4 570.6,3872.5 574.1,3877.7 580.2,3871.6 580.9,3870.9 586.1,3865.7 587.8,3864.0 590.9,3862.5 591.2,3863.8 594.7,3868.6 596.4,3870.8 601.5,3858.6 605.0,3850.2 608.4,3846.8 611.8,3843.4 613.6,3834.6 618.7,3809.1 625.6,3781.5 632.4,3761.1 634.2,3759.6 641.0,3754.1 642.7,3760.8 647.9,3781.6 653.0,3802.0 656.5,3814.0 665.1,3843.5 666.8,3846.6 677.1,3865.7 687.4,3850.2 694.3,3819.4 701.1,3829.6 708.0,3840.0 711.4,3841.7 714.9,3843.4 721.7,3838.3 728.6,3833.1 730.3,3830.1 738.9,3815.1 742.3,3809.1 749.2,3791.9 756.1,3796.5 759.5,3798.8 765.0,3785.8 766.2,3771.0 769.7,3744.4 775.9,3778.5 777.6,3780.3 782.8,3806.1 789.6,3823.1 796.5,3833.5 805.1,3837.0 813.7,3847.3 824.0,3864.4 834.3,3874.7 844.6,3874.7 849.7,3874.7 854.9,3874.7 858.3,3872.5 860.0,3871.3 860.6,3868.0 863.5,3867.8 865.2,3863.3 868.6,3854.2 869.3,3852.6 874.8,3840.4 880.6,3847.2 882.2,3846.2 885.8,3874.7 896.1,3874.7 909.8,3861.0 923.6,3847.2 932.2,3819.5 937.3,3792.3 942.5,3813.1 947.6,3833.5 954.5,3847.3 959.6,3850.7 964.8,3854.1 968.2,3856.7 978.5,3864.4 988.8,3843.9 1000.8,3819.9 1009.4,3833.5 1019.7,3836.9 1032.8,3833.5 1040.3,3830.1 1047.2,3840.4 1054.1,3847.3 1064.4,3864.4 1074.7,3854.1 1085.0,3840.4 1095.3,3847.3 1105.6,3850.7 1112.4,3854.1 1119.3,3874.7 1126.2,3878.2 1129.6,3876.4 1133.0,3878.1 1139.9,3874.7 1150.2,3872.7 1157.1,3871.3 1158.8,3872.0 1170.8,3876.8 1174.3,3878.1 1177.7,3873.3 1191.4,3854.2 1201.7,3858.2 1208.6,3861.0 1218.5,3863.0 1218.9,3864.4 1220.3,3863.3 1225.8,3864.4 1232.6,3860.8 1245.0,3863.8 1262.8,3881.5 1264.5,3877.7 1276.5,3850.7 1279.0,3850.7 1293.7,3871.3 1305.7,3878.2 1315.0,3849.0 1316.0,3849.0 1317.7,3846.3 1328.0,3830.1 1345.2,3840.4 1346.9,3842.4 1362.4,3861.0 1372.7,3874.6 1379.5,3847.4 1383.0,3843.9 1386.4,3847.3 1396.7,3874.7 1400.8,3880.9 1403.6,3885.0 1410.4,3874.1 1412.2,3871.2 1417.3,3861.0 1417.3,3861.0 1424.2,3871.3 1431.0,3874.7 1433.8,3863.7 1434.5,3862.7 1437.9,3857.6 1444.8,3854.1 1455.0,3840.4 1455.1,3840.4 1458.5,3850.6 1462.0,3861.3 1465.4,3885.0 1472.3,3873.5 1475.7,3867.8 1486.0,3850.7 1492.9,3862.8 1499.7,3874.7 1513.5,3871.3 1527.2,3861.0 1537.5,3858.4 1540.9,3857.6 1547.8,3863.0 1558.1,3871.3 1568.4,3861.0 1580.4,3855.0 1582.1,3854.1 1592.4,3854.1 1595.9,3854.1 1599.3,3855.0 1609.6,3857.6 1621.6,3860.6 1623.4,3860.9 1630.2,3854.1 1636.1,3848.2 1637.1,3850.7 1640.5,3854.1 1647.4,3861.0 1657.7,3867.4 1661.1,3869.6 1671.4,3871.8 1685.2,3874.6 1692.0,3847.4 1693.4,3844.5 1698.9,3861.0 1705.8,3867.9 1712.6,3874.7 1715.9,3850.3 1719.5,3861.0 1725.0,3878.3 1727.4,3881.7 1734.6,3852.9 1737.5,3838.5 1737.5,3838.5 1740.4,3846.7 1747.6,3867.3 1757.7,3859.2 1769.2,3850.0 1780.8,3863.0 1790.9,3874.4 1792.3,3876.0 1801.0,3869.0 1813.9,3858.7 1821.2,3852.9 1826.9,3851.0 1827.8,3850.7 1829.8,3852.3 1830.4,3852.8 1832.7,3863.0 1834.1,3861.8 1841.3,3855.8 1842.6,3854.2 1850.0,3861.5 1857.2,3824.1 1865.9,3803.6 1874.5,3752.0 1878.8,3774.8 1881.7,3789.3 1884.6,3803.8 1887.5,3802.4 1896.2,3798.1 1906.2,3792.3 1914.9,3818.3 1922.1,3803.9 1929.3,3780.9 1933.7,3730.5 1934.7,3718.8 1935.1,3717.3 1935.9,3714.1 1939.4,3712.7 1942.3,3711.5 1948.1,3723.1 1953.8,3723.1 1955.3,3720.2 1957.5,3715.9 1959.6,3723.0 1965.4,3752.0 1971.2,3768.9 1976.9,3723.3 1980.4,3688.6 1984.1,3711.3 1988.5,3751.9 1994.2,3751.9 2001.4,3734.7 2005.8,3775.2 2010.1,3809.6 2015.9,3803.8 2021.6,3803.8 2027.4,3809.6 2033.2,3815.4 2037.8,3820.0 2038.9,3823.9 2046.2,3847.1 2054.8,3852.9 2063.5,3821.2 2072.1,3832.7 2080.8,3803.8 2083.7,3802.4 2086.5,3801.0 2089.4,3809.5 2092.3,3818.2 2095.2,3825.5 2098.1,3832.8 2101.0,3840.0 2103.8,3847.0 2105.3,3850.0 2106.7,3852.8 2106.7,3887"/>
<polyline class="lb" points="271.9,3887.0 271.9,3877.7 278.7,3882.9 292.5,3882.9 299.3,3879.5 309.6,3882.9 316.5,3879.5 319.9,3886.3 337.1,3886.3 349.1,3877.7 361.2,3864.0 371.5,3846.8 381.8,3867.4 392.1,3881.2 402.4,3872.6 409.2,3872.6 416.1,3882.9 426.4,3884.6 436.7,3881.2 447.0,3884.6 460.7,3882.9 474.5,3881.2 488.2,3882.9 498.5,3881.2 512.3,3870.9 519.1,3864.0 529.4,3874.3 539.7,3881.2 550.0,3870.9 556.9,3840.0 562.0,3857.1 567.2,3867.4 574.1,3877.7 580.9,3870.9 587.8,3864.0 594.7,3860.6 601.5,3846.8 608.4,3843.4 613.6,3826.2 618.7,3795.3 625.6,3740.4 634.2,3719.8 642.7,3723.2 647.9,3747.3 656.5,3781.6 666.8,3802.2 677.1,3809.1 687.4,3822.8 694.3,3815.9 701.1,3826.2 711.4,3840.0 721.7,3829.7 730.3,3798.8 738.9,3764.4 749.2,3754.1 756.1,3743.8 765.0,3754.1 765.0,3780.4 769.7,3744.2 775.9,3778.6 782.8,3785.4 789.6,3809.5 796.5,3826.6 805.1,3833.5 813.7,3819.8 824.0,3809.5 834.3,3811.2 844.6,3816.3 849.7,3833.5 854.9,3850.7 858.3,3867.9 863.5,3867.9 868.6,3854.1 874.8,3840.4 880.6,3847.3 885.8,3843.8 896.1,3837.0 909.8,3826.6 923.6,3809.5 932.2,3782.0 937.3,3759.7 942.5,3785.4 947.6,3806.0 954.5,3826.6 959.6,3802.6 968.2,3797.5 978.5,3812.9 988.8,3823.2 1000.8,3816.3 1009.4,3819.8 1019.7,3809.5 1032.8,3788.9 1040.3,3809.5 1047.2,3830.1 1054.1,3843.8 1064.4,3830.1 1074.7,3816.3 1085.0,3830.1 1095.3,3837.0 1105.6,3847.3 1112.4,3850.7 1119.3,3867.9 1126.2,3874.7 1133.0,3878.2 1139.9,3874.7 1157.1,3871.3 1174.3,3878.2 1191.4,3854.1 1208.6,3861.0 1225.8,3864.4 1245.0,3854.1 1245.0,3863.8 1262.8,3881.6 1276.5,3850.7 1293.7,3850.7 1316.0,3849.0 1328.0,3830.1 1345.2,3840.4 1362.4,3861.0 1372.7,3874.7 1379.5,3847.3 1386.4,3840.4 1400.8,3802.6 1410.4,3847.3 1417.3,3861.0 1424.2,3871.3 1431.0,3874.7 1434.5,3861.0 1444.8,3826.6 1455.1,3840.4 1462.0,3861.0 1465.4,3885.0 1475.7,3867.9 1486.0,3850.7 1499.7,3874.7 1513.5,3871.3 1527.2,3861.0 1540.9,3857.6 1558.1,3871.3 1568.4,3861.0 1582.1,3854.1 1595.9,3854.1 1609.6,3857.6 1623.4,3861.0 1637.1,3847.3 1640.5,3843.8 1657.7,3861.0 1671.4,3854.1 1685.2,3819.8 1692.0,3840.4 1698.9,3861.0 1705.8,3867.9 1712.6,3874.7 1719.5,3823.2 1725.0,3799.2 1725.0,3808.9 1727.4,3795.2 1734.6,3824.0 1737.5,3838.5 1747.6,3867.3 1769.2,3850.0 1792.3,3876.0 1821.2,3852.9 1829.8,3850.0 1832.7,3863.0 1841.3,3855.8 1850.0,3844.2 1857.2,3809.6 1865.9,3775.0 1874.5,3740.4 1881.7,3751.9 1887.5,3749.0 1896.2,3723.1 1906.2,3694.2 1914.9,3723.1 1922.1,3737.5 1929.3,3743.3 1933.7,3723.1 1939.4,3700.0 1948.1,3666.8 1955.3,3708.7 1959.6,3723.1 1965.4,3751.9 1971.2,3769.2 1976.9,3723.1 1980.4,3688.5 1984.1,3711.5 1988.5,3751.9 1994.2,3751.9 2001.4,3734.6 2005.8,3775.0 2010.1,3809.6 2015.9,3803.8 2021.6,3803.8 2027.4,3809.6 2033.2,3815.4 2038.9,3821.2 2046.2,3815.4 2054.8,3798.1 2063.5,3776.4 2072.1,3780.8 2083.7,3775.0 2089.4,3792.3 2095.2,3809.6 2101.0,3832.7 2105.3,3850.0 2106.7,3852.9 2106.7,3887.0"/>
<polyline class="lbo" clip-path="url(#clipD)" points="271.9,3887.0 271.9,3877.7 278.7,3882.9 292.5,3882.9 299.3,3879.5 309.6,3882.9 316.5,3879.5 319.9,3886.3 337.1,3886.3 349.1,3877.7 361.2,3864.0 371.5,3846.8 381.8,3867.4 392.1,3881.2 402.4,3872.6 409.2,3872.6 416.1,3882.9 426.4,3884.6 436.7,3881.2 447.0,3884.6 460.7,3882.9 474.5,3881.2 488.2,3882.9 498.5,3881.2 512.3,3870.9 519.1,3864.0 529.4,3874.3 539.7,3881.2 550.0,3870.9 556.9,3840.0 562.0,3857.1 567.2,3867.4 574.1,3877.7 580.9,3870.9 587.8,3864.0 594.7,3860.6 601.5,3846.8 608.4,3843.4 613.6,3826.2 618.7,3795.3 625.6,3740.4 634.2,3719.8 642.7,3723.2 647.9,3747.3 656.5,3781.6 666.8,3802.2 677.1,3809.1 687.4,3822.8 694.3,3815.9 701.1,3826.2 711.4,3840.0 721.7,3829.7 730.3,3798.8 738.9,3764.4 749.2,3754.1 756.1,3743.8 765.0,3754.1 765.0,3780.4 769.7,3744.2 775.9,3778.6 782.8,3785.4 789.6,3809.5 796.5,3826.6 805.1,3833.5 813.7,3819.8 824.0,3809.5 834.3,3811.2 844.6,3816.3 849.7,3833.5 854.9,3850.7 858.3,3867.9 863.5,3867.9 868.6,3854.1 874.8,3840.4 880.6,3847.3 885.8,3843.8 896.1,3837.0 909.8,3826.6 923.6,3809.5 932.2,3782.0 937.3,3759.7 942.5,3785.4 947.6,3806.0 954.5,3826.6 959.6,3802.6 968.2,3797.5 978.5,3812.9 988.8,3823.2 1000.8,3816.3 1009.4,3819.8 1019.7,3809.5 1032.8,3788.9 1040.3,3809.5 1047.2,3830.1 1054.1,3843.8 1064.4,3830.1 1074.7,3816.3 1085.0,3830.1 1095.3,3837.0 1105.6,3847.3 1112.4,3850.7 1119.3,3867.9 1126.2,3874.7 1133.0,3878.2 1139.9,3874.7 1157.1,3871.3 1174.3,3878.2 1191.4,3854.1 1208.6,3861.0 1225.8,3864.4 1245.0,3854.1 1245.0,3863.8 1262.8,3881.6 1276.5,3850.7 1293.7,3850.7 1316.0,3849.0 1328.0,3830.1 1345.2,3840.4 1362.4,3861.0 1372.7,3874.7 1379.5,3847.3 1386.4,3840.4 1400.8,3802.6 1410.4,3847.3 1417.3,3861.0 1424.2,3871.3 1431.0,3874.7 1434.5,3861.0 1444.8,3826.6 1455.1,3840.4 1462.0,3861.0 1465.4,3885.0 1475.7,3867.9 1486.0,3850.7 1499.7,3874.7 1513.5,3871.3 1527.2,3861.0 1540.9,3857.6 1558.1,3871.3 1568.4,3861.0 1582.1,3854.1 1595.9,3854.1 1609.6,3857.6 1623.4,3861.0 1637.1,3847.3 1640.5,3843.8 1657.7,3861.0 1671.4,3854.1 1685.2,3819.8 1692.0,3840.4 1698.9,3861.0 1705.8,3867.9 1712.6,3874.7 1719.5,3823.2 1725.0,3799.2 1725.0,3808.9 1727.4,3795.2 1734.6,3824.0 1737.5,3838.5 1747.6,3867.3 1769.2,3850.0 1792.3,3876.0 1821.2,3852.9 1829.8,3850.0 1832.7,3863.0 1841.3,3855.8 1850.0,3844.2 1857.2,3809.6 1865.9,3775.0 1874.5,3740.4 1881.7,3751.9 1887.5,3749.0 1896.2,3723.1 1906.2,3694.2 1914.9,3723.1 1922.1,3737.5 1929.3,3743.3 1933.7,3723.1 1939.4,3700.0 1948.1,3666.8 1955.3,3708.7 1959.6,3723.1 1965.4,3751.9 1971.2,3769.2 1976.9,3723.1 1980.4,3688.5 1984.1,3711.5 1988.5,3751.9 1994.2,3751.9 2001.4,3734.6 2005.8,3775.0 2010.1,3809.6 2015.9,3803.8 2021.6,3803.8 2027.4,3809.6 2033.2,3815.4 2038.9,3821.2 2046.2,3815.4 2054.8,3798.1 2063.5,3776.4 2072.1,3780.8 2083.7,3775.0 2089.4,3792.3 2095.2,3809.6 2101.0,3832.7 2105.3,3850.0 2106.7,3852.9 2106.7,3887.0"/>
<polyline class="ly" points="271.9,3887.0 271.9,3881.2 319.9,3884.6 337.1,3886.3 349.1,3852.0 361.2,3877.7 368.0,3882.9 378.3,3874.3 392.1,3855.4 404.1,3877.7 410.9,3882.9 421.2,3876.0 433.3,3860.6 445.3,3881.2 452.2,3886.3 460.7,3884.6 474.5,3843.4 488.2,3877.7 496.8,3884.6 505.4,3870.9 517.4,3831.4 529.4,3864.0 538.0,3881.2 550.0,3874.3 560.3,3864.0 570.6,3843.4 580.2,3817.7 586.1,3840.0 591.2,3864.0 596.4,3870.9 605.0,3850.3 611.8,3843.4 618.7,3809.1 625.6,3781.6 632.4,3761.0 641.0,3754.1 653.0,3802.2 665.1,3843.4 677.1,3865.7 687.4,3850.3 694.3,3819.4 701.1,3829.7 708.0,3840.0 714.9,3843.4 721.7,3838.3 728.6,3833.1 742.3,3809.1 749.2,3791.9 759.5,3798.8 765.0,3795.3 765.0,3785.8 769.7,3728.8 775.9,3771.7 782.8,3806.0 789.6,3823.2 796.5,3833.5 805.1,3837.0 813.7,3847.3 824.0,3864.4 834.3,3874.7 844.6,3874.7 854.9,3874.7 860.0,3871.3 865.2,3840.4 869.3,3806.0 874.8,3778.6 880.6,3833.5 885.8,3874.7 896.1,3874.7 909.8,3861.0 923.6,3847.3 932.2,3819.8 937.3,3792.3 942.5,3812.9 947.6,3833.5 954.5,3847.3 964.8,3854.1 978.5,3864.4 988.8,3843.8 1000.8,3819.8 1009.4,3833.5 1019.7,3837.0 1032.8,3833.5 1040.3,3830.1 1047.2,3840.4 1054.1,3847.3 1064.4,3864.4 1074.7,3854.1 1085.0,3840.4 1095.3,3847.3 1105.6,3850.7 1112.4,3854.1 1119.3,3874.7 1126.2,3878.2 1133.0,3874.7 1139.9,3867.9 1150.2,3847.3 1158.8,3828.4 1170.8,3847.3 1177.7,3840.4 1191.4,3823.2 1201.7,3812.9 1208.6,3830.1 1218.9,3864.4 1232.6,3854.1 1245.0,3847.3 1245.0,3845.7 1264.5,3835.2 1276.5,3847.3 1293.7,3871.3 1305.7,3878.2 1317.7,3840.4 1328.0,3816.3 1346.9,3809.5 1362.4,3816.3 1372.7,3826.6 1379.5,3840.4 1386.4,3847.3 1396.7,3874.7 1403.6,3885.0 1412.2,3871.3 1417.3,3861.0 1424.2,3861.0 1431.0,3867.9 1437.9,3857.6 1444.8,3854.1 1455.1,3840.4 1458.5,3819.8 1472.3,3809.5 1486.0,3790.6 1492.9,3833.5 1499.7,3850.7 1513.5,3871.3 1527.2,3847.3 1537.5,3818.1 1547.8,3840.4 1558.1,3854.1 1568.4,3833.5 1580.4,3807.8 1592.4,3833.5 1599.3,3847.3 1609.6,3833.5 1621.6,3816.3 1630.2,3833.5 1637.1,3850.7 1647.4,3861.0 1661.1,3869.6 1685.2,3874.7 1692.0,3847.3 1698.9,3833.5 1705.8,3812.9 1712.6,3840.4 1719.5,3861.0 1725.0,3840.4 1725.0,3878.3 1727.4,3881.7 1734.6,3852.9 1740.4,3824.0 1747.6,3799.5 1757.7,3812.5 1769.2,3824.0 1780.8,3809.6 1790.9,3790.9 1801.0,3798.1 1813.9,3809.6 1821.2,3832.7 1826.9,3850.0 1834.1,3855.8 1841.3,3852.9 1850.0,3861.5 1857.2,3824.0 1865.9,3803.8 1874.5,3751.9 1878.8,3775.0 1884.6,3803.8 1896.2,3798.1 1906.2,3792.3 1914.9,3818.3 1922.1,3803.8 1929.3,3780.8 1935.1,3714.4 1942.3,3711.5 1948.1,3723.1 1953.8,3723.1 1959.6,3711.5 1965.4,3737.5 1971.2,3751.9 1976.9,3700.0 1980.4,3662.5 1984.1,3694.2 1988.5,3728.8 1994.2,3728.8 2001.4,3708.7 2005.8,3737.5 2010.1,3775.0 2015.9,3769.2 2021.6,3760.6 2027.4,3780.8 2033.2,3803.8 2038.9,3824.0 2046.2,3847.1 2054.8,3852.9 2063.5,3821.2 2072.1,3832.7 2080.8,3803.8 2086.5,3801.0 2092.3,3818.3 2098.1,3832.7 2103.8,3847.1 2106.7,3852.9 2106.7,3887.0"/>
<polyline class="lr" points="278.7,3840.0 289.0,3834.8 299.3,3829.7 309.6,3843.4 319.9,3845.1 330.2,3841.7 344.0,3834.8 354.3,3843.4 368.0,3841.7 385.2,3841.7 402.4,3845.1 419.5,3846.8 436.7,3846.8 453.9,3846.8 471.0,3848.6 488.2,3850.3 505.4,3850.3 522.6,3852.0 539.7,3853.7 553.5,3855.4 563.8,3850.3 574.1,3843.4 584.4,3840.0 594.7,3840.0 599.8,3836.5 603.3,3774.7 606.7,3740.4 611.8,3726.6 617.0,3712.9 622.1,3654.5 627.3,3603.0 630.7,3596.2 634.2,3620.2 639.3,3671.7 644.5,3712.9 649.6,3747.3 656.5,3761.0 663.4,3774.7 670.2,3795.3 677.1,3805.6 684.0,3812.5 694.3,3819.4 704.6,3829.7 714.9,3836.5 725.2,3836.5 735.5,3834.8 745.8,3836.5 756.1,3843.4 765.0,3840.0 765.0,3838.8 772.5,3843.8 782.8,3850.7 796.5,3852.4 810.2,3847.3 820.5,3843.8 830.9,3852.4 841.2,3837.0 848.0,3833.5 854.9,3840.4 861.8,3850.7 875.5,3850.7 889.2,3850.7 903.0,3849.0 916.7,3847.3 930.4,3845.5 944.2,3845.5 957.9,3847.3 971.6,3849.0 985.4,3850.7 999.1,3849.0 1012.9,3847.3 1019.7,3852.4 1026.6,3849.0 1040.3,3852.4 1054.1,3854.1 1071.2,3850.7 1088.4,3847.3 1102.1,3843.8 1109.0,3840.4 1115.9,3837.0 1122.7,3842.1 1133.0,3847.3 1146.8,3847.3 1160.5,3843.8 1174.3,3837.0 1184.6,3830.1 1198.3,3828.4 1212.0,3830.1 1225.8,3833.5 1245.0,3837.0 1245.0,3837.2 1259.3,3838.7 1276.5,3843.8 1293.7,3845.5 1310.9,3845.5 1328.0,3843.8 1345.2,3845.5 1362.4,3843.8 1379.5,3837.0 1396.7,3835.2 1413.9,3833.5 1431.0,3831.8 1444.8,3826.6 1458.5,3831.8 1472.3,3833.5 1486.0,3833.5 1499.7,3835.2 1516.9,3838.7 1534.1,3843.8 1551.2,3843.8 1568.4,3842.1 1585.6,3842.1 1602.7,3840.4 1619.9,3840.4 1637.1,3838.7 1654.3,3837.0 1671.4,3835.2 1688.6,3833.5 1705.8,3831.8 1725.0,3831.8 1725.0,3833.8 1728.8,3834.1 1743.3,3835.6 1757.7,3835.6 1772.1,3835.6 1786.5,3835.6 1801.0,3835.6 1815.4,3837.0 1829.8,3837.0 1844.2,3837.0 1850.0,3829.8 1855.8,3815.4 1864.4,3811.1 1873.1,3812.5 1884.6,3813.9 1890.4,3815.4 1894.7,3835.6 1899.0,3850.0 1907.7,3851.4 1919.2,3851.4 1930.8,3851.4 1945.2,3851.4 1959.6,3851.4 1974.0,3852.9 1988.5,3852.9 2002.9,3852.9 2017.3,3852.9 2031.7,3852.9 2046.2,3852.9 2060.6,3854.3 2075.0,3857.2 2089.4,3860.1 2103.8,3863.0 2108.0,3863.0"/>
<g class="ax" style="stroke-width:4.6"><line x1="269" y1="3053" x2="269" y2="3906"/><line x1="255" y1="3887" x2="2112" y2="3887" style="stroke-width:4.2"/><line x1="2112" y1="3053" x2="2112" y2="3887.5" style="stroke-width:2.8"/><line x1="254" y1="3887.0" x2="269" y2="3887.0"/><line x1="255" y1="3609.0" x2="269" y2="3609.0"/><line x1="255" y1="3331.0" x2="269" y2="3331.0"/><line x1="255" y1="3053.0" x2="269" y2="3053.0"/><line x1="2112" y1="3887.5" x2="2128" y2="3887.5" style="stroke-width:2.8"/><line x1="2112" y1="3804.1" x2="2128" y2="3804.1" style="stroke-width:2.8"/><line x1="2112" y1="3720.6" x2="2128" y2="3720.6" style="stroke-width:2.8"/><line x1="2112" y1="3637.2" x2="2128" y2="3637.2" style="stroke-width:2.8"/><line x1="2112" y1="3553.7" x2="2128" y2="3553.7" style="stroke-width:2.8"/><line x1="2112" y1="3470.2" x2="2128" y2="3470.2" style="stroke-width:2.8"/><line x1="2112" y1="3386.8" x2="2128" y2="3386.8" style="stroke-width:2.8"/><line x1="2112" y1="3303.3" x2="2128" y2="3303.3" style="stroke-width:2.8"/><line x1="2112" y1="3219.9" x2="2128" y2="3219.9" style="stroke-width:2.8"/><line x1="2112" y1="3136.4" x2="2128" y2="3136.4" style="stroke-width:2.8"/><line x1="2112" y1="3053.0" x2="2128" y2="3053.0" style="stroke-width:2.8"/><line x1="269.0" y1="3887" x2="269.0" y2="3907"/><line x1="799.0" y1="3887" x2="799.0" y2="3907"/><line x1="1328.0" y1="3887" x2="1328.0" y2="3907"/><line x1="1857.0" y1="3887" x2="1857.0" y2="3907"/></g>
<g class="tx"><text x="182.4" y="3087.9" font-size="65.8" textLength="37.5" lengthAdjust="spacingAndGlyphs">3</text>
<text x="182.5" y="3361.0" font-size="70.2">2</text>
<text x="185.2" y="3635.0" font-size="64.0" textLength="34.8" lengthAdjust="spacingAndGlyphs">1</text>
<text x="253.1" y="3988.1" font-size="66.4" textLength="36.0" lengthAdjust="spacingAndGlyphs">0</text>
<text x="743.0" y="3984.3" font-size="67.8" textLength="110.7" lengthAdjust="spacingAndGlyphs">100</text>
<text x="1265.3" y="3984.3" font-size="67.8">200</text>
<text x="1804.3" y="3990.3" font-size="69.5">300</text>
<text x="894.0" y="4088.0" font-size="66.2" textLength="595.3" lengthAdjust="spacingAndGlyphs">elution volume, mL</text>
<text x="2151.8" y="3245.3" font-size="65.8" textLength="76.6" lengthAdjust="spacingAndGlyphs">80</text>
<text x="2150.0" y="3406.9" font-size="65.8" textLength="76.2" lengthAdjust="spacingAndGlyphs">60</text>
<text x="2153.2" y="3577.3" font-size="65.4" textLength="75.1" lengthAdjust="spacingAndGlyphs">40</text>
<text x="2151.4" y="3737.1" font-size="66.1" textLength="74.7" lengthAdjust="spacingAndGlyphs">20</text>
<text transform="translate(2324.3,3649.4) rotate(-90)" font-size="72.1" textLength="347.9" lengthAdjust="spacingAndGlyphs">% inhibition</text>
<text transform="translate(140.8,3536.0) rotate(-90)" font-size="88.8" textLength="53.5" lengthAdjust="spacingAndGlyphs">A</text>
<text transform="translate(141.2,3465.3) rotate(-90)" font-size="53.2" textLength="174.3" lengthAdjust="spacingAndGlyphs">254 nm</text>
<text x="364.3" y="3168.0" font-size="83.1" textLength="62.9" lengthAdjust="spacingAndGlyphs">D</text>
<text class="l" x="561.7" y="3211.3" font-size="71.2">a</text>
<text class="l" x="1101.4" y="3535.3" font-size="57.3">b</text>
<text class="l" x="1350.4" y="3329.8" font-size="66.6">c</text>
<text class="l" x="1612.9" y="3453.0" font-size="56.6">d</text>
<text class="l" x="1815.3" y="3251.8" font-size="70.3">e</text></g>
<g class="ar"><line x1="585" y1="3270" x2="585" y2="3599.9" class="as"/><polygon points="564.5,3597.9 605.5,3597.9 585,3637.4"/><line x1="1117.3" y1="3576.2" x2="1117.3" y2="3693" class="as"/><polygon points="1096.8,3691 1137.8,3691 1117.3,3731.6"/><line x1="1384" y1="3401" x2="1384" y2="3646.6" class="as"/><polygon points="1363.5,3644.6 1404.5,3644.6 1384,3684"/><line x1="1646.5" y1="3525" x2="1646.5" y2="3715.3" class="as"/><polygon points="1626.0,3713.3 1667.0,3713.3 1646.5,3752.8"/><line x1="1836" y1="3308.6" x2="1836" y2="3589.5" class="as"/><polygon points="1815.5,3587.5 1856.5,3587.5 1836,3627.9"/></g>
</g>
</svg>
</body></html>
